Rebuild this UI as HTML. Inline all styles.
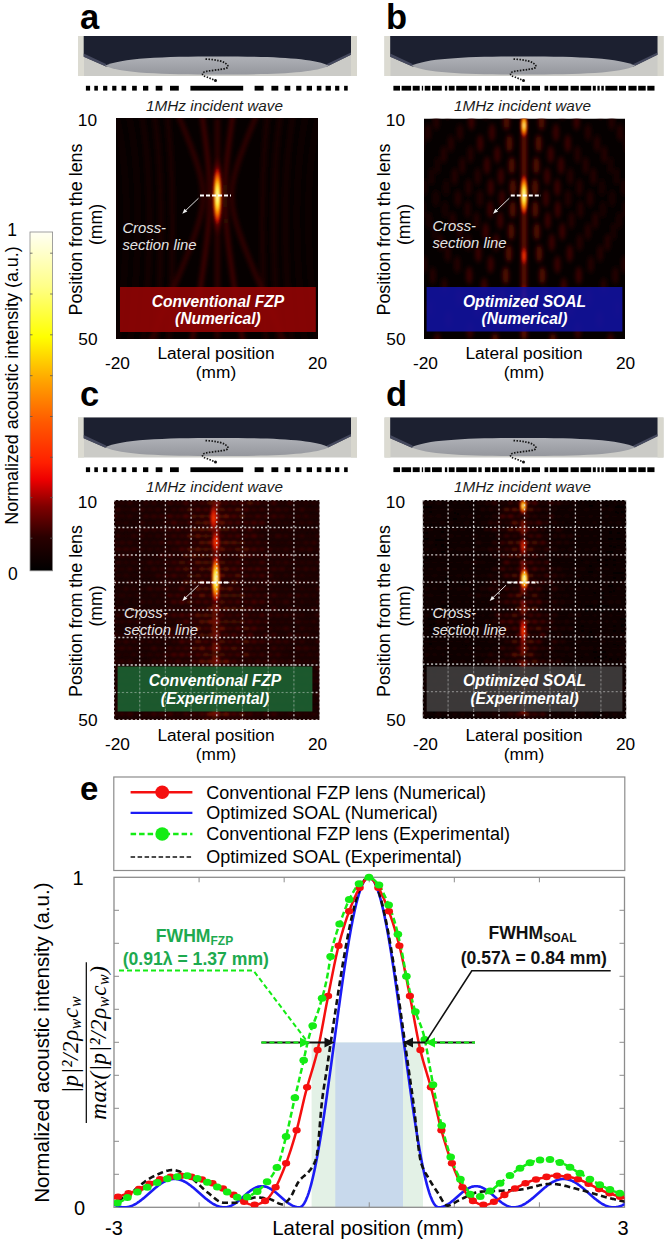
<!DOCTYPE html><html><head><meta charset="utf-8"><style>html,body{margin:0;padding:0;background:#fff;width:666px;height:1243px;overflow:hidden}svg{display:block}</style></head><body><svg width="666" height="1243" viewBox="0 0 666 1243">
<defs>
<filter id="blur1" x="-50%" y="-50%" width="200%" height="200%"><feGaussianBlur stdDeviation="1.2"/></filter>
<filter id="blur2" x="-10%" y="-10%" width="120%" height="120%"><feGaussianBlur stdDeviation="1.5"/></filter><filter id="blur3" x="-10%" y="-10%" width="120%" height="120%"><feGaussianBlur stdDeviation="2.3"/></filter>
<radialGradient id="hot"><stop offset="0" stop-color="#ffffe8"/><stop offset="0.3" stop-color="#ffff40"/><stop offset="0.55" stop-color="#ff9000"/><stop offset="0.8" stop-color="#d01000"/><stop offset="1" stop-color="#500000" stop-opacity="0"/></radialGradient>
<radialGradient id="hot2"><stop offset="0" stop-color="#ffffa0"/><stop offset="0.35" stop-color="#ffb000"/><stop offset="0.7" stop-color="#d02000"/><stop offset="1" stop-color="#500000" stop-opacity="0"/></radialGradient>
<radialGradient id="hot3"><stop offset="0" stop-color="#ff4000"/><stop offset="0.5" stop-color="#c01000"/><stop offset="1" stop-color="#400000" stop-opacity="0"/></radialGradient>
<linearGradient id="cbar" x1="0" y1="1" x2="0" y2="0"><stop offset="0" stop-color="#000"/><stop offset="0.1" stop-color="#2a0000"/><stop offset="0.19" stop-color="#800000"/><stop offset="0.27" stop-color="#ee0000"/><stop offset="0.32" stop-color="#ff2000"/><stop offset="0.44" stop-color="#ff5a00"/><stop offset="0.555" stop-color="#ffa000"/><stop offset="0.69" stop-color="#ffff00"/><stop offset="0.84" stop-color="#ffff88"/><stop offset="1" stop-color="#fffff4"/></linearGradient>
<linearGradient id="disc" x1="0" y1="0" x2="0" y2="1"><stop offset="0" stop-color="#afb1b7"/><stop offset="1" stop-color="#95979d"/></linearGradient>
</defs>
<rect width="666" height="1243" fill="#fff"/>
<text x="80" y="28.5" font-family="Liberation Sans, sans-serif" font-size="34.5" font-weight="bold" font-style="normal" text-anchor="start" fill="#000" >a</text>
<g transform="translate(78,36)">
<rect x="0" y="0" width="279" height="40" fill="#cbcbc7"/>
<rect x="0" y="0" width="6" height="40" fill="#dcdbd2"/>
<rect x="273" y="0" width="6" height="40" fill="#d8d7ce"/>
<path d="M5.7,0 H273 V18.8 L249,30.5 H28 L5.7,20.8 Z" fill="#1c2030"/>
<path d="M5.7,17.5 L28,28 L28,30.5 L5.7,20.8 Z" fill="#50546a" opacity="0.8"/>
<path d="M273,16.5 L249,28 L249,30.5 L273,18.8 Z" fill="#50546a" opacity="0.8"/>
<path d="M27,29.8 C42,22 85,20.4 140,20.4 C195,20.4 236,22 251,29.8 C236,37.2 195,38.6 140,38.6 C85,38.6 42,37.2 27,29.8 Z" fill="url(#disc)"/>
</g>
<path d="M205.5,59.1 C215,59.5 226,61 228.1,66.2 C229,69.5 215,69.6 205.1,71.6 C201,73 202,76 206.5,76.9 L215.3,80.4" fill="none" stroke="#151515" stroke-width="1.7" stroke-dasharray="1.5 1.4"/>
<circle cx="215.5" cy="80.6" r="1.5" fill="#111"/>
<rect x="190.4" y="85.8" width="52.8" height="4.8" fill="#000"/>
<rect x="170.0" y="85.8" width="8.8" height="4.8" fill="#000"/>
<rect x="155.7" y="85.8" width="6.7" height="4.8" fill="#000"/>
<rect x="143.0" y="85.8" width="5.3" height="4.8" fill="#000"/>
<rect x="132.1" y="85.8" width="4.7" height="4.8" fill="#000"/>
<rect x="121.6" y="85.8" width="4.6" height="4.8" fill="#000"/>
<rect x="112.2" y="85.8" width="4.2" height="4.8" fill="#000"/>
<rect x="103.1" y="85.8" width="4.2" height="4.8" fill="#000"/>
<rect x="94.3" y="85.8" width="3.6" height="4.8" fill="#000"/>
<rect x="85.9" y="85.8" width="4.2" height="4.8" fill="#000"/>
<rect x="254.6" y="85.8" width="9.0" height="4.8" fill="#000"/>
<rect x="271.4" y="85.8" width="6.9" height="4.8" fill="#000"/>
<rect x="284.6" y="85.8" width="5.7" height="4.8" fill="#000"/>
<rect x="296.2" y="85.8" width="5.2" height="4.8" fill="#000"/>
<rect x="306.7" y="85.8" width="5.3" height="4.8" fill="#000"/>
<rect x="316.8" y="85.8" width="4.6" height="4.8" fill="#000"/>
<rect x="325.6" y="85.8" width="5.3" height="4.8" fill="#000"/>
<rect x="335.1" y="85.8" width="4.2" height="4.8" fill="#000"/>
<rect x="344.1" y="85.8" width="3.6" height="4.8" fill="#000"/>
<text x="214.5" y="110.5" font-family="Liberation Sans, sans-serif" font-size="15.3" font-weight="normal" font-style="italic" text-anchor="middle" fill="#1a1a1a" >1MHz incident  wave</text>
<text x="97" y="126" font-family="Liberation Sans, sans-serif" font-size="17.3" font-weight="normal" font-style="normal" text-anchor="end" fill="#000" >10</text>
<text x="97.5" y="344.5" font-family="Liberation Sans, sans-serif" font-size="17.3" font-weight="normal" font-style="normal" text-anchor="end" fill="#000" >50</text>
<text transform="translate(82,229.5) rotate(-90)" x="0" y="0" font-family="Liberation Sans, sans-serif" font-size="17.9" font-weight="normal" text-anchor="middle" fill="#000">Position from the lens</text>
<text transform="translate(101.5,224.5) rotate(-90)" x="0" y="0" font-family="Liberation Sans, sans-serif" font-size="17.6" font-weight="normal" text-anchor="middle" fill="#000">(mm)</text>
<text x="117.5" y="368.7" font-family="Liberation Sans, sans-serif" font-size="17.3" font-weight="normal" font-style="normal" text-anchor="middle" fill="#000" >-20</text>
<text x="317.5" y="368.7" font-family="Liberation Sans, sans-serif" font-size="17.3" font-weight="normal" font-style="normal" text-anchor="middle" fill="#000" >20</text>
<text x="216" y="359" font-family="Liberation Sans, sans-serif" font-size="17.3" font-weight="normal" font-style="normal" text-anchor="middle" fill="#000" >Lateral position</text>
<text x="216" y="378.3" font-family="Liberation Sans, sans-serif" font-size="17.3" font-weight="normal" font-style="normal" text-anchor="middle" fill="#000" >(mm)</text>
<clipPath id="clipa"><rect x="116" y="118" width="202" height="221"/></clipPath>
<g clip-path="url(#clipa)">
<rect x="116" y="118" width="202" height="221" fill="#060000"/>
<g filter="url(#blur3)">
<path d="M175.26,108.00 C175.97,109.67 178.09,114.69 179.48,118.04 C180.87,121.39 182.25,124.74 183.61,128.08 C184.98,131.43 186.33,134.78 187.64,138.12 C188.95,141.47 190.26,144.82 191.50,148.17 C192.75,151.51 193.98,154.86 195.12,158.21 C196.26,161.56 197.37,164.90 198.34,168.25 C199.31,171.60 200.23,174.94 200.94,178.29 C201.65,181.64 202.26,184.99 202.59,188.33 C202.93,191.68 203.07,195.03 202.96,198.38 C202.85,201.72 202.48,205.07 201.95,208.42 C201.43,211.76 200.65,215.11 199.81,218.46 C198.96,221.81 197.94,225.15 196.88,228.50 C195.82,231.85 194.64,235.19 193.44,238.54 C192.25,241.89 190.98,245.24 189.70,248.58 C188.42,251.93 187.09,255.28 185.75,258.62 C184.41,261.97 183.05,265.32 181.67,268.67 C180.29,272.01 178.90,275.36 177.49,278.71 C176.09,282.06 174.67,285.40 173.25,288.75 C171.83,292.10 170.39,295.44 168.95,298.79 C167.52,302.14 166.07,305.49 164.62,308.83 C163.17,312.18 161.72,315.53 160.26,318.88 C158.80,322.22 157.34,325.57 155.88,328.92 C154.41,332.26 152.95,335.61 151.48,338.96 C150.01,342.31 147.80,347.33 147.06,349.00" fill="none" stroke="#3a0605" stroke-width="4"/>
<path d="M200.93,108.00 C201.17,109.67 201.92,114.69 202.40,118.04 C202.88,121.39 203.36,124.74 203.82,128.08 C204.29,131.43 204.74,134.78 205.18,138.12 C205.62,141.47 206.05,144.82 206.45,148.17 C206.86,151.51 207.25,154.86 207.61,158.21 C207.96,161.56 208.30,164.90 208.59,168.25 C208.88,171.60 209.14,174.94 209.34,178.29 C209.54,181.64 209.70,184.99 209.79,188.33 C209.88,191.68 209.92,195.03 209.89,198.38 C209.86,201.72 209.77,205.07 209.62,208.42 C209.47,211.76 209.26,215.11 209.02,218.46 C208.77,221.81 208.47,225.15 208.15,228.50 C207.83,231.85 207.46,235.19 207.08,238.54 C206.70,241.89 206.29,245.24 205.87,248.58 C205.44,251.93 205.00,255.28 204.55,258.62 C204.10,261.97 203.63,265.32 203.15,268.67 C202.68,272.01 202.20,275.36 201.71,278.71 C201.22,282.06 200.72,285.40 200.22,288.75 C199.72,292.10 199.21,295.44 198.70,298.79 C198.19,302.14 197.67,305.49 197.15,308.83 C196.64,312.18 196.11,315.53 195.59,318.88 C195.07,322.22 194.54,325.57 194.01,328.92 C193.48,332.26 192.95,335.61 192.42,338.96 C191.89,342.31 191.09,347.33 190.82,349.00" fill="none" stroke="#4a0806" stroke-width="4"/>
<path d="M233.87,108.00 C233.63,109.67 232.88,114.69 232.40,118.04 C231.92,121.39 231.44,124.74 230.98,128.08 C230.51,131.43 230.06,134.78 229.62,138.12 C229.18,141.47 228.75,144.82 228.35,148.17 C227.94,151.51 227.55,154.86 227.19,158.21 C226.84,161.56 226.50,164.90 226.21,168.25 C225.92,171.60 225.66,174.94 225.46,178.29 C225.26,181.64 225.10,184.99 225.01,188.33 C224.92,191.68 224.88,195.03 224.91,198.38 C224.94,201.72 225.03,205.07 225.18,208.42 C225.33,211.76 225.54,215.11 225.78,218.46 C226.03,221.81 226.33,225.15 226.65,228.50 C226.97,231.85 227.34,235.19 227.72,238.54 C228.10,241.89 228.51,245.24 228.93,248.58 C229.36,251.93 229.80,255.28 230.25,258.62 C230.70,261.97 231.17,265.32 231.65,268.67 C232.12,272.01 232.60,275.36 233.09,278.71 C233.58,282.06 234.08,285.40 234.58,288.75 C235.08,292.10 235.59,295.44 236.10,298.79 C236.61,302.14 237.13,305.49 237.65,308.83 C238.16,312.18 238.69,315.53 239.21,318.88 C239.73,322.22 240.26,325.57 240.79,328.92 C241.32,332.26 241.85,335.61 242.38,338.96 C242.91,342.31 243.71,347.33 243.98,349.00" fill="none" stroke="#4a0806" stroke-width="4"/>
<path d="M259.54,108.00 C258.83,109.67 256.71,114.69 255.32,118.04 C253.93,121.39 252.55,124.74 251.19,128.08 C249.82,131.43 248.47,134.78 247.16,138.12 C245.85,141.47 244.54,144.82 243.30,148.17 C242.05,151.51 240.82,154.86 239.68,158.21 C238.54,161.56 237.43,164.90 236.46,168.25 C235.49,171.60 234.57,174.94 233.86,178.29 C233.15,181.64 232.54,184.99 232.21,188.33 C231.87,191.68 231.73,195.03 231.84,198.38 C231.95,201.72 232.32,205.07 232.85,208.42 C233.37,211.76 234.15,215.11 234.99,218.46 C235.84,221.81 236.86,225.15 237.92,228.50 C238.98,231.85 240.16,235.19 241.36,238.54 C242.55,241.89 243.82,245.24 245.10,248.58 C246.38,251.93 247.71,255.28 249.05,258.62 C250.39,261.97 251.75,265.32 253.13,268.67 C254.51,272.01 255.90,275.36 257.31,278.71 C258.71,282.06 260.13,285.40 261.55,288.75 C262.97,292.10 264.41,295.44 265.85,298.79 C267.28,302.14 268.73,305.49 270.18,308.83 C271.63,312.18 273.08,315.53 274.54,318.88 C276.00,322.22 277.46,325.57 278.92,328.92 C280.39,332.26 281.85,335.61 283.32,338.96 C284.79,342.31 287.00,347.33 287.74,349.00" fill="none" stroke="#3a0605" stroke-width="4"/>
<path d="M166.4,108 Q177.4,196 168.4,349" fill="none" stroke="#2a0504" stroke-width="4.5" opacity="0.72"/>
<path d="M268.4,108 Q257.4,196 266.4,349" fill="none" stroke="#2a0504" stroke-width="4.5" opacity="0.72"/>
<path d="M153.4,108 Q167.4,196 155.4,349" fill="none" stroke="#2a0504" stroke-width="4.5" opacity="0.61"/>
<path d="M281.4,108 Q267.4,196 279.4,349" fill="none" stroke="#2a0504" stroke-width="4.5" opacity="0.61"/>
<path d="M140.4,108 Q157.4,196 142.4,349" fill="none" stroke="#2a0504" stroke-width="4.5" opacity="0.50"/>
<path d="M294.4,108 Q277.4,196 292.4,349" fill="none" stroke="#2a0504" stroke-width="4.5" opacity="0.50"/>
<path d="M127.4,108 Q147.4,196 129.4,349" fill="none" stroke="#2a0504" stroke-width="4.5" opacity="0.39"/>
<path d="M307.4,108 Q287.4,196 305.4,349" fill="none" stroke="#2a0504" stroke-width="4.5" opacity="0.39"/>
<path d="M114.4,108 Q137.4,196 116.4,349" fill="none" stroke="#2a0504" stroke-width="4.5" opacity="0.28"/>
<path d="M320.4,108 Q297.4,196 318.4,349" fill="none" stroke="#2a0504" stroke-width="4.5" opacity="0.28"/>
<path d="M101.4,108 Q127.4,196 103.4,349" fill="none" stroke="#2a0504" stroke-width="4.5" opacity="0.25"/>
<path d="M333.4,108 Q307.4,196 331.4,349" fill="none" stroke="#2a0504" stroke-width="4.5" opacity="0.25"/>
<line x1="217.4" y1="118" x2="217.4" y2="339" stroke="#3a0604" stroke-width="4"/>
</g>
<g filter="url(#blur1)">
<ellipse cx="217.4" cy="196" rx="7" ry="42" fill="url(#hot3)" opacity="0.8"/>
<ellipse cx="217.4" cy="196" rx="4.3" ry="31" fill="url(#hot)"/>
</g>
<rect x="120" y="287" width="195.8" height="45" fill="#920404" opacity="0.9"/>
</g>
<text x="217.9" y="306.5" font-family="Liberation Sans, sans-serif" font-size="15.6" font-weight="bold" font-style="italic" text-anchor="middle" fill="#fff" >Conventional FZP</text>
<text x="217.9" y="324" font-family="Liberation Sans, sans-serif" font-size="15.6" font-weight="bold" font-style="italic" text-anchor="middle" fill="#fff" >(Numerical)</text>
<line x1="200" y1="195.5" x2="231" y2="195.5" stroke="#fff" stroke-width="2" stroke-dasharray="4 2"/>
<line x1="198.5" y1="198.2" x2="184.3" y2="211.79999999999998" stroke="#ddd" stroke-width="1"/>
<path d="M182.3,213.79999999999998 l2.2,-5 l2.8,2.8 z" fill="#eee"/>
<text x="122.4" y="232.8" font-family="Liberation Sans, sans-serif" font-size="14.8" font-weight="normal" font-style="italic" text-anchor="start" fill="#e4e4e4" >Cross-</text>
<text x="122.4" y="250.10000000000002" font-family="Liberation Sans, sans-serif" font-size="14.8" font-weight="normal" font-style="italic" text-anchor="start" fill="#e4e4e4" >section line</text>
<text x="386" y="28.5" font-family="Liberation Sans, sans-serif" font-size="34.5" font-weight="bold" font-style="normal" text-anchor="start" fill="#000" >b</text>
<g transform="translate(384.5,36)">
<rect x="0" y="0" width="279" height="40" fill="#cbcbc7"/>
<rect x="0" y="0" width="6" height="40" fill="#dcdbd2"/>
<rect x="273" y="0" width="6" height="40" fill="#d8d7ce"/>
<path d="M5.7,0 H273 V18.8 L249,30.5 H28 L5.7,20.8 Z" fill="#1c2030"/>
<path d="M5.7,17.5 L28,28 L28,30.5 L5.7,20.8 Z" fill="#50546a" opacity="0.8"/>
<path d="M273,16.5 L249,28 L249,30.5 L273,18.8 Z" fill="#50546a" opacity="0.8"/>
<path d="M27,29.8 C42,22 85,20.4 140,20.4 C195,20.4 236,22 251,29.8 C236,37.2 195,38.6 140,38.6 C85,38.6 42,37.2 27,29.8 Z" fill="url(#disc)"/>
</g>
<path d="M513.5,59.1 C523,59.5 534,61 536.1,66.2 C537,69.5 523,69.6 513.1,71.6 C509,73 510,76 514.5,76.9 L523.3,80.4" fill="none" stroke="#151515" stroke-width="1.7" stroke-dasharray="1.5 1.4"/>
<circle cx="523.5" cy="80.6" r="1.5" fill="#111"/>
<rect x="393.4" y="85.8" width="6.6" height="4.8" fill="#000"/>
<rect x="401.6" y="85.8" width="9.5" height="4.8" fill="#000"/>
<rect x="412.7" y="85.8" width="7.0" height="4.8" fill="#000"/>
<rect x="421.8" y="85.8" width="1.3" height="4.8" fill="#000"/>
<rect x="424.7" y="85.8" width="5.7" height="4.8" fill="#000"/>
<rect x="432.0" y="85.8" width="9.8" height="4.8" fill="#000"/>
<rect x="444.9" y="85.8" width="2.3" height="4.8" fill="#000"/>
<rect x="448.8" y="85.8" width="5.8" height="4.8" fill="#000"/>
<rect x="456.2" y="85.8" width="11.0" height="4.8" fill="#000"/>
<rect x="468.8" y="85.8" width="7.9" height="4.8" fill="#000"/>
<rect x="478.3" y="85.8" width="3.4" height="4.8" fill="#000"/>
<rect x="484.9" y="85.8" width="5.5" height="4.8" fill="#000"/>
<rect x="492.0" y="85.8" width="6.8" height="4.8" fill="#000"/>
<rect x="500.4" y="85.8" width="6.8" height="4.8" fill="#000"/>
<rect x="508.8" y="85.8" width="4.7" height="4.8" fill="#000"/>
<rect x="515.1" y="85.8" width="4.8" height="4.8" fill="#000"/>
<rect x="521.5" y="85.8" width="8.6" height="4.8" fill="#000"/>
<rect x="531.7" y="85.8" width="8.3" height="4.8" fill="#000"/>
<rect x="544.5" y="85.8" width="3.7" height="4.8" fill="#000"/>
<rect x="549.8" y="85.8" width="7.4" height="4.8" fill="#000"/>
<rect x="558.8" y="85.8" width="9.5" height="4.8" fill="#000"/>
<rect x="570.6" y="85.8" width="8.2" height="4.8" fill="#000"/>
<rect x="580.4" y="85.8" width="10.8" height="4.8" fill="#000"/>
<rect x="592.8" y="85.8" width="3.0" height="4.8" fill="#000"/>
<rect x="597.4" y="85.8" width="2.3" height="4.8" fill="#000"/>
<rect x="601.3" y="85.8" width="2.5" height="4.8" fill="#000"/>
<rect x="605.4" y="85.8" width="12.0" height="4.8" fill="#000"/>
<rect x="619.0" y="85.8" width="7.0" height="4.8" fill="#000"/>
<rect x="628.4" y="85.8" width="8.2" height="4.8" fill="#000"/>
<rect x="638.2" y="85.8" width="7.5" height="4.8" fill="#000"/>
<rect x="647.3" y="85.8" width="7.2" height="4.8" fill="#000"/>
<text x="522.5" y="110.5" font-family="Liberation Sans, sans-serif" font-size="15.3" font-weight="normal" font-style="italic" text-anchor="middle" fill="#1a1a1a" >1MHz incident  wave</text>
<text x="405" y="126" font-family="Liberation Sans, sans-serif" font-size="17.3" font-weight="normal" font-style="normal" text-anchor="end" fill="#000" >10</text>
<text x="405.5" y="344.5" font-family="Liberation Sans, sans-serif" font-size="17.3" font-weight="normal" font-style="normal" text-anchor="end" fill="#000" >50</text>
<text transform="translate(390,229.5) rotate(-90)" x="0" y="0" font-family="Liberation Sans, sans-serif" font-size="17.9" font-weight="normal" text-anchor="middle" fill="#000">Position from the lens</text>
<text transform="translate(409.5,224.5) rotate(-90)" x="0" y="0" font-family="Liberation Sans, sans-serif" font-size="17.6" font-weight="normal" text-anchor="middle" fill="#000">(mm)</text>
<text x="425.5" y="368.7" font-family="Liberation Sans, sans-serif" font-size="17.3" font-weight="normal" font-style="normal" text-anchor="middle" fill="#000" >-20</text>
<text x="625.5" y="368.7" font-family="Liberation Sans, sans-serif" font-size="17.3" font-weight="normal" font-style="normal" text-anchor="middle" fill="#000" >20</text>
<text x="524" y="359" font-family="Liberation Sans, sans-serif" font-size="17.3" font-weight="normal" font-style="normal" text-anchor="middle" fill="#000" >Lateral position</text>
<text x="524" y="378.3" font-family="Liberation Sans, sans-serif" font-size="17.3" font-weight="normal" font-style="normal" text-anchor="middle" fill="#000" >(mm)</text>
<clipPath id="clipb"><rect x="424" y="118.5" width="201" height="220.5"/></clipPath>
<g clip-path="url(#clipb)">
<rect x="424" y="118.5" width="201" height="220.5" fill="#050000"/>
<g filter="url(#blur3)">
<ellipse cx="366.2" cy="121.5" rx="3" ry="9" fill="#1a0202"/>
<ellipse cx="392.5" cy="143.5" rx="3" ry="9" fill="#1a0202"/>
<ellipse cx="412.9" cy="165.5" rx="3" ry="9" fill="#1a0202"/>
<ellipse cx="424.0" cy="187.5" rx="3" ry="9" fill="#1a0202"/>
<ellipse cx="422.5" cy="209.5" rx="3" ry="9" fill="#1a0202"/>
<ellipse cx="409.0" cy="231.5" rx="3" ry="9" fill="#1a0202"/>
<ellipse cx="386.9" cy="253.5" rx="3" ry="9" fill="#1a0202"/>
<ellipse cx="359.7" cy="275.5" rx="3" ry="9" fill="#1a0202"/>
<ellipse cx="329.5" cy="297.5" rx="3" ry="9" fill="#1a0202"/>
<ellipse cx="297.4" cy="319.5" rx="3" ry="9" fill="#1a0202"/>
<ellipse cx="264.3" cy="341.5" rx="3" ry="9" fill="#1a0202"/>
<ellipse cx="370.8" cy="110.5" rx="3" ry="9" fill="#1a0202"/>
<ellipse cx="395.9" cy="132.5" rx="3" ry="9" fill="#1a0202"/>
<ellipse cx="417.0" cy="154.5" rx="3" ry="9" fill="#1a0202"/>
<ellipse cx="431.5" cy="176.5" rx="3" ry="9" fill="#1a0202"/>
<ellipse cx="435.9" cy="198.5" rx="3" ry="9" fill="#1a0202"/>
<ellipse cx="428.9" cy="220.5" rx="3" ry="9" fill="#1a0202"/>
<ellipse cx="412.7" cy="242.5" rx="3" ry="9" fill="#1a0202"/>
<ellipse cx="390.4" cy="264.5" rx="3" ry="9" fill="#1a0202"/>
<ellipse cx="364.7" cy="286.5" rx="3" ry="9" fill="#1a0202"/>
<ellipse cx="337.0" cy="308.5" rx="3" ry="9" fill="#1a0202"/>
<ellipse cx="308.0" cy="330.5" rx="3" ry="9" fill="#1a0202"/>
<ellipse cx="401.2" cy="121.5" rx="3" ry="9" fill="#1a0202"/>
<ellipse cx="421.7" cy="143.5" rx="3" ry="9" fill="#1a0202"/>
<ellipse cx="437.6" cy="165.5" rx="3" ry="9" fill="#1a0202"/>
<ellipse cx="446.2" cy="187.5" rx="3" ry="9" fill="#1a0202"/>
<ellipse cx="445.1" cy="209.5" rx="3" ry="9" fill="#1a0202"/>
<ellipse cx="434.5" cy="231.5" rx="3" ry="9" fill="#1a0202"/>
<ellipse cx="417.4" cy="253.5" rx="3" ry="9" fill="#1a0202"/>
<ellipse cx="396.2" cy="275.5" rx="3" ry="9" fill="#1a0202"/>
<ellipse cx="372.7" cy="297.5" rx="3" ry="9" fill="#1a0202"/>
<ellipse cx="347.8" cy="319.5" rx="3" ry="9" fill="#1a0202"/>
<ellipse cx="322.0" cy="341.5" rx="3" ry="9" fill="#1a0202"/>
<ellipse cx="409.1" cy="110.5" rx="3" ry="9" fill="#260404"/>
<ellipse cx="427.9" cy="132.5" rx="3" ry="9" fill="#260404"/>
<ellipse cx="443.8" cy="154.5" rx="3" ry="9" fill="#260404"/>
<ellipse cx="454.6" cy="176.5" rx="3" ry="9" fill="#260404"/>
<ellipse cx="457.9" cy="198.5" rx="3" ry="9" fill="#260404"/>
<ellipse cx="452.7" cy="220.5" rx="3" ry="9" fill="#260404"/>
<ellipse cx="440.5" cy="242.5" rx="3" ry="9" fill="#260404"/>
<ellipse cx="423.8" cy="264.5" rx="3" ry="9" fill="#260404"/>
<ellipse cx="404.6" cy="286.5" rx="3" ry="9" fill="#260404"/>
<ellipse cx="383.8" cy="308.5" rx="3" ry="9" fill="#260404"/>
<ellipse cx="362.0" cy="330.5" rx="3" ry="9" fill="#260404"/>
<ellipse cx="436.3" cy="121.5" rx="3" ry="9" fill="#260404"/>
<ellipse cx="450.9" cy="143.5" rx="3" ry="9" fill="#260404"/>
<ellipse cx="462.3" cy="165.5" rx="3" ry="9" fill="#260404"/>
<ellipse cx="468.5" cy="187.5" rx="3" ry="9" fill="#260404"/>
<ellipse cx="467.6" cy="209.5" rx="3" ry="9" fill="#260404"/>
<ellipse cx="460.1" cy="231.5" rx="3" ry="9" fill="#260404"/>
<ellipse cx="447.8" cy="253.5" rx="3" ry="9" fill="#260404"/>
<ellipse cx="432.7" cy="275.5" rx="3" ry="9" fill="#260404"/>
<ellipse cx="415.9" cy="297.5" rx="3" ry="9" fill="#260404"/>
<ellipse cx="398.1" cy="319.5" rx="3" ry="9" fill="#260404"/>
<ellipse cx="379.7" cy="341.5" rx="3" ry="9" fill="#260404"/>
<ellipse cx="447.4" cy="110.5" rx="3" ry="9" fill="#260404"/>
<ellipse cx="459.9" cy="132.5" rx="3" ry="9" fill="#260404"/>
<ellipse cx="470.5" cy="154.5" rx="3" ry="9" fill="#260404"/>
<ellipse cx="477.7" cy="176.5" rx="3" ry="9" fill="#260404"/>
<ellipse cx="480.0" cy="198.5" rx="3" ry="9" fill="#260404"/>
<ellipse cx="476.5" cy="220.5" rx="3" ry="9" fill="#260404"/>
<ellipse cx="468.3" cy="242.5" rx="3" ry="9" fill="#260404"/>
<ellipse cx="457.2" cy="264.5" rx="3" ry="9" fill="#260404"/>
<ellipse cx="444.4" cy="286.5" rx="3" ry="9" fill="#260404"/>
<ellipse cx="430.5" cy="308.5" rx="3" ry="9" fill="#260404"/>
<ellipse cx="416.0" cy="330.5" rx="3" ry="9" fill="#260404"/>
<ellipse cx="471.4" cy="121.5" rx="3" ry="9" fill="#3c0605"/>
<ellipse cx="480.2" cy="143.5" rx="3" ry="9" fill="#3c0605"/>
<ellipse cx="487.0" cy="165.5" rx="3" ry="9" fill="#3c0605"/>
<ellipse cx="490.7" cy="187.5" rx="3" ry="9" fill="#3c0605"/>
<ellipse cx="490.2" cy="209.5" rx="3" ry="9" fill="#3c0605"/>
<ellipse cx="485.7" cy="231.5" rx="3" ry="9" fill="#3c0605"/>
<ellipse cx="478.3" cy="253.5" rx="3" ry="9" fill="#3c0605"/>
<ellipse cx="469.2" cy="275.5" rx="3" ry="9" fill="#3c0605"/>
<ellipse cx="459.2" cy="297.5" rx="3" ry="9" fill="#3c0605"/>
<ellipse cx="448.5" cy="319.5" rx="3" ry="9" fill="#3c0605"/>
<ellipse cx="437.4" cy="341.5" rx="3" ry="9" fill="#3c0605"/>
<ellipse cx="485.7" cy="110.5" rx="3" ry="9" fill="#3c0605"/>
<ellipse cx="492.0" cy="132.5" rx="3" ry="9" fill="#3c0605"/>
<ellipse cx="497.3" cy="154.5" rx="3" ry="9" fill="#3c0605"/>
<ellipse cx="500.9" cy="176.5" rx="3" ry="9" fill="#3c0605"/>
<ellipse cx="502.0" cy="198.5" rx="3" ry="9" fill="#3c0605"/>
<ellipse cx="500.2" cy="220.5" rx="3" ry="9" fill="#3c0605"/>
<ellipse cx="496.2" cy="242.5" rx="3" ry="9" fill="#3c0605"/>
<ellipse cx="490.6" cy="264.5" rx="3" ry="9" fill="#3c0605"/>
<ellipse cx="484.2" cy="286.5" rx="3" ry="9" fill="#3c0605"/>
<ellipse cx="477.2" cy="308.5" rx="3" ry="9" fill="#3c0605"/>
<ellipse cx="470.0" cy="330.5" rx="3" ry="9" fill="#3c0605"/>
<ellipse cx="506.5" cy="121.5" rx="3" ry="9" fill="#5a0906"/>
<ellipse cx="509.4" cy="143.5" rx="3" ry="9" fill="#5a0906"/>
<ellipse cx="511.7" cy="165.5" rx="3" ry="9" fill="#5a0906"/>
<ellipse cx="512.9" cy="187.5" rx="3" ry="9" fill="#5a0906"/>
<ellipse cx="512.7" cy="209.5" rx="3" ry="9" fill="#5a0906"/>
<ellipse cx="511.2" cy="231.5" rx="3" ry="9" fill="#5a0906"/>
<ellipse cx="508.8" cy="253.5" rx="3" ry="9" fill="#5a0906"/>
<ellipse cx="505.7" cy="275.5" rx="3" ry="9" fill="#5a0906"/>
<ellipse cx="502.4" cy="297.5" rx="3" ry="9" fill="#5a0906"/>
<ellipse cx="498.8" cy="319.5" rx="3" ry="9" fill="#5a0906"/>
<ellipse cx="495.1" cy="341.5" rx="3" ry="9" fill="#5a0906"/>
<ellipse cx="541.5" cy="121.5" rx="3" ry="9" fill="#5a0906"/>
<ellipse cx="538.6" cy="143.5" rx="3" ry="9" fill="#5a0906"/>
<ellipse cx="536.3" cy="165.5" rx="3" ry="9" fill="#5a0906"/>
<ellipse cx="535.1" cy="187.5" rx="3" ry="9" fill="#5a0906"/>
<ellipse cx="535.3" cy="209.5" rx="3" ry="9" fill="#5a0906"/>
<ellipse cx="536.8" cy="231.5" rx="3" ry="9" fill="#5a0906"/>
<ellipse cx="539.2" cy="253.5" rx="3" ry="9" fill="#5a0906"/>
<ellipse cx="542.3" cy="275.5" rx="3" ry="9" fill="#5a0906"/>
<ellipse cx="545.6" cy="297.5" rx="3" ry="9" fill="#5a0906"/>
<ellipse cx="549.2" cy="319.5" rx="3" ry="9" fill="#5a0906"/>
<ellipse cx="552.9" cy="341.5" rx="3" ry="9" fill="#5a0906"/>
<ellipse cx="562.3" cy="110.5" rx="3" ry="9" fill="#3c0605"/>
<ellipse cx="556.0" cy="132.5" rx="3" ry="9" fill="#3c0605"/>
<ellipse cx="550.7" cy="154.5" rx="3" ry="9" fill="#3c0605"/>
<ellipse cx="547.1" cy="176.5" rx="3" ry="9" fill="#3c0605"/>
<ellipse cx="546.0" cy="198.5" rx="3" ry="9" fill="#3c0605"/>
<ellipse cx="547.8" cy="220.5" rx="3" ry="9" fill="#3c0605"/>
<ellipse cx="551.8" cy="242.5" rx="3" ry="9" fill="#3c0605"/>
<ellipse cx="557.4" cy="264.5" rx="3" ry="9" fill="#3c0605"/>
<ellipse cx="563.8" cy="286.5" rx="3" ry="9" fill="#3c0605"/>
<ellipse cx="570.8" cy="308.5" rx="3" ry="9" fill="#3c0605"/>
<ellipse cx="578.0" cy="330.5" rx="3" ry="9" fill="#3c0605"/>
<ellipse cx="576.6" cy="121.5" rx="3" ry="9" fill="#3c0605"/>
<ellipse cx="567.8" cy="143.5" rx="3" ry="9" fill="#3c0605"/>
<ellipse cx="561.0" cy="165.5" rx="3" ry="9" fill="#3c0605"/>
<ellipse cx="557.3" cy="187.5" rx="3" ry="9" fill="#3c0605"/>
<ellipse cx="557.8" cy="209.5" rx="3" ry="9" fill="#3c0605"/>
<ellipse cx="562.3" cy="231.5" rx="3" ry="9" fill="#3c0605"/>
<ellipse cx="569.7" cy="253.5" rx="3" ry="9" fill="#3c0605"/>
<ellipse cx="578.8" cy="275.5" rx="3" ry="9" fill="#3c0605"/>
<ellipse cx="588.8" cy="297.5" rx="3" ry="9" fill="#3c0605"/>
<ellipse cx="599.5" cy="319.5" rx="3" ry="9" fill="#3c0605"/>
<ellipse cx="610.6" cy="341.5" rx="3" ry="9" fill="#3c0605"/>
<ellipse cx="600.6" cy="110.5" rx="3" ry="9" fill="#260404"/>
<ellipse cx="588.1" cy="132.5" rx="3" ry="9" fill="#260404"/>
<ellipse cx="577.5" cy="154.5" rx="3" ry="9" fill="#260404"/>
<ellipse cx="570.3" cy="176.5" rx="3" ry="9" fill="#260404"/>
<ellipse cx="568.0" cy="198.5" rx="3" ry="9" fill="#260404"/>
<ellipse cx="571.5" cy="220.5" rx="3" ry="9" fill="#260404"/>
<ellipse cx="579.7" cy="242.5" rx="3" ry="9" fill="#260404"/>
<ellipse cx="590.8" cy="264.5" rx="3" ry="9" fill="#260404"/>
<ellipse cx="603.6" cy="286.5" rx="3" ry="9" fill="#260404"/>
<ellipse cx="617.5" cy="308.5" rx="3" ry="9" fill="#260404"/>
<ellipse cx="632.0" cy="330.5" rx="3" ry="9" fill="#260404"/>
<ellipse cx="611.7" cy="121.5" rx="3" ry="9" fill="#260404"/>
<ellipse cx="597.1" cy="143.5" rx="3" ry="9" fill="#260404"/>
<ellipse cx="585.7" cy="165.5" rx="3" ry="9" fill="#260404"/>
<ellipse cx="579.5" cy="187.5" rx="3" ry="9" fill="#260404"/>
<ellipse cx="580.4" cy="209.5" rx="3" ry="9" fill="#260404"/>
<ellipse cx="587.9" cy="231.5" rx="3" ry="9" fill="#260404"/>
<ellipse cx="600.2" cy="253.5" rx="3" ry="9" fill="#260404"/>
<ellipse cx="615.3" cy="275.5" rx="3" ry="9" fill="#260404"/>
<ellipse cx="632.1" cy="297.5" rx="3" ry="9" fill="#260404"/>
<ellipse cx="649.9" cy="319.5" rx="3" ry="9" fill="#260404"/>
<ellipse cx="668.3" cy="341.5" rx="3" ry="9" fill="#260404"/>
<ellipse cx="638.9" cy="110.5" rx="3" ry="9" fill="#260404"/>
<ellipse cx="620.1" cy="132.5" rx="3" ry="9" fill="#260404"/>
<ellipse cx="604.2" cy="154.5" rx="3" ry="9" fill="#260404"/>
<ellipse cx="593.4" cy="176.5" rx="3" ry="9" fill="#260404"/>
<ellipse cx="590.1" cy="198.5" rx="3" ry="9" fill="#260404"/>
<ellipse cx="595.3" cy="220.5" rx="3" ry="9" fill="#260404"/>
<ellipse cx="607.5" cy="242.5" rx="3" ry="9" fill="#260404"/>
<ellipse cx="624.2" cy="264.5" rx="3" ry="9" fill="#260404"/>
<ellipse cx="643.4" cy="286.5" rx="3" ry="9" fill="#260404"/>
<ellipse cx="664.2" cy="308.5" rx="3" ry="9" fill="#260404"/>
<ellipse cx="686.0" cy="330.5" rx="3" ry="9" fill="#260404"/>
<ellipse cx="646.8" cy="121.5" rx="3" ry="9" fill="#1a0202"/>
<ellipse cx="626.3" cy="143.5" rx="3" ry="9" fill="#1a0202"/>
<ellipse cx="610.4" cy="165.5" rx="3" ry="9" fill="#1a0202"/>
<ellipse cx="601.8" cy="187.5" rx="3" ry="9" fill="#1a0202"/>
<ellipse cx="602.9" cy="209.5" rx="3" ry="9" fill="#1a0202"/>
<ellipse cx="613.5" cy="231.5" rx="3" ry="9" fill="#1a0202"/>
<ellipse cx="630.6" cy="253.5" rx="3" ry="9" fill="#1a0202"/>
<ellipse cx="651.8" cy="275.5" rx="3" ry="9" fill="#1a0202"/>
<ellipse cx="675.3" cy="297.5" rx="3" ry="9" fill="#1a0202"/>
<ellipse cx="700.2" cy="319.5" rx="3" ry="9" fill="#1a0202"/>
<ellipse cx="726.0" cy="341.5" rx="3" ry="9" fill="#1a0202"/>
<ellipse cx="677.2" cy="110.5" rx="3" ry="9" fill="#1a0202"/>
<ellipse cx="652.1" cy="132.5" rx="3" ry="9" fill="#1a0202"/>
<ellipse cx="631.0" cy="154.5" rx="3" ry="9" fill="#1a0202"/>
<ellipse cx="616.5" cy="176.5" rx="3" ry="9" fill="#1a0202"/>
<ellipse cx="612.1" cy="198.5" rx="3" ry="9" fill="#1a0202"/>
<ellipse cx="619.1" cy="220.5" rx="3" ry="9" fill="#1a0202"/>
<ellipse cx="635.3" cy="242.5" rx="3" ry="9" fill="#1a0202"/>
<ellipse cx="657.6" cy="264.5" rx="3" ry="9" fill="#1a0202"/>
<ellipse cx="683.3" cy="286.5" rx="3" ry="9" fill="#1a0202"/>
<ellipse cx="711.0" cy="308.5" rx="3" ry="9" fill="#1a0202"/>
<ellipse cx="740.0" cy="330.5" rx="3" ry="9" fill="#1a0202"/>
<ellipse cx="681.8" cy="121.5" rx="3" ry="9" fill="#1a0202"/>
<ellipse cx="655.5" cy="143.5" rx="3" ry="9" fill="#1a0202"/>
<ellipse cx="635.1" cy="165.5" rx="3" ry="9" fill="#1a0202"/>
<ellipse cx="624.0" cy="187.5" rx="3" ry="9" fill="#1a0202"/>
<ellipse cx="625.5" cy="209.5" rx="3" ry="9" fill="#1a0202"/>
<ellipse cx="639.0" cy="231.5" rx="3" ry="9" fill="#1a0202"/>
<ellipse cx="661.1" cy="253.5" rx="3" ry="9" fill="#1a0202"/>
<ellipse cx="688.3" cy="275.5" rx="3" ry="9" fill="#1a0202"/>
<ellipse cx="718.5" cy="297.5" rx="3" ry="9" fill="#1a0202"/>
<ellipse cx="750.6" cy="319.5" rx="3" ry="9" fill="#1a0202"/>
<ellipse cx="783.7" cy="341.5" rx="3" ry="9" fill="#1a0202"/>
<line x1="524" y1="118.5" x2="524" y2="339.0" stroke="#6a0a05" stroke-width="5"/>
</g>
<g filter="url(#blur1)">
<ellipse cx="524" cy="195" rx="4.2" ry="22" fill="url(#hot)"/>
<ellipse cx="524" cy="125.5" rx="4" ry="14" fill="url(#hot2)"/>
<ellipse cx="524" cy="256" rx="3.5" ry="12" fill="url(#hot3)"/>
<ellipse cx="524" cy="296" rx="3.5" ry="14" fill="url(#hot3)"/>
</g>
<rect x="426.6" y="287" width="195.79999999999995" height="44.5" fill="#12129e" opacity="0.9"/>
</g>
<text x="524.5" y="306.5" font-family="Liberation Sans, sans-serif" font-size="15.6" font-weight="bold" font-style="italic" text-anchor="middle" fill="#fff" >Optimized SOAL</text>
<text x="524.5" y="324" font-family="Liberation Sans, sans-serif" font-size="15.6" font-weight="bold" font-style="italic" text-anchor="middle" fill="#fff" >(Numerical)</text>
<line x1="510.8" y1="195.5" x2="541" y2="195.5" stroke="#fff" stroke-width="2" stroke-dasharray="4 2"/>
<line x1="509.3" y1="198.2" x2="495.1" y2="211.79999999999998" stroke="#ddd" stroke-width="1"/>
<path d="M493.1,213.79999999999998 l2.2,-5 l2.8,2.8 z" fill="#eee"/>
<text x="432.4" y="231" font-family="Liberation Sans, sans-serif" font-size="14.8" font-weight="normal" font-style="italic" text-anchor="start" fill="#e4e4e4" >Cross-</text>
<text x="432.4" y="248.3" font-family="Liberation Sans, sans-serif" font-size="14.8" font-weight="normal" font-style="italic" text-anchor="start" fill="#e4e4e4" >section line</text>
<text x="80" y="405.5" font-family="Liberation Sans, sans-serif" font-size="34.5" font-weight="bold" font-style="normal" text-anchor="start" fill="#000" >c</text>
<g transform="translate(78,417.5)">
<rect x="0" y="0" width="279" height="40" fill="#cbcbc7"/>
<rect x="0" y="0" width="6" height="40" fill="#dcdbd2"/>
<rect x="273" y="0" width="6" height="40" fill="#d8d7ce"/>
<path d="M5.7,0 H273 V18.8 L249,30.5 H28 L5.7,20.8 Z" fill="#1c2030"/>
<path d="M5.7,17.5 L28,28 L28,30.5 L5.7,20.8 Z" fill="#50546a" opacity="0.8"/>
<path d="M273,16.5 L249,28 L249,30.5 L273,18.8 Z" fill="#50546a" opacity="0.8"/>
<path d="M27,29.8 C42,22 85,20.4 140,20.4 C195,20.4 236,22 251,29.8 C236,37.2 195,38.6 140,38.6 C85,38.6 42,37.2 27,29.8 Z" fill="url(#disc)"/>
</g>
<path d="M205.5,440.6 C215,441.0 226,442.5 228.1,447.7 C229,451.0 215,451.1 205.1,453.1 C201,454.5 202,457.5 206.5,458.4 L215.3,461.9" fill="none" stroke="#151515" stroke-width="1.7" stroke-dasharray="1.5 1.4"/>
<circle cx="215.5" cy="462.1" r="1.5" fill="#111"/>
<rect x="190.4" y="467.3" width="52.8" height="4.8" fill="#000"/>
<rect x="170.0" y="467.3" width="8.8" height="4.8" fill="#000"/>
<rect x="155.7" y="467.3" width="6.7" height="4.8" fill="#000"/>
<rect x="143.0" y="467.3" width="5.3" height="4.8" fill="#000"/>
<rect x="132.1" y="467.3" width="4.7" height="4.8" fill="#000"/>
<rect x="121.6" y="467.3" width="4.6" height="4.8" fill="#000"/>
<rect x="112.2" y="467.3" width="4.2" height="4.8" fill="#000"/>
<rect x="103.1" y="467.3" width="4.2" height="4.8" fill="#000"/>
<rect x="94.3" y="467.3" width="3.6" height="4.8" fill="#000"/>
<rect x="85.9" y="467.3" width="4.2" height="4.8" fill="#000"/>
<rect x="254.6" y="467.3" width="9.0" height="4.8" fill="#000"/>
<rect x="271.4" y="467.3" width="6.9" height="4.8" fill="#000"/>
<rect x="284.6" y="467.3" width="5.7" height="4.8" fill="#000"/>
<rect x="296.2" y="467.3" width="5.2" height="4.8" fill="#000"/>
<rect x="306.7" y="467.3" width="5.3" height="4.8" fill="#000"/>
<rect x="316.8" y="467.3" width="4.6" height="4.8" fill="#000"/>
<rect x="325.6" y="467.3" width="5.3" height="4.8" fill="#000"/>
<rect x="335.1" y="467.3" width="4.2" height="4.8" fill="#000"/>
<rect x="344.1" y="467.3" width="3.6" height="4.8" fill="#000"/>
<text x="214.5" y="492.0" font-family="Liberation Sans, sans-serif" font-size="15.3" font-weight="normal" font-style="italic" text-anchor="middle" fill="#1a1a1a" >1MHz incident  wave</text>
<text x="97" y="507.5" font-family="Liberation Sans, sans-serif" font-size="17.3" font-weight="normal" font-style="normal" text-anchor="end" fill="#000" >10</text>
<text x="97.5" y="726.0" font-family="Liberation Sans, sans-serif" font-size="17.3" font-weight="normal" font-style="normal" text-anchor="end" fill="#000" >50</text>
<text transform="translate(82,611.0) rotate(-90)" x="0" y="0" font-family="Liberation Sans, sans-serif" font-size="17.9" font-weight="normal" text-anchor="middle" fill="#000">Position from the lens</text>
<text transform="translate(101.5,606.0) rotate(-90)" x="0" y="0" font-family="Liberation Sans, sans-serif" font-size="17.6" font-weight="normal" text-anchor="middle" fill="#000">(mm)</text>
<text x="117.5" y="750.2" font-family="Liberation Sans, sans-serif" font-size="17.3" font-weight="normal" font-style="normal" text-anchor="middle" fill="#000" >-20</text>
<text x="317.5" y="750.2" font-family="Liberation Sans, sans-serif" font-size="17.3" font-weight="normal" font-style="normal" text-anchor="middle" fill="#000" >20</text>
<text x="216" y="740.5" font-family="Liberation Sans, sans-serif" font-size="17.3" font-weight="normal" font-style="normal" text-anchor="middle" fill="#000" >Lateral position</text>
<text x="216" y="759.8" font-family="Liberation Sans, sans-serif" font-size="17.3" font-weight="normal" font-style="normal" text-anchor="middle" fill="#000" >(mm)</text>
<clipPath id="clipc"><rect x="114" y="500" width="205.6" height="220"/></clipPath>
<g clip-path="url(#clipc)">
<rect x="114" y="500" width="205.6" height="220" fill="#120101"/>
<g filter="url(#blur2)">
<ellipse cx="114.0" cy="503.0" rx="3.6" ry="2.2" fill="rgb(40,3,1)"/>
<ellipse cx="122.0" cy="503.0" rx="3.6" ry="2.2" fill="rgb(37,3,1)"/>
<ellipse cx="130.0" cy="503.0" rx="3.6" ry="2.2" fill="rgb(47,4,2)"/>
<ellipse cx="138.0" cy="503.0" rx="3.6" ry="2.2" fill="rgb(36,3,1)"/>
<ellipse cx="146.0" cy="503.0" rx="3.6" ry="2.2" fill="rgb(46,4,2)"/>
<ellipse cx="154.0" cy="503.0" rx="3.6" ry="2.2" fill="rgb(45,4,2)"/>
<ellipse cx="162.0" cy="503.0" rx="3.6" ry="2.2" fill="rgb(40,3,1)"/>
<ellipse cx="170.0" cy="503.0" rx="3.6" ry="2.2" fill="rgb(56,5,2)"/>
<ellipse cx="178.0" cy="503.0" rx="3.6" ry="2.2" fill="rgb(47,4,2)"/>
<ellipse cx="186.0" cy="503.0" rx="3.6" ry="2.2" fill="rgb(67,5,2)"/>
<ellipse cx="194.0" cy="503.0" rx="3.6" ry="2.2" fill="rgb(58,5,2)"/>
<ellipse cx="202.0" cy="503.0" rx="3.6" ry="2.2" fill="rgb(64,5,2)"/>
<ellipse cx="210.0" cy="503.0" rx="3.6" ry="2.2" fill="rgb(84,7,3)"/>
<ellipse cx="218.0" cy="503.0" rx="3.6" ry="2.2" fill="rgb(105,9,4)"/>
<ellipse cx="226.0" cy="503.0" rx="3.6" ry="2.2" fill="rgb(67,5,2)"/>
<ellipse cx="234.0" cy="503.0" rx="3.6" ry="2.2" fill="rgb(67,6,3)"/>
<ellipse cx="242.0" cy="503.0" rx="3.6" ry="2.2" fill="rgb(78,6,3)"/>
<ellipse cx="250.0" cy="503.0" rx="3.6" ry="2.2" fill="rgb(81,7,3)"/>
<ellipse cx="258.0" cy="503.0" rx="3.6" ry="2.2" fill="rgb(61,5,2)"/>
<ellipse cx="266.0" cy="503.0" rx="3.6" ry="2.2" fill="rgb(50,4,2)"/>
<ellipse cx="274.0" cy="503.0" rx="3.6" ry="2.2" fill="rgb(60,5,2)"/>
<ellipse cx="282.0" cy="503.0" rx="3.6" ry="2.2" fill="rgb(37,3,1)"/>
<ellipse cx="290.0" cy="503.0" rx="3.6" ry="2.2" fill="rgb(52,4,2)"/>
<ellipse cx="298.0" cy="503.0" rx="3.6" ry="2.2" fill="rgb(40,3,1)"/>
<ellipse cx="306.0" cy="503.0" rx="3.6" ry="2.2" fill="rgb(37,3,1)"/>
<ellipse cx="314.0" cy="503.0" rx="3.6" ry="2.2" fill="rgb(37,3,1)"/>
<ellipse cx="322.0" cy="503.0" rx="3.6" ry="2.2" fill="rgb(40,3,1)"/>
<ellipse cx="118.0" cy="509.6" rx="3.6" ry="2.2" fill="rgb(50,4,2)"/>
<ellipse cx="126.0" cy="509.6" rx="3.6" ry="2.2" fill="rgb(38,3,1)"/>
<ellipse cx="134.0" cy="509.6" rx="3.6" ry="2.2" fill="rgb(46,4,2)"/>
<ellipse cx="142.0" cy="509.6" rx="3.6" ry="2.2" fill="rgb(48,4,2)"/>
<ellipse cx="150.0" cy="509.6" rx="3.6" ry="2.2" fill="rgb(44,4,2)"/>
<ellipse cx="158.0" cy="509.6" rx="3.6" ry="2.2" fill="rgb(50,4,2)"/>
<ellipse cx="166.0" cy="509.6" rx="3.6" ry="2.2" fill="rgb(42,3,1)"/>
<ellipse cx="174.0" cy="509.6" rx="3.6" ry="2.2" fill="rgb(46,4,2)"/>
<ellipse cx="182.0" cy="509.6" rx="3.6" ry="2.2" fill="rgb(55,5,2)"/>
<ellipse cx="190.0" cy="509.6" rx="3.6" ry="2.2" fill="rgb(80,7,3)"/>
<ellipse cx="198.0" cy="509.6" rx="3.6" ry="2.2" fill="rgb(77,6,3)"/>
<ellipse cx="206.0" cy="509.6" rx="3.6" ry="2.2" fill="rgb(76,6,3)"/>
<ellipse cx="214.0" cy="509.6" rx="3.6" ry="2.2" fill="rgb(93,8,4)"/>
<ellipse cx="222.0" cy="509.6" rx="3.6" ry="2.2" fill="rgb(85,7,3)"/>
<ellipse cx="230.0" cy="509.6" rx="3.6" ry="2.2" fill="rgb(73,6,3)"/>
<ellipse cx="238.0" cy="509.6" rx="3.6" ry="2.2" fill="rgb(89,7,3)"/>
<ellipse cx="246.0" cy="509.6" rx="3.6" ry="2.2" fill="rgb(76,6,3)"/>
<ellipse cx="254.0" cy="509.6" rx="3.6" ry="2.2" fill="rgb(53,4,2)"/>
<ellipse cx="262.0" cy="509.6" rx="3.6" ry="2.2" fill="rgb(57,5,2)"/>
<ellipse cx="270.0" cy="509.6" rx="3.6" ry="2.2" fill="rgb(51,4,2)"/>
<ellipse cx="278.0" cy="509.6" rx="3.6" ry="2.2" fill="rgb(56,5,2)"/>
<ellipse cx="286.0" cy="509.6" rx="3.6" ry="2.2" fill="rgb(50,4,2)"/>
<ellipse cx="294.0" cy="509.6" rx="3.6" ry="2.2" fill="rgb(41,3,1)"/>
<ellipse cx="302.0" cy="509.6" rx="3.6" ry="2.2" fill="rgb(53,4,2)"/>
<ellipse cx="310.0" cy="509.6" rx="3.6" ry="2.2" fill="rgb(37,3,1)"/>
<ellipse cx="318.0" cy="509.6" rx="3.6" ry="2.2" fill="rgb(42,3,1)"/>
<ellipse cx="114.0" cy="516.2" rx="3.6" ry="2.2" fill="rgb(48,4,2)"/>
<ellipse cx="122.0" cy="516.2" rx="3.6" ry="2.2" fill="rgb(37,3,1)"/>
<ellipse cx="130.0" cy="516.2" rx="3.6" ry="2.2" fill="rgb(44,4,2)"/>
<ellipse cx="138.0" cy="516.2" rx="3.6" ry="2.2" fill="rgb(36,3,1)"/>
<ellipse cx="146.0" cy="516.2" rx="3.6" ry="2.2" fill="rgb(49,4,2)"/>
<ellipse cx="154.0" cy="516.2" rx="3.6" ry="2.2" fill="rgb(53,4,2)"/>
<ellipse cx="162.0" cy="516.2" rx="3.6" ry="2.2" fill="rgb(53,4,2)"/>
<ellipse cx="170.0" cy="516.2" rx="3.6" ry="2.2" fill="rgb(66,5,2)"/>
<ellipse cx="178.0" cy="516.2" rx="3.6" ry="2.2" fill="rgb(56,5,2)"/>
<ellipse cx="186.0" cy="516.2" rx="3.6" ry="2.2" fill="rgb(77,6,3)"/>
<ellipse cx="194.0" cy="516.2" rx="3.6" ry="2.2" fill="rgb(81,7,3)"/>
<ellipse cx="202.0" cy="516.2" rx="3.6" ry="2.2" fill="rgb(87,7,3)"/>
<ellipse cx="210.0" cy="516.2" rx="3.6" ry="2.2" fill="rgb(85,7,3)"/>
<ellipse cx="218.0" cy="516.2" rx="3.6" ry="2.2" fill="rgb(106,9,4)"/>
<ellipse cx="226.0" cy="516.2" rx="3.6" ry="2.2" fill="rgb(108,9,4)"/>
<ellipse cx="234.0" cy="516.2" rx="3.6" ry="2.2" fill="rgb(79,6,3)"/>
<ellipse cx="242.0" cy="516.2" rx="3.6" ry="2.2" fill="rgb(79,7,3)"/>
<ellipse cx="250.0" cy="516.2" rx="3.6" ry="2.2" fill="rgb(50,4,2)"/>
<ellipse cx="258.0" cy="516.2" rx="3.6" ry="2.2" fill="rgb(64,5,2)"/>
<ellipse cx="266.0" cy="516.2" rx="3.6" ry="2.2" fill="rgb(57,5,2)"/>
<ellipse cx="274.0" cy="516.2" rx="3.6" ry="2.2" fill="rgb(60,5,2)"/>
<ellipse cx="282.0" cy="516.2" rx="3.6" ry="2.2" fill="rgb(53,4,2)"/>
<ellipse cx="290.0" cy="516.2" rx="3.6" ry="2.2" fill="rgb(41,3,1)"/>
<ellipse cx="298.0" cy="516.2" rx="3.6" ry="2.2" fill="rgb(42,3,1)"/>
<ellipse cx="306.0" cy="516.2" rx="3.6" ry="2.2" fill="rgb(47,4,2)"/>
<ellipse cx="314.0" cy="516.2" rx="3.6" ry="2.2" fill="rgb(35,3,1)"/>
<ellipse cx="322.0" cy="516.2" rx="3.6" ry="2.2" fill="rgb(43,3,1)"/>
<ellipse cx="118.0" cy="522.8" rx="3.6" ry="2.2" fill="rgb(38,3,1)"/>
<ellipse cx="126.0" cy="522.8" rx="3.6" ry="2.2" fill="rgb(37,3,1)"/>
<ellipse cx="134.0" cy="522.8" rx="3.6" ry="2.2" fill="rgb(36,3,1)"/>
<ellipse cx="142.0" cy="522.8" rx="3.6" ry="2.2" fill="rgb(50,4,2)"/>
<ellipse cx="150.0" cy="522.8" rx="3.6" ry="2.2" fill="rgb(39,3,1)"/>
<ellipse cx="158.0" cy="522.8" rx="3.6" ry="2.2" fill="rgb(43,4,2)"/>
<ellipse cx="166.0" cy="522.8" rx="3.6" ry="2.2" fill="rgb(50,4,2)"/>
<ellipse cx="174.0" cy="522.8" rx="3.6" ry="2.2" fill="rgb(70,6,3)"/>
<ellipse cx="182.0" cy="522.8" rx="3.6" ry="2.2" fill="rgb(51,4,2)"/>
<ellipse cx="190.0" cy="522.8" rx="3.6" ry="2.2" fill="rgb(71,6,3)"/>
<ellipse cx="198.0" cy="522.8" rx="3.6" ry="2.2" fill="rgb(83,7,3)"/>
<ellipse cx="206.0" cy="522.8" rx="3.6" ry="2.2" fill="rgb(105,9,4)"/>
<ellipse cx="214.0" cy="522.8" rx="3.6" ry="2.2" fill="rgb(105,9,4)"/>
<ellipse cx="222.0" cy="522.8" rx="3.6" ry="2.2" fill="rgb(106,9,4)"/>
<ellipse cx="230.0" cy="522.8" rx="3.6" ry="2.2" fill="rgb(72,6,3)"/>
<ellipse cx="238.0" cy="522.8" rx="3.6" ry="2.2" fill="rgb(73,6,3)"/>
<ellipse cx="246.0" cy="522.8" rx="3.6" ry="2.2" fill="rgb(64,5,2)"/>
<ellipse cx="254.0" cy="522.8" rx="3.6" ry="2.2" fill="rgb(74,6,3)"/>
<ellipse cx="262.0" cy="522.8" rx="3.6" ry="2.2" fill="rgb(68,6,3)"/>
<ellipse cx="270.0" cy="522.8" rx="3.6" ry="2.2" fill="rgb(42,3,1)"/>
<ellipse cx="278.0" cy="522.8" rx="3.6" ry="2.2" fill="rgb(41,3,1)"/>
<ellipse cx="286.0" cy="522.8" rx="3.6" ry="2.2" fill="rgb(40,3,1)"/>
<ellipse cx="294.0" cy="522.8" rx="3.6" ry="2.2" fill="rgb(40,3,1)"/>
<ellipse cx="302.0" cy="522.8" rx="3.6" ry="2.2" fill="rgb(44,4,2)"/>
<ellipse cx="310.0" cy="522.8" rx="3.6" ry="2.2" fill="rgb(45,4,2)"/>
<ellipse cx="318.0" cy="522.8" rx="3.6" ry="2.2" fill="rgb(39,3,1)"/>
<ellipse cx="114.0" cy="529.4" rx="3.6" ry="2.2" fill="rgb(35,3,1)"/>
<ellipse cx="122.0" cy="529.4" rx="3.6" ry="2.2" fill="rgb(42,3,1)"/>
<ellipse cx="130.0" cy="529.4" rx="3.6" ry="2.2" fill="rgb(42,3,1)"/>
<ellipse cx="138.0" cy="529.4" rx="3.6" ry="2.2" fill="rgb(46,4,2)"/>
<ellipse cx="146.0" cy="529.4" rx="3.6" ry="2.2" fill="rgb(55,4,2)"/>
<ellipse cx="154.0" cy="529.4" rx="3.6" ry="2.2" fill="rgb(52,4,2)"/>
<ellipse cx="162.0" cy="529.4" rx="3.6" ry="2.2" fill="rgb(51,4,2)"/>
<ellipse cx="170.0" cy="529.4" rx="3.6" ry="2.2" fill="rgb(59,5,2)"/>
<ellipse cx="178.0" cy="529.4" rx="3.6" ry="2.2" fill="rgb(68,6,3)"/>
<ellipse cx="186.0" cy="529.4" rx="3.6" ry="2.2" fill="rgb(52,4,2)"/>
<ellipse cx="194.0" cy="529.4" rx="3.6" ry="2.2" fill="rgb(94,8,4)"/>
<ellipse cx="202.0" cy="529.4" rx="3.6" ry="2.2" fill="rgb(97,8,4)"/>
<ellipse cx="210.0" cy="529.4" rx="3.6" ry="2.2" fill="rgb(107,9,4)"/>
<ellipse cx="218.0" cy="529.4" rx="3.6" ry="2.2" fill="rgb(104,9,4)"/>
<ellipse cx="226.0" cy="529.4" rx="3.6" ry="2.2" fill="rgb(80,7,3)"/>
<ellipse cx="234.0" cy="529.4" rx="3.6" ry="2.2" fill="rgb(75,6,3)"/>
<ellipse cx="242.0" cy="529.4" rx="3.6" ry="2.2" fill="rgb(57,5,2)"/>
<ellipse cx="250.0" cy="529.4" rx="3.6" ry="2.2" fill="rgb(70,6,3)"/>
<ellipse cx="258.0" cy="529.4" rx="3.6" ry="2.2" fill="rgb(45,4,2)"/>
<ellipse cx="266.0" cy="529.4" rx="3.6" ry="2.2" fill="rgb(42,3,1)"/>
<ellipse cx="274.0" cy="529.4" rx="3.6" ry="2.2" fill="rgb(42,3,1)"/>
<ellipse cx="282.0" cy="529.4" rx="3.6" ry="2.2" fill="rgb(40,3,1)"/>
<ellipse cx="290.0" cy="529.4" rx="3.6" ry="2.2" fill="rgb(42,3,1)"/>
<ellipse cx="298.0" cy="529.4" rx="3.6" ry="2.2" fill="rgb(36,3,1)"/>
<ellipse cx="306.0" cy="529.4" rx="3.6" ry="2.2" fill="rgb(35,3,1)"/>
<ellipse cx="314.0" cy="529.4" rx="3.6" ry="2.2" fill="rgb(37,3,1)"/>
<ellipse cx="322.0" cy="529.4" rx="3.6" ry="2.2" fill="rgb(36,3,1)"/>
<ellipse cx="118.0" cy="536.0" rx="3.6" ry="2.2" fill="rgb(41,3,1)"/>
<ellipse cx="126.0" cy="536.0" rx="3.6" ry="2.2" fill="rgb(35,3,1)"/>
<ellipse cx="134.0" cy="536.0" rx="3.6" ry="2.2" fill="rgb(51,4,2)"/>
<ellipse cx="142.0" cy="536.0" rx="3.6" ry="2.2" fill="rgb(47,4,2)"/>
<ellipse cx="150.0" cy="536.0" rx="3.6" ry="2.2" fill="rgb(39,3,1)"/>
<ellipse cx="158.0" cy="536.0" rx="3.6" ry="2.2" fill="rgb(44,4,2)"/>
<ellipse cx="166.0" cy="536.0" rx="3.6" ry="2.2" fill="rgb(49,4,2)"/>
<ellipse cx="174.0" cy="536.0" rx="3.6" ry="2.2" fill="rgb(55,4,2)"/>
<ellipse cx="182.0" cy="536.0" rx="3.6" ry="2.2" fill="rgb(52,4,2)"/>
<ellipse cx="190.0" cy="536.0" rx="3.6" ry="2.2" fill="rgb(87,7,3)"/>
<ellipse cx="198.0" cy="536.0" rx="3.6" ry="2.2" fill="rgb(103,9,4)"/>
<ellipse cx="206.0" cy="536.0" rx="3.6" ry="2.2" fill="rgb(84,7,3)"/>
<ellipse cx="214.0" cy="536.0" rx="3.6" ry="2.2" fill="rgb(87,7,3)"/>
<ellipse cx="222.0" cy="536.0" rx="3.6" ry="2.2" fill="rgb(66,5,2)"/>
<ellipse cx="230.0" cy="536.0" rx="3.6" ry="2.2" fill="rgb(64,5,2)"/>
<ellipse cx="238.0" cy="536.0" rx="3.6" ry="2.2" fill="rgb(70,6,3)"/>
<ellipse cx="246.0" cy="536.0" rx="3.6" ry="2.2" fill="rgb(60,5,2)"/>
<ellipse cx="254.0" cy="536.0" rx="3.6" ry="2.2" fill="rgb(72,6,3)"/>
<ellipse cx="262.0" cy="536.0" rx="3.6" ry="2.2" fill="rgb(46,4,2)"/>
<ellipse cx="270.0" cy="536.0" rx="3.6" ry="2.2" fill="rgb(39,3,1)"/>
<ellipse cx="278.0" cy="536.0" rx="3.6" ry="2.2" fill="rgb(57,5,2)"/>
<ellipse cx="286.0" cy="536.0" rx="3.6" ry="2.2" fill="rgb(46,4,2)"/>
<ellipse cx="294.0" cy="536.0" rx="3.6" ry="2.2" fill="rgb(38,3,1)"/>
<ellipse cx="302.0" cy="536.0" rx="3.6" ry="2.2" fill="rgb(45,4,2)"/>
<ellipse cx="310.0" cy="536.0" rx="3.6" ry="2.2" fill="rgb(35,3,1)"/>
<ellipse cx="318.0" cy="536.0" rx="3.6" ry="2.2" fill="rgb(44,4,2)"/>
<ellipse cx="114.0" cy="542.6" rx="3.6" ry="2.2" fill="rgb(52,4,2)"/>
<ellipse cx="122.0" cy="542.6" rx="3.6" ry="2.2" fill="rgb(50,4,2)"/>
<ellipse cx="130.0" cy="542.6" rx="3.6" ry="2.2" fill="rgb(48,4,2)"/>
<ellipse cx="138.0" cy="542.6" rx="3.6" ry="2.2" fill="rgb(40,3,1)"/>
<ellipse cx="146.0" cy="542.6" rx="3.6" ry="2.2" fill="rgb(43,3,1)"/>
<ellipse cx="154.0" cy="542.6" rx="3.6" ry="2.2" fill="rgb(41,3,1)"/>
<ellipse cx="162.0" cy="542.6" rx="3.6" ry="2.2" fill="rgb(57,5,2)"/>
<ellipse cx="170.0" cy="542.6" rx="3.6" ry="2.2" fill="rgb(57,5,2)"/>
<ellipse cx="178.0" cy="542.6" rx="3.6" ry="2.2" fill="rgb(71,6,3)"/>
<ellipse cx="186.0" cy="542.6" rx="3.6" ry="2.2" fill="rgb(63,5,2)"/>
<ellipse cx="194.0" cy="542.6" rx="3.6" ry="2.2" fill="rgb(65,5,2)"/>
<ellipse cx="202.0" cy="542.6" rx="3.6" ry="2.2" fill="rgb(98,8,4)"/>
<ellipse cx="210.0" cy="542.6" rx="3.6" ry="2.2" fill="rgb(112,9,4)"/>
<ellipse cx="218.0" cy="542.6" rx="3.6" ry="2.2" fill="rgb(107,9,4)"/>
<ellipse cx="226.0" cy="542.6" rx="3.6" ry="2.2" fill="rgb(101,8,4)"/>
<ellipse cx="234.0" cy="542.6" rx="3.6" ry="2.2" fill="rgb(95,8,4)"/>
<ellipse cx="242.0" cy="542.6" rx="3.6" ry="2.2" fill="rgb(82,7,3)"/>
<ellipse cx="250.0" cy="542.6" rx="3.6" ry="2.2" fill="rgb(56,5,2)"/>
<ellipse cx="258.0" cy="542.6" rx="3.6" ry="2.2" fill="rgb(59,5,2)"/>
<ellipse cx="266.0" cy="542.6" rx="3.6" ry="2.2" fill="rgb(49,4,2)"/>
<ellipse cx="274.0" cy="542.6" rx="3.6" ry="2.2" fill="rgb(38,3,1)"/>
<ellipse cx="282.0" cy="542.6" rx="3.6" ry="2.2" fill="rgb(37,3,1)"/>
<ellipse cx="290.0" cy="542.6" rx="3.6" ry="2.2" fill="rgb(41,3,1)"/>
<ellipse cx="298.0" cy="542.6" rx="3.6" ry="2.2" fill="rgb(40,3,1)"/>
<ellipse cx="306.0" cy="542.6" rx="3.6" ry="2.2" fill="rgb(47,4,2)"/>
<ellipse cx="314.0" cy="542.6" rx="3.6" ry="2.2" fill="rgb(52,4,2)"/>
<ellipse cx="322.0" cy="542.6" rx="3.6" ry="2.2" fill="rgb(43,3,1)"/>
<ellipse cx="118.0" cy="549.2" rx="3.6" ry="2.2" fill="rgb(52,4,2)"/>
<ellipse cx="126.0" cy="549.2" rx="3.6" ry="2.2" fill="rgb(53,4,2)"/>
<ellipse cx="134.0" cy="549.2" rx="3.6" ry="2.2" fill="rgb(53,4,2)"/>
<ellipse cx="142.0" cy="549.2" rx="3.6" ry="2.2" fill="rgb(42,3,1)"/>
<ellipse cx="150.0" cy="549.2" rx="3.6" ry="2.2" fill="rgb(41,3,1)"/>
<ellipse cx="158.0" cy="549.2" rx="3.6" ry="2.2" fill="rgb(43,3,1)"/>
<ellipse cx="166.0" cy="549.2" rx="3.6" ry="2.2" fill="rgb(45,4,2)"/>
<ellipse cx="174.0" cy="549.2" rx="3.6" ry="2.2" fill="rgb(50,4,2)"/>
<ellipse cx="182.0" cy="549.2" rx="3.6" ry="2.2" fill="rgb(70,6,3)"/>
<ellipse cx="190.0" cy="549.2" rx="3.6" ry="2.2" fill="rgb(89,7,3)"/>
<ellipse cx="198.0" cy="549.2" rx="3.6" ry="2.2" fill="rgb(96,8,4)"/>
<ellipse cx="206.0" cy="549.2" rx="3.6" ry="2.2" fill="rgb(85,7,3)"/>
<ellipse cx="214.0" cy="549.2" rx="3.6" ry="2.2" fill="rgb(96,8,4)"/>
<ellipse cx="222.0" cy="549.2" rx="3.6" ry="2.2" fill="rgb(103,9,4)"/>
<ellipse cx="230.0" cy="549.2" rx="3.6" ry="2.2" fill="rgb(63,5,2)"/>
<ellipse cx="238.0" cy="549.2" rx="3.6" ry="2.2" fill="rgb(83,7,3)"/>
<ellipse cx="246.0" cy="549.2" rx="3.6" ry="2.2" fill="rgb(84,7,3)"/>
<ellipse cx="254.0" cy="549.2" rx="3.6" ry="2.2" fill="rgb(71,6,3)"/>
<ellipse cx="262.0" cy="549.2" rx="3.6" ry="2.2" fill="rgb(62,5,2)"/>
<ellipse cx="270.0" cy="549.2" rx="3.6" ry="2.2" fill="rgb(50,4,2)"/>
<ellipse cx="278.0" cy="549.2" rx="3.6" ry="2.2" fill="rgb(41,3,1)"/>
<ellipse cx="286.0" cy="549.2" rx="3.6" ry="2.2" fill="rgb(51,4,2)"/>
<ellipse cx="294.0" cy="549.2" rx="3.6" ry="2.2" fill="rgb(41,3,1)"/>
<ellipse cx="302.0" cy="549.2" rx="3.6" ry="2.2" fill="rgb(50,4,2)"/>
<ellipse cx="310.0" cy="549.2" rx="3.6" ry="2.2" fill="rgb(52,4,2)"/>
<ellipse cx="318.0" cy="549.2" rx="3.6" ry="2.2" fill="rgb(42,3,1)"/>
<ellipse cx="114.0" cy="555.8" rx="3.6" ry="2.2" fill="rgb(42,3,1)"/>
<ellipse cx="122.0" cy="555.8" rx="3.6" ry="2.2" fill="rgb(52,4,2)"/>
<ellipse cx="130.0" cy="555.8" rx="3.6" ry="2.2" fill="rgb(48,4,2)"/>
<ellipse cx="138.0" cy="555.8" rx="3.6" ry="2.2" fill="rgb(38,3,1)"/>
<ellipse cx="146.0" cy="555.8" rx="3.6" ry="2.2" fill="rgb(38,3,1)"/>
<ellipse cx="154.0" cy="555.8" rx="3.6" ry="2.2" fill="rgb(40,3,1)"/>
<ellipse cx="162.0" cy="555.8" rx="3.6" ry="2.2" fill="rgb(61,5,2)"/>
<ellipse cx="170.0" cy="555.8" rx="3.6" ry="2.2" fill="rgb(64,5,2)"/>
<ellipse cx="178.0" cy="555.8" rx="3.6" ry="2.2" fill="rgb(51,4,2)"/>
<ellipse cx="186.0" cy="555.8" rx="3.6" ry="2.2" fill="rgb(82,7,3)"/>
<ellipse cx="194.0" cy="555.8" rx="3.6" ry="2.2" fill="rgb(98,8,4)"/>
<ellipse cx="202.0" cy="555.8" rx="3.6" ry="2.2" fill="rgb(91,8,4)"/>
<ellipse cx="210.0" cy="555.8" rx="3.6" ry="2.2" fill="rgb(80,7,3)"/>
<ellipse cx="218.0" cy="555.8" rx="3.6" ry="2.2" fill="rgb(91,8,4)"/>
<ellipse cx="226.0" cy="555.8" rx="3.6" ry="2.2" fill="rgb(67,6,3)"/>
<ellipse cx="234.0" cy="555.8" rx="3.6" ry="2.2" fill="rgb(58,5,2)"/>
<ellipse cx="242.0" cy="555.8" rx="3.6" ry="2.2" fill="rgb(92,8,4)"/>
<ellipse cx="250.0" cy="555.8" rx="3.6" ry="2.2" fill="rgb(70,6,3)"/>
<ellipse cx="258.0" cy="555.8" rx="3.6" ry="2.2" fill="rgb(59,5,2)"/>
<ellipse cx="266.0" cy="555.8" rx="3.6" ry="2.2" fill="rgb(64,5,2)"/>
<ellipse cx="274.0" cy="555.8" rx="3.6" ry="2.2" fill="rgb(48,4,2)"/>
<ellipse cx="282.0" cy="555.8" rx="3.6" ry="2.2" fill="rgb(54,4,2)"/>
<ellipse cx="290.0" cy="555.8" rx="3.6" ry="2.2" fill="rgb(51,4,2)"/>
<ellipse cx="298.0" cy="555.8" rx="3.6" ry="2.2" fill="rgb(39,3,1)"/>
<ellipse cx="306.0" cy="555.8" rx="3.6" ry="2.2" fill="rgb(39,3,1)"/>
<ellipse cx="314.0" cy="555.8" rx="3.6" ry="2.2" fill="rgb(40,3,1)"/>
<ellipse cx="322.0" cy="555.8" rx="3.6" ry="2.2" fill="rgb(39,3,1)"/>
<ellipse cx="118.0" cy="562.4" rx="3.6" ry="2.2" fill="rgb(45,4,2)"/>
<ellipse cx="126.0" cy="562.4" rx="3.6" ry="2.2" fill="rgb(39,3,1)"/>
<ellipse cx="134.0" cy="562.4" rx="3.6" ry="2.2" fill="rgb(43,3,1)"/>
<ellipse cx="142.0" cy="562.4" rx="3.6" ry="2.2" fill="rgb(38,3,1)"/>
<ellipse cx="150.0" cy="562.4" rx="3.6" ry="2.2" fill="rgb(55,4,2)"/>
<ellipse cx="158.0" cy="562.4" rx="3.6" ry="2.2" fill="rgb(46,4,2)"/>
<ellipse cx="166.0" cy="562.4" rx="3.6" ry="2.2" fill="rgb(52,4,2)"/>
<ellipse cx="174.0" cy="562.4" rx="3.6" ry="2.2" fill="rgb(61,5,2)"/>
<ellipse cx="182.0" cy="562.4" rx="3.6" ry="2.2" fill="rgb(80,7,3)"/>
<ellipse cx="190.0" cy="562.4" rx="3.6" ry="2.2" fill="rgb(70,6,3)"/>
<ellipse cx="198.0" cy="562.4" rx="3.6" ry="2.2" fill="rgb(100,8,4)"/>
<ellipse cx="206.0" cy="562.4" rx="3.6" ry="2.2" fill="rgb(86,7,3)"/>
<ellipse cx="214.0" cy="562.4" rx="3.6" ry="2.2" fill="rgb(90,7,3)"/>
<ellipse cx="222.0" cy="562.4" rx="3.6" ry="2.2" fill="rgb(89,7,3)"/>
<ellipse cx="230.0" cy="562.4" rx="3.6" ry="2.2" fill="rgb(60,5,2)"/>
<ellipse cx="238.0" cy="562.4" rx="3.6" ry="2.2" fill="rgb(74,6,3)"/>
<ellipse cx="246.0" cy="562.4" rx="3.6" ry="2.2" fill="rgb(57,5,2)"/>
<ellipse cx="254.0" cy="562.4" rx="3.6" ry="2.2" fill="rgb(46,4,2)"/>
<ellipse cx="262.0" cy="562.4" rx="3.6" ry="2.2" fill="rgb(64,5,2)"/>
<ellipse cx="270.0" cy="562.4" rx="3.6" ry="2.2" fill="rgb(43,3,1)"/>
<ellipse cx="278.0" cy="562.4" rx="3.6" ry="2.2" fill="rgb(47,4,2)"/>
<ellipse cx="286.0" cy="562.4" rx="3.6" ry="2.2" fill="rgb(50,4,2)"/>
<ellipse cx="294.0" cy="562.4" rx="3.6" ry="2.2" fill="rgb(46,4,2)"/>
<ellipse cx="302.0" cy="562.4" rx="3.6" ry="2.2" fill="rgb(41,3,1)"/>
<ellipse cx="310.0" cy="562.4" rx="3.6" ry="2.2" fill="rgb(44,4,2)"/>
<ellipse cx="318.0" cy="562.4" rx="3.6" ry="2.2" fill="rgb(45,4,2)"/>
<ellipse cx="114.0" cy="569.0" rx="3.6" ry="2.2" fill="rgb(49,4,2)"/>
<ellipse cx="122.0" cy="569.0" rx="3.6" ry="2.2" fill="rgb(37,3,1)"/>
<ellipse cx="130.0" cy="569.0" rx="3.6" ry="2.2" fill="rgb(45,4,2)"/>
<ellipse cx="138.0" cy="569.0" rx="3.6" ry="2.2" fill="rgb(40,3,1)"/>
<ellipse cx="146.0" cy="569.0" rx="3.6" ry="2.2" fill="rgb(41,3,1)"/>
<ellipse cx="154.0" cy="569.0" rx="3.6" ry="2.2" fill="rgb(54,4,2)"/>
<ellipse cx="162.0" cy="569.0" rx="3.6" ry="2.2" fill="rgb(51,4,2)"/>
<ellipse cx="170.0" cy="569.0" rx="3.6" ry="2.2" fill="rgb(57,5,2)"/>
<ellipse cx="178.0" cy="569.0" rx="3.6" ry="2.2" fill="rgb(70,6,3)"/>
<ellipse cx="186.0" cy="569.0" rx="3.6" ry="2.2" fill="rgb(85,7,3)"/>
<ellipse cx="194.0" cy="569.0" rx="3.6" ry="2.2" fill="rgb(74,6,3)"/>
<ellipse cx="202.0" cy="569.0" rx="3.6" ry="2.2" fill="rgb(89,7,3)"/>
<ellipse cx="210.0" cy="569.0" rx="3.6" ry="2.2" fill="rgb(88,7,3)"/>
<ellipse cx="218.0" cy="569.0" rx="3.6" ry="2.2" fill="rgb(89,7,3)"/>
<ellipse cx="226.0" cy="569.0" rx="3.6" ry="2.2" fill="rgb(95,8,4)"/>
<ellipse cx="234.0" cy="569.0" rx="3.6" ry="2.2" fill="rgb(78,6,3)"/>
<ellipse cx="242.0" cy="569.0" rx="3.6" ry="2.2" fill="rgb(74,6,3)"/>
<ellipse cx="250.0" cy="569.0" rx="3.6" ry="2.2" fill="rgb(64,5,2)"/>
<ellipse cx="258.0" cy="569.0" rx="3.6" ry="2.2" fill="rgb(71,6,3)"/>
<ellipse cx="266.0" cy="569.0" rx="3.6" ry="2.2" fill="rgb(58,5,2)"/>
<ellipse cx="274.0" cy="569.0" rx="3.6" ry="2.2" fill="rgb(57,5,2)"/>
<ellipse cx="282.0" cy="569.0" rx="3.6" ry="2.2" fill="rgb(56,5,2)"/>
<ellipse cx="290.0" cy="569.0" rx="3.6" ry="2.2" fill="rgb(40,3,1)"/>
<ellipse cx="298.0" cy="569.0" rx="3.6" ry="2.2" fill="rgb(45,4,2)"/>
<ellipse cx="306.0" cy="569.0" rx="3.6" ry="2.2" fill="rgb(52,4,2)"/>
<ellipse cx="314.0" cy="569.0" rx="3.6" ry="2.2" fill="rgb(50,4,2)"/>
<ellipse cx="322.0" cy="569.0" rx="3.6" ry="2.2" fill="rgb(37,3,1)"/>
<ellipse cx="118.0" cy="575.6" rx="3.6" ry="2.2" fill="rgb(37,3,1)"/>
<ellipse cx="126.0" cy="575.6" rx="3.6" ry="2.2" fill="rgb(43,3,1)"/>
<ellipse cx="134.0" cy="575.6" rx="3.6" ry="2.2" fill="rgb(36,3,1)"/>
<ellipse cx="142.0" cy="575.6" rx="3.6" ry="2.2" fill="rgb(40,3,1)"/>
<ellipse cx="150.0" cy="575.6" rx="3.6" ry="2.2" fill="rgb(38,3,1)"/>
<ellipse cx="158.0" cy="575.6" rx="3.6" ry="2.2" fill="rgb(53,4,2)"/>
<ellipse cx="166.0" cy="575.6" rx="3.6" ry="2.2" fill="rgb(60,5,2)"/>
<ellipse cx="174.0" cy="575.6" rx="3.6" ry="2.2" fill="rgb(70,6,3)"/>
<ellipse cx="182.0" cy="575.6" rx="3.6" ry="2.2" fill="rgb(53,4,2)"/>
<ellipse cx="190.0" cy="575.6" rx="3.6" ry="2.2" fill="rgb(82,7,3)"/>
<ellipse cx="198.0" cy="575.6" rx="3.6" ry="2.2" fill="rgb(88,7,3)"/>
<ellipse cx="206.0" cy="575.6" rx="3.6" ry="2.2" fill="rgb(68,6,3)"/>
<ellipse cx="214.0" cy="575.6" rx="3.6" ry="2.2" fill="rgb(108,9,4)"/>
<ellipse cx="222.0" cy="575.6" rx="3.6" ry="2.2" fill="rgb(111,9,4)"/>
<ellipse cx="230.0" cy="575.6" rx="3.6" ry="2.2" fill="rgb(70,6,3)"/>
<ellipse cx="238.0" cy="575.6" rx="3.6" ry="2.2" fill="rgb(96,8,4)"/>
<ellipse cx="246.0" cy="575.6" rx="3.6" ry="2.2" fill="rgb(65,5,2)"/>
<ellipse cx="254.0" cy="575.6" rx="3.6" ry="2.2" fill="rgb(61,5,2)"/>
<ellipse cx="262.0" cy="575.6" rx="3.6" ry="2.2" fill="rgb(69,6,3)"/>
<ellipse cx="270.0" cy="575.6" rx="3.6" ry="2.2" fill="rgb(59,5,2)"/>
<ellipse cx="278.0" cy="575.6" rx="3.6" ry="2.2" fill="rgb(40,3,1)"/>
<ellipse cx="286.0" cy="575.6" rx="3.6" ry="2.2" fill="rgb(44,4,2)"/>
<ellipse cx="294.0" cy="575.6" rx="3.6" ry="2.2" fill="rgb(45,4,2)"/>
<ellipse cx="302.0" cy="575.6" rx="3.6" ry="2.2" fill="rgb(41,3,1)"/>
<ellipse cx="310.0" cy="575.6" rx="3.6" ry="2.2" fill="rgb(38,3,1)"/>
<ellipse cx="318.0" cy="575.6" rx="3.6" ry="2.2" fill="rgb(40,3,1)"/>
<ellipse cx="114.0" cy="582.2" rx="3.6" ry="2.2" fill="rgb(48,4,2)"/>
<ellipse cx="122.0" cy="582.2" rx="3.6" ry="2.2" fill="rgb(35,3,1)"/>
<ellipse cx="130.0" cy="582.2" rx="3.6" ry="2.2" fill="rgb(45,4,2)"/>
<ellipse cx="138.0" cy="582.2" rx="3.6" ry="2.2" fill="rgb(43,4,2)"/>
<ellipse cx="146.0" cy="582.2" rx="3.6" ry="2.2" fill="rgb(36,3,1)"/>
<ellipse cx="154.0" cy="582.2" rx="3.6" ry="2.2" fill="rgb(44,4,2)"/>
<ellipse cx="162.0" cy="582.2" rx="3.6" ry="2.2" fill="rgb(54,4,2)"/>
<ellipse cx="170.0" cy="582.2" rx="3.6" ry="2.2" fill="rgb(56,5,2)"/>
<ellipse cx="178.0" cy="582.2" rx="3.6" ry="2.2" fill="rgb(48,4,2)"/>
<ellipse cx="186.0" cy="582.2" rx="3.6" ry="2.2" fill="rgb(88,7,3)"/>
<ellipse cx="194.0" cy="582.2" rx="3.6" ry="2.2" fill="rgb(89,7,3)"/>
<ellipse cx="202.0" cy="582.2" rx="3.6" ry="2.2" fill="rgb(106,9,4)"/>
<ellipse cx="210.0" cy="582.2" rx="3.6" ry="2.2" fill="rgb(67,6,3)"/>
<ellipse cx="218.0" cy="582.2" rx="3.6" ry="2.2" fill="rgb(76,6,3)"/>
<ellipse cx="226.0" cy="582.2" rx="3.6" ry="2.2" fill="rgb(62,5,2)"/>
<ellipse cx="234.0" cy="582.2" rx="3.6" ry="2.2" fill="rgb(93,8,4)"/>
<ellipse cx="242.0" cy="582.2" rx="3.6" ry="2.2" fill="rgb(63,5,2)"/>
<ellipse cx="250.0" cy="582.2" rx="3.6" ry="2.2" fill="rgb(52,4,2)"/>
<ellipse cx="258.0" cy="582.2" rx="3.6" ry="2.2" fill="rgb(56,5,2)"/>
<ellipse cx="266.0" cy="582.2" rx="3.6" ry="2.2" fill="rgb(63,5,2)"/>
<ellipse cx="274.0" cy="582.2" rx="3.6" ry="2.2" fill="rgb(56,5,2)"/>
<ellipse cx="282.0" cy="582.2" rx="3.6" ry="2.2" fill="rgb(42,3,1)"/>
<ellipse cx="290.0" cy="582.2" rx="3.6" ry="2.2" fill="rgb(38,3,1)"/>
<ellipse cx="298.0" cy="582.2" rx="3.6" ry="2.2" fill="rgb(52,4,2)"/>
<ellipse cx="306.0" cy="582.2" rx="3.6" ry="2.2" fill="rgb(45,4,2)"/>
<ellipse cx="314.0" cy="582.2" rx="3.6" ry="2.2" fill="rgb(47,4,2)"/>
<ellipse cx="322.0" cy="582.2" rx="3.6" ry="2.2" fill="rgb(36,3,1)"/>
<ellipse cx="118.0" cy="588.8" rx="3.6" ry="2.2" fill="rgb(36,3,1)"/>
<ellipse cx="126.0" cy="588.8" rx="3.6" ry="2.2" fill="rgb(47,4,2)"/>
<ellipse cx="134.0" cy="588.8" rx="3.6" ry="2.2" fill="rgb(43,3,1)"/>
<ellipse cx="142.0" cy="588.8" rx="3.6" ry="2.2" fill="rgb(37,3,1)"/>
<ellipse cx="150.0" cy="588.8" rx="3.6" ry="2.2" fill="rgb(56,5,2)"/>
<ellipse cx="158.0" cy="588.8" rx="3.6" ry="2.2" fill="rgb(52,4,2)"/>
<ellipse cx="166.0" cy="588.8" rx="3.6" ry="2.2" fill="rgb(61,5,2)"/>
<ellipse cx="174.0" cy="588.8" rx="3.6" ry="2.2" fill="rgb(46,4,2)"/>
<ellipse cx="182.0" cy="588.8" rx="3.6" ry="2.2" fill="rgb(78,6,3)"/>
<ellipse cx="190.0" cy="588.8" rx="3.6" ry="2.2" fill="rgb(56,5,2)"/>
<ellipse cx="198.0" cy="588.8" rx="3.6" ry="2.2" fill="rgb(97,8,4)"/>
<ellipse cx="206.0" cy="588.8" rx="3.6" ry="2.2" fill="rgb(83,7,3)"/>
<ellipse cx="214.0" cy="588.8" rx="3.6" ry="2.2" fill="rgb(80,7,3)"/>
<ellipse cx="222.0" cy="588.8" rx="3.6" ry="2.2" fill="rgb(90,7,3)"/>
<ellipse cx="230.0" cy="588.8" rx="3.6" ry="2.2" fill="rgb(104,9,4)"/>
<ellipse cx="238.0" cy="588.8" rx="3.6" ry="2.2" fill="rgb(66,5,2)"/>
<ellipse cx="246.0" cy="588.8" rx="3.6" ry="2.2" fill="rgb(55,4,2)"/>
<ellipse cx="254.0" cy="588.8" rx="3.6" ry="2.2" fill="rgb(62,5,2)"/>
<ellipse cx="262.0" cy="588.8" rx="3.6" ry="2.2" fill="rgb(48,4,2)"/>
<ellipse cx="270.0" cy="588.8" rx="3.6" ry="2.2" fill="rgb(41,3,1)"/>
<ellipse cx="278.0" cy="588.8" rx="3.6" ry="2.2" fill="rgb(40,3,1)"/>
<ellipse cx="286.0" cy="588.8" rx="3.6" ry="2.2" fill="rgb(37,3,1)"/>
<ellipse cx="294.0" cy="588.8" rx="3.6" ry="2.2" fill="rgb(39,3,1)"/>
<ellipse cx="302.0" cy="588.8" rx="3.6" ry="2.2" fill="rgb(41,3,1)"/>
<ellipse cx="310.0" cy="588.8" rx="3.6" ry="2.2" fill="rgb(40,3,1)"/>
<ellipse cx="318.0" cy="588.8" rx="3.6" ry="2.2" fill="rgb(48,4,2)"/>
<ellipse cx="114.0" cy="595.4" rx="3.6" ry="2.2" fill="rgb(40,3,1)"/>
<ellipse cx="122.0" cy="595.4" rx="3.6" ry="2.2" fill="rgb(44,4,2)"/>
<ellipse cx="130.0" cy="595.4" rx="3.6" ry="2.2" fill="rgb(38,3,1)"/>
<ellipse cx="138.0" cy="595.4" rx="3.6" ry="2.2" fill="rgb(42,3,1)"/>
<ellipse cx="146.0" cy="595.4" rx="3.6" ry="2.2" fill="rgb(36,3,1)"/>
<ellipse cx="154.0" cy="595.4" rx="3.6" ry="2.2" fill="rgb(42,3,1)"/>
<ellipse cx="162.0" cy="595.4" rx="3.6" ry="2.2" fill="rgb(39,3,1)"/>
<ellipse cx="170.0" cy="595.4" rx="3.6" ry="2.2" fill="rgb(62,5,2)"/>
<ellipse cx="178.0" cy="595.4" rx="3.6" ry="2.2" fill="rgb(64,5,2)"/>
<ellipse cx="186.0" cy="595.4" rx="3.6" ry="2.2" fill="rgb(58,5,2)"/>
<ellipse cx="194.0" cy="595.4" rx="3.6" ry="2.2" fill="rgb(76,6,3)"/>
<ellipse cx="202.0" cy="595.4" rx="3.6" ry="2.2" fill="rgb(104,9,4)"/>
<ellipse cx="210.0" cy="595.4" rx="3.6" ry="2.2" fill="rgb(67,6,3)"/>
<ellipse cx="218.0" cy="595.4" rx="3.6" ry="2.2" fill="rgb(105,9,4)"/>
<ellipse cx="226.0" cy="595.4" rx="3.6" ry="2.2" fill="rgb(82,7,3)"/>
<ellipse cx="234.0" cy="595.4" rx="3.6" ry="2.2" fill="rgb(80,7,3)"/>
<ellipse cx="242.0" cy="595.4" rx="3.6" ry="2.2" fill="rgb(86,7,3)"/>
<ellipse cx="250.0" cy="595.4" rx="3.6" ry="2.2" fill="rgb(61,5,2)"/>
<ellipse cx="258.0" cy="595.4" rx="3.6" ry="2.2" fill="rgb(59,5,2)"/>
<ellipse cx="266.0" cy="595.4" rx="3.6" ry="2.2" fill="rgb(58,5,2)"/>
<ellipse cx="274.0" cy="595.4" rx="3.6" ry="2.2" fill="rgb(60,5,2)"/>
<ellipse cx="282.0" cy="595.4" rx="3.6" ry="2.2" fill="rgb(43,4,2)"/>
<ellipse cx="290.0" cy="595.4" rx="3.6" ry="2.2" fill="rgb(51,4,2)"/>
<ellipse cx="298.0" cy="595.4" rx="3.6" ry="2.2" fill="rgb(48,4,2)"/>
<ellipse cx="306.0" cy="595.4" rx="3.6" ry="2.2" fill="rgb(46,4,2)"/>
<ellipse cx="314.0" cy="595.4" rx="3.6" ry="2.2" fill="rgb(42,3,1)"/>
<ellipse cx="322.0" cy="595.4" rx="3.6" ry="2.2" fill="rgb(41,3,1)"/>
<ellipse cx="118.0" cy="602.0" rx="3.6" ry="2.2" fill="rgb(36,3,1)"/>
<ellipse cx="126.0" cy="602.0" rx="3.6" ry="2.2" fill="rgb(37,3,1)"/>
<ellipse cx="134.0" cy="602.0" rx="3.6" ry="2.2" fill="rgb(36,3,1)"/>
<ellipse cx="142.0" cy="602.0" rx="3.6" ry="2.2" fill="rgb(50,4,2)"/>
<ellipse cx="150.0" cy="602.0" rx="3.6" ry="2.2" fill="rgb(42,3,1)"/>
<ellipse cx="158.0" cy="602.0" rx="3.6" ry="2.2" fill="rgb(42,3,1)"/>
<ellipse cx="166.0" cy="602.0" rx="3.6" ry="2.2" fill="rgb(43,3,1)"/>
<ellipse cx="174.0" cy="602.0" rx="3.6" ry="2.2" fill="rgb(69,6,3)"/>
<ellipse cx="182.0" cy="602.0" rx="3.6" ry="2.2" fill="rgb(78,6,3)"/>
<ellipse cx="190.0" cy="602.0" rx="3.6" ry="2.2" fill="rgb(80,7,3)"/>
<ellipse cx="198.0" cy="602.0" rx="3.6" ry="2.2" fill="rgb(70,6,3)"/>
<ellipse cx="206.0" cy="602.0" rx="3.6" ry="2.2" fill="rgb(73,6,3)"/>
<ellipse cx="214.0" cy="602.0" rx="3.6" ry="2.2" fill="rgb(77,6,3)"/>
<ellipse cx="222.0" cy="602.0" rx="3.6" ry="2.2" fill="rgb(85,7,3)"/>
<ellipse cx="230.0" cy="602.0" rx="3.6" ry="2.2" fill="rgb(67,5,2)"/>
<ellipse cx="238.0" cy="602.0" rx="3.6" ry="2.2" fill="rgb(74,6,3)"/>
<ellipse cx="246.0" cy="602.0" rx="3.6" ry="2.2" fill="rgb(60,5,2)"/>
<ellipse cx="254.0" cy="602.0" rx="3.6" ry="2.2" fill="rgb(76,6,3)"/>
<ellipse cx="262.0" cy="602.0" rx="3.6" ry="2.2" fill="rgb(68,6,3)"/>
<ellipse cx="270.0" cy="602.0" rx="3.6" ry="2.2" fill="rgb(52,4,2)"/>
<ellipse cx="278.0" cy="602.0" rx="3.6" ry="2.2" fill="rgb(42,3,1)"/>
<ellipse cx="286.0" cy="602.0" rx="3.6" ry="2.2" fill="rgb(55,4,2)"/>
<ellipse cx="294.0" cy="602.0" rx="3.6" ry="2.2" fill="rgb(41,3,1)"/>
<ellipse cx="302.0" cy="602.0" rx="3.6" ry="2.2" fill="rgb(41,3,1)"/>
<ellipse cx="310.0" cy="602.0" rx="3.6" ry="2.2" fill="rgb(35,3,1)"/>
<ellipse cx="318.0" cy="602.0" rx="3.6" ry="2.2" fill="rgb(42,3,1)"/>
<ellipse cx="114.0" cy="608.6" rx="3.6" ry="2.2" fill="rgb(43,3,1)"/>
<ellipse cx="122.0" cy="608.6" rx="3.6" ry="2.2" fill="rgb(44,4,2)"/>
<ellipse cx="130.0" cy="608.6" rx="3.6" ry="2.2" fill="rgb(38,3,1)"/>
<ellipse cx="138.0" cy="608.6" rx="3.6" ry="2.2" fill="rgb(45,4,2)"/>
<ellipse cx="146.0" cy="608.6" rx="3.6" ry="2.2" fill="rgb(36,3,1)"/>
<ellipse cx="154.0" cy="608.6" rx="3.6" ry="2.2" fill="rgb(43,3,1)"/>
<ellipse cx="162.0" cy="608.6" rx="3.6" ry="2.2" fill="rgb(41,3,1)"/>
<ellipse cx="170.0" cy="608.6" rx="3.6" ry="2.2" fill="rgb(53,4,2)"/>
<ellipse cx="178.0" cy="608.6" rx="3.6" ry="2.2" fill="rgb(47,4,2)"/>
<ellipse cx="186.0" cy="608.6" rx="3.6" ry="2.2" fill="rgb(51,4,2)"/>
<ellipse cx="194.0" cy="608.6" rx="3.6" ry="2.2" fill="rgb(68,6,3)"/>
<ellipse cx="202.0" cy="608.6" rx="3.6" ry="2.2" fill="rgb(70,6,3)"/>
<ellipse cx="210.0" cy="608.6" rx="3.6" ry="2.2" fill="rgb(92,8,4)"/>
<ellipse cx="218.0" cy="608.6" rx="3.6" ry="2.2" fill="rgb(90,7,3)"/>
<ellipse cx="226.0" cy="608.6" rx="3.6" ry="2.2" fill="rgb(98,8,4)"/>
<ellipse cx="234.0" cy="608.6" rx="3.6" ry="2.2" fill="rgb(87,7,3)"/>
<ellipse cx="242.0" cy="608.6" rx="3.6" ry="2.2" fill="rgb(81,7,3)"/>
<ellipse cx="250.0" cy="608.6" rx="3.6" ry="2.2" fill="rgb(78,6,3)"/>
<ellipse cx="258.0" cy="608.6" rx="3.6" ry="2.2" fill="rgb(55,4,2)"/>
<ellipse cx="266.0" cy="608.6" rx="3.6" ry="2.2" fill="rgb(48,4,2)"/>
<ellipse cx="274.0" cy="608.6" rx="3.6" ry="2.2" fill="rgb(60,5,2)"/>
<ellipse cx="282.0" cy="608.6" rx="3.6" ry="2.2" fill="rgb(39,3,1)"/>
<ellipse cx="290.0" cy="608.6" rx="3.6" ry="2.2" fill="rgb(49,4,2)"/>
<ellipse cx="298.0" cy="608.6" rx="3.6" ry="2.2" fill="rgb(47,4,2)"/>
<ellipse cx="306.0" cy="608.6" rx="3.6" ry="2.2" fill="rgb(35,3,1)"/>
<ellipse cx="314.0" cy="608.6" rx="3.6" ry="2.2" fill="rgb(50,4,2)"/>
<ellipse cx="322.0" cy="608.6" rx="3.6" ry="2.2" fill="rgb(51,4,2)"/>
<ellipse cx="118.0" cy="615.2" rx="3.6" ry="2.2" fill="rgb(46,4,2)"/>
<ellipse cx="126.0" cy="615.2" rx="3.6" ry="2.2" fill="rgb(48,4,2)"/>
<ellipse cx="134.0" cy="615.2" rx="3.6" ry="2.2" fill="rgb(50,4,2)"/>
<ellipse cx="142.0" cy="615.2" rx="3.6" ry="2.2" fill="rgb(38,3,1)"/>
<ellipse cx="150.0" cy="615.2" rx="3.6" ry="2.2" fill="rgb(47,4,2)"/>
<ellipse cx="158.0" cy="615.2" rx="3.6" ry="2.2" fill="rgb(49,4,2)"/>
<ellipse cx="166.0" cy="615.2" rx="3.6" ry="2.2" fill="rgb(62,5,2)"/>
<ellipse cx="174.0" cy="615.2" rx="3.6" ry="2.2" fill="rgb(68,6,3)"/>
<ellipse cx="182.0" cy="615.2" rx="3.6" ry="2.2" fill="rgb(77,6,3)"/>
<ellipse cx="190.0" cy="615.2" rx="3.6" ry="2.2" fill="rgb(77,6,3)"/>
<ellipse cx="198.0" cy="615.2" rx="3.6" ry="2.2" fill="rgb(98,8,4)"/>
<ellipse cx="206.0" cy="615.2" rx="3.6" ry="2.2" fill="rgb(95,8,4)"/>
<ellipse cx="214.0" cy="615.2" rx="3.6" ry="2.2" fill="rgb(98,8,4)"/>
<ellipse cx="222.0" cy="615.2" rx="3.6" ry="2.2" fill="rgb(73,6,3)"/>
<ellipse cx="230.0" cy="615.2" rx="3.6" ry="2.2" fill="rgb(60,5,2)"/>
<ellipse cx="238.0" cy="615.2" rx="3.6" ry="2.2" fill="rgb(61,5,2)"/>
<ellipse cx="246.0" cy="615.2" rx="3.6" ry="2.2" fill="rgb(64,5,2)"/>
<ellipse cx="254.0" cy="615.2" rx="3.6" ry="2.2" fill="rgb(49,4,2)"/>
<ellipse cx="262.0" cy="615.2" rx="3.6" ry="2.2" fill="rgb(65,5,2)"/>
<ellipse cx="270.0" cy="615.2" rx="3.6" ry="2.2" fill="rgb(52,4,2)"/>
<ellipse cx="278.0" cy="615.2" rx="3.6" ry="2.2" fill="rgb(50,4,2)"/>
<ellipse cx="286.0" cy="615.2" rx="3.6" ry="2.2" fill="rgb(48,4,2)"/>
<ellipse cx="294.0" cy="615.2" rx="3.6" ry="2.2" fill="rgb(48,4,2)"/>
<ellipse cx="302.0" cy="615.2" rx="3.6" ry="2.2" fill="rgb(44,4,2)"/>
<ellipse cx="310.0" cy="615.2" rx="3.6" ry="2.2" fill="rgb(35,3,1)"/>
<ellipse cx="318.0" cy="615.2" rx="3.6" ry="2.2" fill="rgb(49,4,2)"/>
<ellipse cx="114.0" cy="621.8" rx="3.6" ry="2.2" fill="rgb(48,4,2)"/>
<ellipse cx="122.0" cy="621.8" rx="3.6" ry="2.2" fill="rgb(44,4,2)"/>
<ellipse cx="130.0" cy="621.8" rx="3.6" ry="2.2" fill="rgb(45,4,2)"/>
<ellipse cx="138.0" cy="621.8" rx="3.6" ry="2.2" fill="rgb(48,4,2)"/>
<ellipse cx="146.0" cy="621.8" rx="3.6" ry="2.2" fill="rgb(37,3,1)"/>
<ellipse cx="154.0" cy="621.8" rx="3.6" ry="2.2" fill="rgb(53,4,2)"/>
<ellipse cx="162.0" cy="621.8" rx="3.6" ry="2.2" fill="rgb(45,4,2)"/>
<ellipse cx="170.0" cy="621.8" rx="3.6" ry="2.2" fill="rgb(44,4,2)"/>
<ellipse cx="178.0" cy="621.8" rx="3.6" ry="2.2" fill="rgb(54,4,2)"/>
<ellipse cx="186.0" cy="621.8" rx="3.6" ry="2.2" fill="rgb(78,6,3)"/>
<ellipse cx="194.0" cy="621.8" rx="3.6" ry="2.2" fill="rgb(64,5,2)"/>
<ellipse cx="202.0" cy="621.8" rx="3.6" ry="2.2" fill="rgb(95,8,4)"/>
<ellipse cx="210.0" cy="621.8" rx="3.6" ry="2.2" fill="rgb(112,9,4)"/>
<ellipse cx="218.0" cy="621.8" rx="3.6" ry="2.2" fill="rgb(88,7,3)"/>
<ellipse cx="226.0" cy="621.8" rx="3.6" ry="2.2" fill="rgb(80,7,3)"/>
<ellipse cx="234.0" cy="621.8" rx="3.6" ry="2.2" fill="rgb(79,7,3)"/>
<ellipse cx="242.0" cy="621.8" rx="3.6" ry="2.2" fill="rgb(80,7,3)"/>
<ellipse cx="250.0" cy="621.8" rx="3.6" ry="2.2" fill="rgb(74,6,3)"/>
<ellipse cx="258.0" cy="621.8" rx="3.6" ry="2.2" fill="rgb(62,5,2)"/>
<ellipse cx="266.0" cy="621.8" rx="3.6" ry="2.2" fill="rgb(56,5,2)"/>
<ellipse cx="274.0" cy="621.8" rx="3.6" ry="2.2" fill="rgb(40,3,1)"/>
<ellipse cx="282.0" cy="621.8" rx="3.6" ry="2.2" fill="rgb(39,3,1)"/>
<ellipse cx="290.0" cy="621.8" rx="3.6" ry="2.2" fill="rgb(40,3,1)"/>
<ellipse cx="298.0" cy="621.8" rx="3.6" ry="2.2" fill="rgb(49,4,2)"/>
<ellipse cx="306.0" cy="621.8" rx="3.6" ry="2.2" fill="rgb(40,3,1)"/>
<ellipse cx="314.0" cy="621.8" rx="3.6" ry="2.2" fill="rgb(45,4,2)"/>
<ellipse cx="322.0" cy="621.8" rx="3.6" ry="2.2" fill="rgb(35,3,1)"/>
<ellipse cx="118.0" cy="628.4" rx="3.6" ry="2.2" fill="rgb(36,3,1)"/>
<ellipse cx="126.0" cy="628.4" rx="3.6" ry="2.2" fill="rgb(40,3,1)"/>
<ellipse cx="134.0" cy="628.4" rx="3.6" ry="2.2" fill="rgb(48,4,2)"/>
<ellipse cx="142.0" cy="628.4" rx="3.6" ry="2.2" fill="rgb(49,4,2)"/>
<ellipse cx="150.0" cy="628.4" rx="3.6" ry="2.2" fill="rgb(50,4,2)"/>
<ellipse cx="158.0" cy="628.4" rx="3.6" ry="2.2" fill="rgb(44,4,2)"/>
<ellipse cx="166.0" cy="628.4" rx="3.6" ry="2.2" fill="rgb(54,4,2)"/>
<ellipse cx="174.0" cy="628.4" rx="3.6" ry="2.2" fill="rgb(58,5,2)"/>
<ellipse cx="182.0" cy="628.4" rx="3.6" ry="2.2" fill="rgb(64,5,2)"/>
<ellipse cx="190.0" cy="628.4" rx="3.6" ry="2.2" fill="rgb(58,5,2)"/>
<ellipse cx="198.0" cy="628.4" rx="3.6" ry="2.2" fill="rgb(98,8,4)"/>
<ellipse cx="206.0" cy="628.4" rx="3.6" ry="2.2" fill="rgb(71,6,3)"/>
<ellipse cx="214.0" cy="628.4" rx="3.6" ry="2.2" fill="rgb(113,9,4)"/>
<ellipse cx="222.0" cy="628.4" rx="3.6" ry="2.2" fill="rgb(110,9,4)"/>
<ellipse cx="230.0" cy="628.4" rx="3.6" ry="2.2" fill="rgb(60,5,2)"/>
<ellipse cx="238.0" cy="628.4" rx="3.6" ry="2.2" fill="rgb(75,6,3)"/>
<ellipse cx="246.0" cy="628.4" rx="3.6" ry="2.2" fill="rgb(81,7,3)"/>
<ellipse cx="254.0" cy="628.4" rx="3.6" ry="2.2" fill="rgb(77,6,3)"/>
<ellipse cx="262.0" cy="628.4" rx="3.6" ry="2.2" fill="rgb(54,4,2)"/>
<ellipse cx="270.0" cy="628.4" rx="3.6" ry="2.2" fill="rgb(45,4,2)"/>
<ellipse cx="278.0" cy="628.4" rx="3.6" ry="2.2" fill="rgb(41,3,1)"/>
<ellipse cx="286.0" cy="628.4" rx="3.6" ry="2.2" fill="rgb(55,4,2)"/>
<ellipse cx="294.0" cy="628.4" rx="3.6" ry="2.2" fill="rgb(39,3,1)"/>
<ellipse cx="302.0" cy="628.4" rx="3.6" ry="2.2" fill="rgb(46,4,2)"/>
<ellipse cx="310.0" cy="628.4" rx="3.6" ry="2.2" fill="rgb(37,3,1)"/>
<ellipse cx="318.0" cy="628.4" rx="3.6" ry="2.2" fill="rgb(44,4,2)"/>
<ellipse cx="114.0" cy="635.0" rx="3.6" ry="2.2" fill="rgb(52,4,2)"/>
<ellipse cx="122.0" cy="635.0" rx="3.6" ry="2.2" fill="rgb(37,3,1)"/>
<ellipse cx="130.0" cy="635.0" rx="3.6" ry="2.2" fill="rgb(50,4,2)"/>
<ellipse cx="138.0" cy="635.0" rx="3.6" ry="2.2" fill="rgb(45,4,2)"/>
<ellipse cx="146.0" cy="635.0" rx="3.6" ry="2.2" fill="rgb(53,4,2)"/>
<ellipse cx="154.0" cy="635.0" rx="3.6" ry="2.2" fill="rgb(52,4,2)"/>
<ellipse cx="162.0" cy="635.0" rx="3.6" ry="2.2" fill="rgb(45,4,2)"/>
<ellipse cx="170.0" cy="635.0" rx="3.6" ry="2.2" fill="rgb(67,5,2)"/>
<ellipse cx="178.0" cy="635.0" rx="3.6" ry="2.2" fill="rgb(61,5,2)"/>
<ellipse cx="186.0" cy="635.0" rx="3.6" ry="2.2" fill="rgb(51,4,2)"/>
<ellipse cx="194.0" cy="635.0" rx="3.6" ry="2.2" fill="rgb(55,5,2)"/>
<ellipse cx="202.0" cy="635.0" rx="3.6" ry="2.2" fill="rgb(83,7,3)"/>
<ellipse cx="210.0" cy="635.0" rx="3.6" ry="2.2" fill="rgb(85,7,3)"/>
<ellipse cx="218.0" cy="635.0" rx="3.6" ry="2.2" fill="rgb(78,6,3)"/>
<ellipse cx="226.0" cy="635.0" rx="3.6" ry="2.2" fill="rgb(68,6,3)"/>
<ellipse cx="234.0" cy="635.0" rx="3.6" ry="2.2" fill="rgb(73,6,3)"/>
<ellipse cx="242.0" cy="635.0" rx="3.6" ry="2.2" fill="rgb(65,5,2)"/>
<ellipse cx="250.0" cy="635.0" rx="3.6" ry="2.2" fill="rgb(77,6,3)"/>
<ellipse cx="258.0" cy="635.0" rx="3.6" ry="2.2" fill="rgb(44,4,2)"/>
<ellipse cx="266.0" cy="635.0" rx="3.6" ry="2.2" fill="rgb(59,5,2)"/>
<ellipse cx="274.0" cy="635.0" rx="3.6" ry="2.2" fill="rgb(57,5,2)"/>
<ellipse cx="282.0" cy="635.0" rx="3.6" ry="2.2" fill="rgb(39,3,1)"/>
<ellipse cx="290.0" cy="635.0" rx="3.6" ry="2.2" fill="rgb(53,4,2)"/>
<ellipse cx="298.0" cy="635.0" rx="3.6" ry="2.2" fill="rgb(48,4,2)"/>
<ellipse cx="306.0" cy="635.0" rx="3.6" ry="2.2" fill="rgb(51,4,2)"/>
<ellipse cx="314.0" cy="635.0" rx="3.6" ry="2.2" fill="rgb(40,3,1)"/>
<ellipse cx="322.0" cy="635.0" rx="3.6" ry="2.2" fill="rgb(41,3,1)"/>
<ellipse cx="118.0" cy="641.6" rx="3.6" ry="2.2" fill="rgb(42,3,1)"/>
<ellipse cx="126.0" cy="641.6" rx="3.6" ry="2.2" fill="rgb(53,4,2)"/>
<ellipse cx="134.0" cy="641.6" rx="3.6" ry="2.2" fill="rgb(46,4,2)"/>
<ellipse cx="142.0" cy="641.6" rx="3.6" ry="2.2" fill="rgb(42,3,1)"/>
<ellipse cx="150.0" cy="641.6" rx="3.6" ry="2.2" fill="rgb(45,4,2)"/>
<ellipse cx="158.0" cy="641.6" rx="3.6" ry="2.2" fill="rgb(44,4,2)"/>
<ellipse cx="166.0" cy="641.6" rx="3.6" ry="2.2" fill="rgb(42,3,1)"/>
<ellipse cx="174.0" cy="641.6" rx="3.6" ry="2.2" fill="rgb(47,4,2)"/>
<ellipse cx="182.0" cy="641.6" rx="3.6" ry="2.2" fill="rgb(77,6,3)"/>
<ellipse cx="190.0" cy="641.6" rx="3.6" ry="2.2" fill="rgb(64,5,2)"/>
<ellipse cx="198.0" cy="641.6" rx="3.6" ry="2.2" fill="rgb(100,8,4)"/>
<ellipse cx="206.0" cy="641.6" rx="3.6" ry="2.2" fill="rgb(73,6,3)"/>
<ellipse cx="214.0" cy="641.6" rx="3.6" ry="2.2" fill="rgb(76,6,3)"/>
<ellipse cx="222.0" cy="641.6" rx="3.6" ry="2.2" fill="rgb(88,7,3)"/>
<ellipse cx="230.0" cy="641.6" rx="3.6" ry="2.2" fill="rgb(68,6,3)"/>
<ellipse cx="238.0" cy="641.6" rx="3.6" ry="2.2" fill="rgb(71,6,3)"/>
<ellipse cx="246.0" cy="641.6" rx="3.6" ry="2.2" fill="rgb(86,7,3)"/>
<ellipse cx="254.0" cy="641.6" rx="3.6" ry="2.2" fill="rgb(74,6,3)"/>
<ellipse cx="262.0" cy="641.6" rx="3.6" ry="2.2" fill="rgb(64,5,2)"/>
<ellipse cx="270.0" cy="641.6" rx="3.6" ry="2.2" fill="rgb(54,4,2)"/>
<ellipse cx="278.0" cy="641.6" rx="3.6" ry="2.2" fill="rgb(56,5,2)"/>
<ellipse cx="286.0" cy="641.6" rx="3.6" ry="2.2" fill="rgb(54,4,2)"/>
<ellipse cx="294.0" cy="641.6" rx="3.6" ry="2.2" fill="rgb(46,4,2)"/>
<ellipse cx="302.0" cy="641.6" rx="3.6" ry="2.2" fill="rgb(48,4,2)"/>
<ellipse cx="310.0" cy="641.6" rx="3.6" ry="2.2" fill="rgb(35,3,1)"/>
<ellipse cx="318.0" cy="641.6" rx="3.6" ry="2.2" fill="rgb(48,4,2)"/>
<ellipse cx="114.0" cy="648.2" rx="3.6" ry="2.2" fill="rgb(43,3,1)"/>
<ellipse cx="122.0" cy="648.2" rx="3.6" ry="2.2" fill="rgb(48,4,2)"/>
<ellipse cx="130.0" cy="648.2" rx="3.6" ry="2.2" fill="rgb(47,4,2)"/>
<ellipse cx="138.0" cy="648.2" rx="3.6" ry="2.2" fill="rgb(41,3,1)"/>
<ellipse cx="146.0" cy="648.2" rx="3.6" ry="2.2" fill="rgb(37,3,1)"/>
<ellipse cx="154.0" cy="648.2" rx="3.6" ry="2.2" fill="rgb(57,5,2)"/>
<ellipse cx="162.0" cy="648.2" rx="3.6" ry="2.2" fill="rgb(42,3,1)"/>
<ellipse cx="170.0" cy="648.2" rx="3.6" ry="2.2" fill="rgb(55,4,2)"/>
<ellipse cx="178.0" cy="648.2" rx="3.6" ry="2.2" fill="rgb(57,5,2)"/>
<ellipse cx="186.0" cy="648.2" rx="3.6" ry="2.2" fill="rgb(62,5,2)"/>
<ellipse cx="194.0" cy="648.2" rx="3.6" ry="2.2" fill="rgb(87,7,3)"/>
<ellipse cx="202.0" cy="648.2" rx="3.6" ry="2.2" fill="rgb(106,9,4)"/>
<ellipse cx="210.0" cy="648.2" rx="3.6" ry="2.2" fill="rgb(75,6,3)"/>
<ellipse cx="218.0" cy="648.2" rx="3.6" ry="2.2" fill="rgb(96,8,4)"/>
<ellipse cx="226.0" cy="648.2" rx="3.6" ry="2.2" fill="rgb(76,6,3)"/>
<ellipse cx="234.0" cy="648.2" rx="3.6" ry="2.2" fill="rgb(83,7,3)"/>
<ellipse cx="242.0" cy="648.2" rx="3.6" ry="2.2" fill="rgb(68,6,3)"/>
<ellipse cx="250.0" cy="648.2" rx="3.6" ry="2.2" fill="rgb(54,4,2)"/>
<ellipse cx="258.0" cy="648.2" rx="3.6" ry="2.2" fill="rgb(48,4,2)"/>
<ellipse cx="266.0" cy="648.2" rx="3.6" ry="2.2" fill="rgb(45,4,2)"/>
<ellipse cx="274.0" cy="648.2" rx="3.6" ry="2.2" fill="rgb(58,5,2)"/>
<ellipse cx="282.0" cy="648.2" rx="3.6" ry="2.2" fill="rgb(46,4,2)"/>
<ellipse cx="290.0" cy="648.2" rx="3.6" ry="2.2" fill="rgb(40,3,1)"/>
<ellipse cx="298.0" cy="648.2" rx="3.6" ry="2.2" fill="rgb(52,4,2)"/>
<ellipse cx="306.0" cy="648.2" rx="3.6" ry="2.2" fill="rgb(53,4,2)"/>
<ellipse cx="314.0" cy="648.2" rx="3.6" ry="2.2" fill="rgb(43,3,1)"/>
<ellipse cx="322.0" cy="648.2" rx="3.6" ry="2.2" fill="rgb(37,3,1)"/>
<ellipse cx="118.0" cy="654.8" rx="3.6" ry="2.2" fill="rgb(38,3,1)"/>
<ellipse cx="126.0" cy="654.8" rx="3.6" ry="2.2" fill="rgb(36,3,1)"/>
<ellipse cx="134.0" cy="654.8" rx="3.6" ry="2.2" fill="rgb(41,3,1)"/>
<ellipse cx="142.0" cy="654.8" rx="3.6" ry="2.2" fill="rgb(37,3,1)"/>
<ellipse cx="150.0" cy="654.8" rx="3.6" ry="2.2" fill="rgb(41,3,1)"/>
<ellipse cx="158.0" cy="654.8" rx="3.6" ry="2.2" fill="rgb(44,4,2)"/>
<ellipse cx="166.0" cy="654.8" rx="3.6" ry="2.2" fill="rgb(55,4,2)"/>
<ellipse cx="174.0" cy="654.8" rx="3.6" ry="2.2" fill="rgb(70,6,3)"/>
<ellipse cx="182.0" cy="654.8" rx="3.6" ry="2.2" fill="rgb(74,6,3)"/>
<ellipse cx="190.0" cy="654.8" rx="3.6" ry="2.2" fill="rgb(70,6,3)"/>
<ellipse cx="198.0" cy="654.8" rx="3.6" ry="2.2" fill="rgb(76,6,3)"/>
<ellipse cx="206.0" cy="654.8" rx="3.6" ry="2.2" fill="rgb(87,7,3)"/>
<ellipse cx="214.0" cy="654.8" rx="3.6" ry="2.2" fill="rgb(82,7,3)"/>
<ellipse cx="222.0" cy="654.8" rx="3.6" ry="2.2" fill="rgb(79,7,3)"/>
<ellipse cx="230.0" cy="654.8" rx="3.6" ry="2.2" fill="rgb(62,5,2)"/>
<ellipse cx="238.0" cy="654.8" rx="3.6" ry="2.2" fill="rgb(67,5,2)"/>
<ellipse cx="246.0" cy="654.8" rx="3.6" ry="2.2" fill="rgb(86,7,3)"/>
<ellipse cx="254.0" cy="654.8" rx="3.6" ry="2.2" fill="rgb(50,4,2)"/>
<ellipse cx="262.0" cy="654.8" rx="3.6" ry="2.2" fill="rgb(55,5,2)"/>
<ellipse cx="270.0" cy="654.8" rx="3.6" ry="2.2" fill="rgb(54,4,2)"/>
<ellipse cx="278.0" cy="654.8" rx="3.6" ry="2.2" fill="rgb(55,5,2)"/>
<ellipse cx="286.0" cy="654.8" rx="3.6" ry="2.2" fill="rgb(40,3,1)"/>
<ellipse cx="294.0" cy="654.8" rx="3.6" ry="2.2" fill="rgb(40,3,1)"/>
<ellipse cx="302.0" cy="654.8" rx="3.6" ry="2.2" fill="rgb(39,3,1)"/>
<ellipse cx="310.0" cy="654.8" rx="3.6" ry="2.2" fill="rgb(42,3,1)"/>
<ellipse cx="318.0" cy="654.8" rx="3.6" ry="2.2" fill="rgb(43,3,1)"/>
<ellipse cx="114.0" cy="661.4" rx="3.6" ry="2.2" fill="rgb(52,4,2)"/>
<ellipse cx="122.0" cy="661.4" rx="3.6" ry="2.2" fill="rgb(50,4,2)"/>
<ellipse cx="130.0" cy="661.4" rx="3.6" ry="2.2" fill="rgb(51,4,2)"/>
<ellipse cx="138.0" cy="661.4" rx="3.6" ry="2.2" fill="rgb(36,3,1)"/>
<ellipse cx="146.0" cy="661.4" rx="3.6" ry="2.2" fill="rgb(36,3,1)"/>
<ellipse cx="154.0" cy="661.4" rx="3.6" ry="2.2" fill="rgb(52,4,2)"/>
<ellipse cx="162.0" cy="661.4" rx="3.6" ry="2.2" fill="rgb(60,5,2)"/>
<ellipse cx="170.0" cy="661.4" rx="3.6" ry="2.2" fill="rgb(55,4,2)"/>
<ellipse cx="178.0" cy="661.4" rx="3.6" ry="2.2" fill="rgb(65,5,2)"/>
<ellipse cx="186.0" cy="661.4" rx="3.6" ry="2.2" fill="rgb(50,4,2)"/>
<ellipse cx="194.0" cy="661.4" rx="3.6" ry="2.2" fill="rgb(72,6,3)"/>
<ellipse cx="202.0" cy="661.4" rx="3.6" ry="2.2" fill="rgb(104,9,4)"/>
<ellipse cx="210.0" cy="661.4" rx="3.6" ry="2.2" fill="rgb(104,9,4)"/>
<ellipse cx="218.0" cy="661.4" rx="3.6" ry="2.2" fill="rgb(107,9,4)"/>
<ellipse cx="226.0" cy="661.4" rx="3.6" ry="2.2" fill="rgb(109,9,4)"/>
<ellipse cx="234.0" cy="661.4" rx="3.6" ry="2.2" fill="rgb(68,6,3)"/>
<ellipse cx="242.0" cy="661.4" rx="3.6" ry="2.2" fill="rgb(57,5,2)"/>
<ellipse cx="250.0" cy="661.4" rx="3.6" ry="2.2" fill="rgb(53,4,2)"/>
<ellipse cx="258.0" cy="661.4" rx="3.6" ry="2.2" fill="rgb(59,5,2)"/>
<ellipse cx="266.0" cy="661.4" rx="3.6" ry="2.2" fill="rgb(57,5,2)"/>
<ellipse cx="274.0" cy="661.4" rx="3.6" ry="2.2" fill="rgb(59,5,2)"/>
<ellipse cx="282.0" cy="661.4" rx="3.6" ry="2.2" fill="rgb(51,4,2)"/>
<ellipse cx="290.0" cy="661.4" rx="3.6" ry="2.2" fill="rgb(48,4,2)"/>
<ellipse cx="298.0" cy="661.4" rx="3.6" ry="2.2" fill="rgb(49,4,2)"/>
<ellipse cx="306.0" cy="661.4" rx="3.6" ry="2.2" fill="rgb(43,3,1)"/>
<ellipse cx="314.0" cy="661.4" rx="3.6" ry="2.2" fill="rgb(45,4,2)"/>
<ellipse cx="322.0" cy="661.4" rx="3.6" ry="2.2" fill="rgb(35,3,1)"/>
<ellipse cx="118.0" cy="668.0" rx="3.6" ry="2.2" fill="rgb(49,4,2)"/>
<ellipse cx="126.0" cy="668.0" rx="3.6" ry="2.2" fill="rgb(39,3,1)"/>
<ellipse cx="134.0" cy="668.0" rx="3.6" ry="2.2" fill="rgb(52,4,2)"/>
<ellipse cx="142.0" cy="668.0" rx="3.6" ry="2.2" fill="rgb(48,4,2)"/>
<ellipse cx="150.0" cy="668.0" rx="3.6" ry="2.2" fill="rgb(43,3,1)"/>
<ellipse cx="158.0" cy="668.0" rx="3.6" ry="2.2" fill="rgb(41,3,1)"/>
<ellipse cx="166.0" cy="668.0" rx="3.6" ry="2.2" fill="rgb(47,4,2)"/>
<ellipse cx="174.0" cy="668.0" rx="3.6" ry="2.2" fill="rgb(63,5,2)"/>
<ellipse cx="182.0" cy="668.0" rx="3.6" ry="2.2" fill="rgb(72,6,3)"/>
<ellipse cx="190.0" cy="668.0" rx="3.6" ry="2.2" fill="rgb(57,5,2)"/>
<ellipse cx="198.0" cy="668.0" rx="3.6" ry="2.2" fill="rgb(61,5,2)"/>
<ellipse cx="206.0" cy="668.0" rx="3.6" ry="2.2" fill="rgb(87,7,3)"/>
<ellipse cx="214.0" cy="668.0" rx="3.6" ry="2.2" fill="rgb(93,8,4)"/>
<ellipse cx="222.0" cy="668.0" rx="3.6" ry="2.2" fill="rgb(82,7,3)"/>
<ellipse cx="230.0" cy="668.0" rx="3.6" ry="2.2" fill="rgb(70,6,3)"/>
<ellipse cx="238.0" cy="668.0" rx="3.6" ry="2.2" fill="rgb(81,7,3)"/>
<ellipse cx="246.0" cy="668.0" rx="3.6" ry="2.2" fill="rgb(51,4,2)"/>
<ellipse cx="254.0" cy="668.0" rx="3.6" ry="2.2" fill="rgb(55,5,2)"/>
<ellipse cx="262.0" cy="668.0" rx="3.6" ry="2.2" fill="rgb(54,4,2)"/>
<ellipse cx="270.0" cy="668.0" rx="3.6" ry="2.2" fill="rgb(62,5,2)"/>
<ellipse cx="278.0" cy="668.0" rx="3.6" ry="2.2" fill="rgb(51,4,2)"/>
<ellipse cx="286.0" cy="668.0" rx="3.6" ry="2.2" fill="rgb(53,4,2)"/>
<ellipse cx="294.0" cy="668.0" rx="3.6" ry="2.2" fill="rgb(44,4,2)"/>
<ellipse cx="302.0" cy="668.0" rx="3.6" ry="2.2" fill="rgb(39,3,1)"/>
<ellipse cx="310.0" cy="668.0" rx="3.6" ry="2.2" fill="rgb(39,3,1)"/>
<ellipse cx="318.0" cy="668.0" rx="3.6" ry="2.2" fill="rgb(52,4,2)"/>
<ellipse cx="114.0" cy="674.6" rx="3.6" ry="2.2" fill="rgb(47,4,2)"/>
<ellipse cx="122.0" cy="674.6" rx="3.6" ry="2.2" fill="rgb(40,3,1)"/>
<ellipse cx="130.0" cy="674.6" rx="3.6" ry="2.2" fill="rgb(35,3,1)"/>
<ellipse cx="138.0" cy="674.6" rx="3.6" ry="2.2" fill="rgb(45,4,2)"/>
<ellipse cx="146.0" cy="674.6" rx="3.6" ry="2.2" fill="rgb(49,4,2)"/>
<ellipse cx="154.0" cy="674.6" rx="3.6" ry="2.2" fill="rgb(46,4,2)"/>
<ellipse cx="162.0" cy="674.6" rx="3.6" ry="2.2" fill="rgb(45,4,2)"/>
<ellipse cx="170.0" cy="674.6" rx="3.6" ry="2.2" fill="rgb(60,5,2)"/>
<ellipse cx="178.0" cy="674.6" rx="3.6" ry="2.2" fill="rgb(76,6,3)"/>
<ellipse cx="186.0" cy="674.6" rx="3.6" ry="2.2" fill="rgb(59,5,2)"/>
<ellipse cx="194.0" cy="674.6" rx="3.6" ry="2.2" fill="rgb(57,5,2)"/>
<ellipse cx="202.0" cy="674.6" rx="3.6" ry="2.2" fill="rgb(76,6,3)"/>
<ellipse cx="210.0" cy="674.6" rx="3.6" ry="2.2" fill="rgb(83,7,3)"/>
<ellipse cx="218.0" cy="674.6" rx="3.6" ry="2.2" fill="rgb(98,8,4)"/>
<ellipse cx="226.0" cy="674.6" rx="3.6" ry="2.2" fill="rgb(70,6,3)"/>
<ellipse cx="234.0" cy="674.6" rx="3.6" ry="2.2" fill="rgb(94,8,4)"/>
<ellipse cx="242.0" cy="674.6" rx="3.6" ry="2.2" fill="rgb(82,7,3)"/>
<ellipse cx="250.0" cy="674.6" rx="3.6" ry="2.2" fill="rgb(65,5,2)"/>
<ellipse cx="258.0" cy="674.6" rx="3.6" ry="2.2" fill="rgb(50,4,2)"/>
<ellipse cx="266.0" cy="674.6" rx="3.6" ry="2.2" fill="rgb(65,5,2)"/>
<ellipse cx="274.0" cy="674.6" rx="3.6" ry="2.2" fill="rgb(45,4,2)"/>
<ellipse cx="282.0" cy="674.6" rx="3.6" ry="2.2" fill="rgb(53,4,2)"/>
<ellipse cx="290.0" cy="674.6" rx="3.6" ry="2.2" fill="rgb(40,3,1)"/>
<ellipse cx="298.0" cy="674.6" rx="3.6" ry="2.2" fill="rgb(39,3,1)"/>
<ellipse cx="306.0" cy="674.6" rx="3.6" ry="2.2" fill="rgb(49,4,2)"/>
<ellipse cx="314.0" cy="674.6" rx="3.6" ry="2.2" fill="rgb(40,3,1)"/>
<ellipse cx="322.0" cy="674.6" rx="3.6" ry="2.2" fill="rgb(52,4,2)"/>
<ellipse cx="118.0" cy="681.2" rx="3.6" ry="2.2" fill="rgb(44,4,2)"/>
<ellipse cx="126.0" cy="681.2" rx="3.6" ry="2.2" fill="rgb(38,3,1)"/>
<ellipse cx="134.0" cy="681.2" rx="3.6" ry="2.2" fill="rgb(39,3,1)"/>
<ellipse cx="142.0" cy="681.2" rx="3.6" ry="2.2" fill="rgb(43,4,2)"/>
<ellipse cx="150.0" cy="681.2" rx="3.6" ry="2.2" fill="rgb(50,4,2)"/>
<ellipse cx="158.0" cy="681.2" rx="3.6" ry="2.2" fill="rgb(59,5,2)"/>
<ellipse cx="166.0" cy="681.2" rx="3.6" ry="2.2" fill="rgb(44,4,2)"/>
<ellipse cx="174.0" cy="681.2" rx="3.6" ry="2.2" fill="rgb(55,5,2)"/>
<ellipse cx="182.0" cy="681.2" rx="3.6" ry="2.2" fill="rgb(56,5,2)"/>
<ellipse cx="190.0" cy="681.2" rx="3.6" ry="2.2" fill="rgb(92,8,4)"/>
<ellipse cx="198.0" cy="681.2" rx="3.6" ry="2.2" fill="rgb(64,5,2)"/>
<ellipse cx="206.0" cy="681.2" rx="3.6" ry="2.2" fill="rgb(63,5,2)"/>
<ellipse cx="214.0" cy="681.2" rx="3.6" ry="2.2" fill="rgb(65,5,2)"/>
<ellipse cx="222.0" cy="681.2" rx="3.6" ry="2.2" fill="rgb(82,7,3)"/>
<ellipse cx="230.0" cy="681.2" rx="3.6" ry="2.2" fill="rgb(102,8,4)"/>
<ellipse cx="238.0" cy="681.2" rx="3.6" ry="2.2" fill="rgb(93,8,4)"/>
<ellipse cx="246.0" cy="681.2" rx="3.6" ry="2.2" fill="rgb(78,6,3)"/>
<ellipse cx="254.0" cy="681.2" rx="3.6" ry="2.2" fill="rgb(77,6,3)"/>
<ellipse cx="262.0" cy="681.2" rx="3.6" ry="2.2" fill="rgb(67,6,3)"/>
<ellipse cx="270.0" cy="681.2" rx="3.6" ry="2.2" fill="rgb(47,4,2)"/>
<ellipse cx="278.0" cy="681.2" rx="3.6" ry="2.2" fill="rgb(41,3,1)"/>
<ellipse cx="286.0" cy="681.2" rx="3.6" ry="2.2" fill="rgb(54,4,2)"/>
<ellipse cx="294.0" cy="681.2" rx="3.6" ry="2.2" fill="rgb(49,4,2)"/>
<ellipse cx="302.0" cy="681.2" rx="3.6" ry="2.2" fill="rgb(35,3,1)"/>
<ellipse cx="310.0" cy="681.2" rx="3.6" ry="2.2" fill="rgb(47,4,2)"/>
<ellipse cx="318.0" cy="681.2" rx="3.6" ry="2.2" fill="rgb(41,3,1)"/>
<ellipse cx="114.0" cy="687.8" rx="3.6" ry="2.2" fill="rgb(41,3,1)"/>
<ellipse cx="122.0" cy="687.8" rx="3.6" ry="2.2" fill="rgb(41,3,1)"/>
<ellipse cx="130.0" cy="687.8" rx="3.6" ry="2.2" fill="rgb(38,3,1)"/>
<ellipse cx="138.0" cy="687.8" rx="3.6" ry="2.2" fill="rgb(35,3,1)"/>
<ellipse cx="146.0" cy="687.8" rx="3.6" ry="2.2" fill="rgb(41,3,1)"/>
<ellipse cx="154.0" cy="687.8" rx="3.6" ry="2.2" fill="rgb(45,4,2)"/>
<ellipse cx="162.0" cy="687.8" rx="3.6" ry="2.2" fill="rgb(62,5,2)"/>
<ellipse cx="170.0" cy="687.8" rx="3.6" ry="2.2" fill="rgb(45,4,2)"/>
<ellipse cx="178.0" cy="687.8" rx="3.6" ry="2.2" fill="rgb(77,6,3)"/>
<ellipse cx="186.0" cy="687.8" rx="3.6" ry="2.2" fill="rgb(58,5,2)"/>
<ellipse cx="194.0" cy="687.8" rx="3.6" ry="2.2" fill="rgb(71,6,3)"/>
<ellipse cx="202.0" cy="687.8" rx="3.6" ry="2.2" fill="rgb(99,8,4)"/>
<ellipse cx="210.0" cy="687.8" rx="3.6" ry="2.2" fill="rgb(104,9,4)"/>
<ellipse cx="218.0" cy="687.8" rx="3.6" ry="2.2" fill="rgb(85,7,3)"/>
<ellipse cx="226.0" cy="687.8" rx="3.6" ry="2.2" fill="rgb(63,5,2)"/>
<ellipse cx="234.0" cy="687.8" rx="3.6" ry="2.2" fill="rgb(79,6,3)"/>
<ellipse cx="242.0" cy="687.8" rx="3.6" ry="2.2" fill="rgb(68,6,3)"/>
<ellipse cx="250.0" cy="687.8" rx="3.6" ry="2.2" fill="rgb(80,7,3)"/>
<ellipse cx="258.0" cy="687.8" rx="3.6" ry="2.2" fill="rgb(49,4,2)"/>
<ellipse cx="266.0" cy="687.8" rx="3.6" ry="2.2" fill="rgb(49,4,2)"/>
<ellipse cx="274.0" cy="687.8" rx="3.6" ry="2.2" fill="rgb(58,5,2)"/>
<ellipse cx="282.0" cy="687.8" rx="3.6" ry="2.2" fill="rgb(37,3,1)"/>
<ellipse cx="290.0" cy="687.8" rx="3.6" ry="2.2" fill="rgb(43,4,2)"/>
<ellipse cx="298.0" cy="687.8" rx="3.6" ry="2.2" fill="rgb(50,4,2)"/>
<ellipse cx="306.0" cy="687.8" rx="3.6" ry="2.2" fill="rgb(49,4,2)"/>
<ellipse cx="314.0" cy="687.8" rx="3.6" ry="2.2" fill="rgb(35,3,1)"/>
<ellipse cx="322.0" cy="687.8" rx="3.6" ry="2.2" fill="rgb(35,3,1)"/>
<ellipse cx="118.0" cy="694.4" rx="3.6" ry="2.2" fill="rgb(36,3,1)"/>
<ellipse cx="126.0" cy="694.4" rx="3.6" ry="2.2" fill="rgb(52,4,2)"/>
<ellipse cx="134.0" cy="694.4" rx="3.6" ry="2.2" fill="rgb(40,3,1)"/>
<ellipse cx="142.0" cy="694.4" rx="3.6" ry="2.2" fill="rgb(50,4,2)"/>
<ellipse cx="150.0" cy="694.4" rx="3.6" ry="2.2" fill="rgb(55,4,2)"/>
<ellipse cx="158.0" cy="694.4" rx="3.6" ry="2.2" fill="rgb(46,4,2)"/>
<ellipse cx="166.0" cy="694.4" rx="3.6" ry="2.2" fill="rgb(47,4,2)"/>
<ellipse cx="174.0" cy="694.4" rx="3.6" ry="2.2" fill="rgb(72,6,3)"/>
<ellipse cx="182.0" cy="694.4" rx="3.6" ry="2.2" fill="rgb(70,6,3)"/>
<ellipse cx="190.0" cy="694.4" rx="3.6" ry="2.2" fill="rgb(63,5,2)"/>
<ellipse cx="198.0" cy="694.4" rx="3.6" ry="2.2" fill="rgb(90,7,3)"/>
<ellipse cx="206.0" cy="694.4" rx="3.6" ry="2.2" fill="rgb(77,6,3)"/>
<ellipse cx="214.0" cy="694.4" rx="3.6" ry="2.2" fill="rgb(77,6,3)"/>
<ellipse cx="222.0" cy="694.4" rx="3.6" ry="2.2" fill="rgb(62,5,2)"/>
<ellipse cx="230.0" cy="694.4" rx="3.6" ry="2.2" fill="rgb(95,8,4)"/>
<ellipse cx="238.0" cy="694.4" rx="3.6" ry="2.2" fill="rgb(95,8,4)"/>
<ellipse cx="246.0" cy="694.4" rx="3.6" ry="2.2" fill="rgb(74,6,3)"/>
<ellipse cx="254.0" cy="694.4" rx="3.6" ry="2.2" fill="rgb(76,6,3)"/>
<ellipse cx="262.0" cy="694.4" rx="3.6" ry="2.2" fill="rgb(42,3,1)"/>
<ellipse cx="270.0" cy="694.4" rx="3.6" ry="2.2" fill="rgb(44,4,2)"/>
<ellipse cx="278.0" cy="694.4" rx="3.6" ry="2.2" fill="rgb(47,4,2)"/>
<ellipse cx="286.0" cy="694.4" rx="3.6" ry="2.2" fill="rgb(55,4,2)"/>
<ellipse cx="294.0" cy="694.4" rx="3.6" ry="2.2" fill="rgb(53,4,2)"/>
<ellipse cx="302.0" cy="694.4" rx="3.6" ry="2.2" fill="rgb(42,3,1)"/>
<ellipse cx="310.0" cy="694.4" rx="3.6" ry="2.2" fill="rgb(39,3,1)"/>
<ellipse cx="318.0" cy="694.4" rx="3.6" ry="2.2" fill="rgb(42,3,1)"/>
<ellipse cx="114.0" cy="701.0" rx="3.6" ry="2.2" fill="rgb(44,4,2)"/>
<ellipse cx="122.0" cy="701.0" rx="3.6" ry="2.2" fill="rgb(52,4,2)"/>
<ellipse cx="130.0" cy="701.0" rx="3.6" ry="2.2" fill="rgb(38,3,1)"/>
<ellipse cx="138.0" cy="701.0" rx="3.6" ry="2.2" fill="rgb(50,4,2)"/>
<ellipse cx="146.0" cy="701.0" rx="3.6" ry="2.2" fill="rgb(50,4,2)"/>
<ellipse cx="154.0" cy="701.0" rx="3.6" ry="2.2" fill="rgb(55,4,2)"/>
<ellipse cx="162.0" cy="701.0" rx="3.6" ry="2.2" fill="rgb(57,5,2)"/>
<ellipse cx="170.0" cy="701.0" rx="3.6" ry="2.2" fill="rgb(59,5,2)"/>
<ellipse cx="178.0" cy="701.0" rx="3.6" ry="2.2" fill="rgb(56,5,2)"/>
<ellipse cx="186.0" cy="701.0" rx="3.6" ry="2.2" fill="rgb(62,5,2)"/>
<ellipse cx="194.0" cy="701.0" rx="3.6" ry="2.2" fill="rgb(71,6,3)"/>
<ellipse cx="202.0" cy="701.0" rx="3.6" ry="2.2" fill="rgb(97,8,4)"/>
<ellipse cx="210.0" cy="701.0" rx="3.6" ry="2.2" fill="rgb(66,5,2)"/>
<ellipse cx="218.0" cy="701.0" rx="3.6" ry="2.2" fill="rgb(72,6,3)"/>
<ellipse cx="226.0" cy="701.0" rx="3.6" ry="2.2" fill="rgb(98,8,4)"/>
<ellipse cx="234.0" cy="701.0" rx="3.6" ry="2.2" fill="rgb(68,6,3)"/>
<ellipse cx="242.0" cy="701.0" rx="3.6" ry="2.2" fill="rgb(55,5,2)"/>
<ellipse cx="250.0" cy="701.0" rx="3.6" ry="2.2" fill="rgb(49,4,2)"/>
<ellipse cx="258.0" cy="701.0" rx="3.6" ry="2.2" fill="rgb(60,5,2)"/>
<ellipse cx="266.0" cy="701.0" rx="3.6" ry="2.2" fill="rgb(48,4,2)"/>
<ellipse cx="274.0" cy="701.0" rx="3.6" ry="2.2" fill="rgb(60,5,2)"/>
<ellipse cx="282.0" cy="701.0" rx="3.6" ry="2.2" fill="rgb(54,4,2)"/>
<ellipse cx="290.0" cy="701.0" rx="3.6" ry="2.2" fill="rgb(54,4,2)"/>
<ellipse cx="298.0" cy="701.0" rx="3.6" ry="2.2" fill="rgb(40,3,1)"/>
<ellipse cx="306.0" cy="701.0" rx="3.6" ry="2.2" fill="rgb(36,3,1)"/>
<ellipse cx="314.0" cy="701.0" rx="3.6" ry="2.2" fill="rgb(36,3,1)"/>
<ellipse cx="322.0" cy="701.0" rx="3.6" ry="2.2" fill="rgb(44,4,2)"/>
<ellipse cx="118.0" cy="707.6" rx="3.6" ry="2.2" fill="rgb(48,4,2)"/>
<ellipse cx="126.0" cy="707.6" rx="3.6" ry="2.2" fill="rgb(43,3,1)"/>
<ellipse cx="134.0" cy="707.6" rx="3.6" ry="2.2" fill="rgb(39,3,1)"/>
<ellipse cx="142.0" cy="707.6" rx="3.6" ry="2.2" fill="rgb(43,4,2)"/>
<ellipse cx="150.0" cy="707.6" rx="3.6" ry="2.2" fill="rgb(49,4,2)"/>
<ellipse cx="158.0" cy="707.6" rx="3.6" ry="2.2" fill="rgb(53,4,2)"/>
<ellipse cx="166.0" cy="707.6" rx="3.6" ry="2.2" fill="rgb(59,5,2)"/>
<ellipse cx="174.0" cy="707.6" rx="3.6" ry="2.2" fill="rgb(69,6,3)"/>
<ellipse cx="182.0" cy="707.6" rx="3.6" ry="2.2" fill="rgb(71,6,3)"/>
<ellipse cx="190.0" cy="707.6" rx="3.6" ry="2.2" fill="rgb(58,5,2)"/>
<ellipse cx="198.0" cy="707.6" rx="3.6" ry="2.2" fill="rgb(96,8,4)"/>
<ellipse cx="206.0" cy="707.6" rx="3.6" ry="2.2" fill="rgb(75,6,3)"/>
<ellipse cx="214.0" cy="707.6" rx="3.6" ry="2.2" fill="rgb(92,8,4)"/>
<ellipse cx="222.0" cy="707.6" rx="3.6" ry="2.2" fill="rgb(81,7,3)"/>
<ellipse cx="230.0" cy="707.6" rx="3.6" ry="2.2" fill="rgb(95,8,4)"/>
<ellipse cx="238.0" cy="707.6" rx="3.6" ry="2.2" fill="rgb(63,5,2)"/>
<ellipse cx="246.0" cy="707.6" rx="3.6" ry="2.2" fill="rgb(59,5,2)"/>
<ellipse cx="254.0" cy="707.6" rx="3.6" ry="2.2" fill="rgb(53,4,2)"/>
<ellipse cx="262.0" cy="707.6" rx="3.6" ry="2.2" fill="rgb(46,4,2)"/>
<ellipse cx="270.0" cy="707.6" rx="3.6" ry="2.2" fill="rgb(60,5,2)"/>
<ellipse cx="278.0" cy="707.6" rx="3.6" ry="2.2" fill="rgb(49,4,2)"/>
<ellipse cx="286.0" cy="707.6" rx="3.6" ry="2.2" fill="rgb(42,3,1)"/>
<ellipse cx="294.0" cy="707.6" rx="3.6" ry="2.2" fill="rgb(43,3,1)"/>
<ellipse cx="302.0" cy="707.6" rx="3.6" ry="2.2" fill="rgb(53,4,2)"/>
<ellipse cx="310.0" cy="707.6" rx="3.6" ry="2.2" fill="rgb(44,4,2)"/>
<ellipse cx="318.0" cy="707.6" rx="3.6" ry="2.2" fill="rgb(39,3,1)"/>
<ellipse cx="114.0" cy="714.2" rx="3.6" ry="2.2" fill="rgb(49,4,2)"/>
<ellipse cx="122.0" cy="714.2" rx="3.6" ry="2.2" fill="rgb(47,4,2)"/>
<ellipse cx="130.0" cy="714.2" rx="3.6" ry="2.2" fill="rgb(53,4,2)"/>
<ellipse cx="138.0" cy="714.2" rx="3.6" ry="2.2" fill="rgb(37,3,1)"/>
<ellipse cx="146.0" cy="714.2" rx="3.6" ry="2.2" fill="rgb(45,4,2)"/>
<ellipse cx="154.0" cy="714.2" rx="3.6" ry="2.2" fill="rgb(55,4,2)"/>
<ellipse cx="162.0" cy="714.2" rx="3.6" ry="2.2" fill="rgb(59,5,2)"/>
<ellipse cx="170.0" cy="714.2" rx="3.6" ry="2.2" fill="rgb(67,6,3)"/>
<ellipse cx="178.0" cy="714.2" rx="3.6" ry="2.2" fill="rgb(47,4,2)"/>
<ellipse cx="186.0" cy="714.2" rx="3.6" ry="2.2" fill="rgb(62,5,2)"/>
<ellipse cx="194.0" cy="714.2" rx="3.6" ry="2.2" fill="rgb(60,5,2)"/>
<ellipse cx="202.0" cy="714.2" rx="3.6" ry="2.2" fill="rgb(68,6,3)"/>
<ellipse cx="210.0" cy="714.2" rx="3.6" ry="2.2" fill="rgb(112,9,4)"/>
<ellipse cx="218.0" cy="714.2" rx="3.6" ry="2.2" fill="rgb(93,8,4)"/>
<ellipse cx="226.0" cy="714.2" rx="3.6" ry="2.2" fill="rgb(107,9,4)"/>
<ellipse cx="234.0" cy="714.2" rx="3.6" ry="2.2" fill="rgb(74,6,3)"/>
<ellipse cx="242.0" cy="714.2" rx="3.6" ry="2.2" fill="rgb(88,7,3)"/>
<ellipse cx="250.0" cy="714.2" rx="3.6" ry="2.2" fill="rgb(63,5,2)"/>
<ellipse cx="258.0" cy="714.2" rx="3.6" ry="2.2" fill="rgb(51,4,2)"/>
<ellipse cx="266.0" cy="714.2" rx="3.6" ry="2.2" fill="rgb(60,5,2)"/>
<ellipse cx="274.0" cy="714.2" rx="3.6" ry="2.2" fill="rgb(59,5,2)"/>
<ellipse cx="282.0" cy="714.2" rx="3.6" ry="2.2" fill="rgb(38,3,1)"/>
<ellipse cx="290.0" cy="714.2" rx="3.6" ry="2.2" fill="rgb(47,4,2)"/>
<ellipse cx="298.0" cy="714.2" rx="3.6" ry="2.2" fill="rgb(47,4,2)"/>
<ellipse cx="306.0" cy="714.2" rx="3.6" ry="2.2" fill="rgb(39,3,1)"/>
<ellipse cx="314.0" cy="714.2" rx="3.6" ry="2.2" fill="rgb(41,3,1)"/>
<ellipse cx="322.0" cy="714.2" rx="3.6" ry="2.2" fill="rgb(37,3,1)"/>
<ellipse cx="118.0" cy="720.8" rx="3.6" ry="2.2" fill="rgb(38,3,1)"/>
<ellipse cx="126.0" cy="720.8" rx="3.6" ry="2.2" fill="rgb(39,3,1)"/>
<ellipse cx="134.0" cy="720.8" rx="3.6" ry="2.2" fill="rgb(46,4,2)"/>
<ellipse cx="142.0" cy="720.8" rx="3.6" ry="2.2" fill="rgb(48,4,2)"/>
<ellipse cx="150.0" cy="720.8" rx="3.6" ry="2.2" fill="rgb(41,3,1)"/>
<ellipse cx="158.0" cy="720.8" rx="3.6" ry="2.2" fill="rgb(38,3,1)"/>
<ellipse cx="166.0" cy="720.8" rx="3.6" ry="2.2" fill="rgb(49,4,2)"/>
<ellipse cx="174.0" cy="720.8" rx="3.6" ry="2.2" fill="rgb(64,5,2)"/>
<ellipse cx="182.0" cy="720.8" rx="3.6" ry="2.2" fill="rgb(55,4,2)"/>
<ellipse cx="190.0" cy="720.8" rx="3.6" ry="2.2" fill="rgb(65,5,2)"/>
<ellipse cx="198.0" cy="720.8" rx="3.6" ry="2.2" fill="rgb(67,5,2)"/>
<ellipse cx="206.0" cy="720.8" rx="3.6" ry="2.2" fill="rgb(101,8,4)"/>
<ellipse cx="214.0" cy="720.8" rx="3.6" ry="2.2" fill="rgb(91,8,4)"/>
<ellipse cx="222.0" cy="720.8" rx="3.6" ry="2.2" fill="rgb(65,5,2)"/>
<ellipse cx="230.0" cy="720.8" rx="3.6" ry="2.2" fill="rgb(64,5,2)"/>
<ellipse cx="238.0" cy="720.8" rx="3.6" ry="2.2" fill="rgb(72,6,3)"/>
<ellipse cx="246.0" cy="720.8" rx="3.6" ry="2.2" fill="rgb(71,6,3)"/>
<ellipse cx="254.0" cy="720.8" rx="3.6" ry="2.2" fill="rgb(66,5,2)"/>
<ellipse cx="262.0" cy="720.8" rx="3.6" ry="2.2" fill="rgb(44,4,2)"/>
<ellipse cx="270.0" cy="720.8" rx="3.6" ry="2.2" fill="rgb(43,3,1)"/>
<ellipse cx="278.0" cy="720.8" rx="3.6" ry="2.2" fill="rgb(52,4,2)"/>
<ellipse cx="286.0" cy="720.8" rx="3.6" ry="2.2" fill="rgb(44,4,2)"/>
<ellipse cx="294.0" cy="720.8" rx="3.6" ry="2.2" fill="rgb(40,3,1)"/>
<ellipse cx="302.0" cy="720.8" rx="3.6" ry="2.2" fill="rgb(40,3,1)"/>
<ellipse cx="310.0" cy="720.8" rx="3.6" ry="2.2" fill="rgb(52,4,2)"/>
<ellipse cx="318.0" cy="720.8" rx="3.6" ry="2.2" fill="rgb(40,3,1)"/>
<line x1="215.8" y1="500" x2="215.8" y2="720" stroke="#7a0e08" stroke-width="7" stroke-dasharray="9 4" opacity="0.8"/>
</g>
<g filter="url(#blur1)">
<ellipse cx="215.8" cy="579" rx="4.5" ry="25" fill="url(#hot)"/>
<ellipse cx="213.8" cy="518" rx="5" ry="16" fill="url(#hot3)"/>
<ellipse cx="215.8" cy="542" rx="5" ry="14" fill="url(#hot3)"/>
</g>
<line x1="114.0" y1="500" x2="114.0" y2="720" stroke="#e8e8e8" stroke-width="1.3" stroke-dasharray="2 2.2" opacity="0.85"/>
<line x1="139.7" y1="500" x2="139.7" y2="720" stroke="#e8e8e8" stroke-width="1.3" stroke-dasharray="2 2.2" opacity="0.85"/>
<line x1="165.4" y1="500" x2="165.4" y2="720" stroke="#e8e8e8" stroke-width="1.3" stroke-dasharray="2 2.2" opacity="0.85"/>
<line x1="191.1" y1="500" x2="191.1" y2="720" stroke="#e8e8e8" stroke-width="1.3" stroke-dasharray="2 2.2" opacity="0.85"/>
<line x1="216.8" y1="500" x2="216.8" y2="720" stroke="#e8e8e8" stroke-width="1.3" stroke-dasharray="2 2.2" opacity="0.85"/>
<line x1="242.5" y1="500" x2="242.5" y2="720" stroke="#e8e8e8" stroke-width="1.3" stroke-dasharray="2 2.2" opacity="0.85"/>
<line x1="268.2" y1="500" x2="268.2" y2="720" stroke="#e8e8e8" stroke-width="1.3" stroke-dasharray="2 2.2" opacity="0.85"/>
<line x1="293.9" y1="500" x2="293.9" y2="720" stroke="#e8e8e8" stroke-width="1.3" stroke-dasharray="2 2.2" opacity="0.85"/>
<line x1="319.6" y1="500" x2="319.6" y2="720" stroke="#e8e8e8" stroke-width="1.3" stroke-dasharray="2 2.2" opacity="0.85"/>
<line x1="114" y1="500.0" x2="319.6" y2="500.0" stroke="#e8e8e8" stroke-width="1.3" stroke-dasharray="2 2.2" opacity="0.85"/>
<line x1="114" y1="527.5" x2="319.6" y2="527.5" stroke="#e8e8e8" stroke-width="1.3" stroke-dasharray="2 2.2" opacity="0.85"/>
<line x1="114" y1="555.0" x2="319.6" y2="555.0" stroke="#e8e8e8" stroke-width="1.3" stroke-dasharray="2 2.2" opacity="0.85"/>
<line x1="114" y1="582.5" x2="319.6" y2="582.5" stroke="#e8e8e8" stroke-width="1.3" stroke-dasharray="2 2.2" opacity="0.85"/>
<line x1="114" y1="610.0" x2="319.6" y2="610.0" stroke="#e8e8e8" stroke-width="1.3" stroke-dasharray="2 2.2" opacity="0.85"/>
<line x1="114" y1="637.5" x2="319.6" y2="637.5" stroke="#e8e8e8" stroke-width="1.3" stroke-dasharray="2 2.2" opacity="0.85"/>
<line x1="114" y1="665.0" x2="319.6" y2="665.0" stroke="#e8e8e8" stroke-width="1.3" stroke-dasharray="2 2.2" opacity="0.85"/>
<line x1="114" y1="692.5" x2="319.6" y2="692.5" stroke="#e8e8e8" stroke-width="1.3" stroke-dasharray="2 2.2" opacity="0.85"/>
<line x1="114" y1="720.0" x2="319.6" y2="720.0" stroke="#e8e8e8" stroke-width="1.3" stroke-dasharray="2 2.2" opacity="0.85"/>
<rect x="117.6" y="666.5" width="194.79999999999998" height="45.0" fill="#1c6232" opacity="0.9"/>
<line x1="139.7" y1="666.5" x2="139.7" y2="711.5" stroke="#c8c8c8" stroke-width="1.2" stroke-dasharray="2 2.2" opacity="0.45"/>
<line x1="165.4" y1="666.5" x2="165.4" y2="711.5" stroke="#c8c8c8" stroke-width="1.2" stroke-dasharray="2 2.2" opacity="0.45"/>
<line x1="191.1" y1="666.5" x2="191.1" y2="711.5" stroke="#c8c8c8" stroke-width="1.2" stroke-dasharray="2 2.2" opacity="0.45"/>
<line x1="216.8" y1="666.5" x2="216.8" y2="711.5" stroke="#c8c8c8" stroke-width="1.2" stroke-dasharray="2 2.2" opacity="0.45"/>
<line x1="242.5" y1="666.5" x2="242.5" y2="711.5" stroke="#c8c8c8" stroke-width="1.2" stroke-dasharray="2 2.2" opacity="0.45"/>
<line x1="268.2" y1="666.5" x2="268.2" y2="711.5" stroke="#c8c8c8" stroke-width="1.2" stroke-dasharray="2 2.2" opacity="0.45"/>
<line x1="293.9" y1="666.5" x2="293.9" y2="711.5" stroke="#c8c8c8" stroke-width="1.2" stroke-dasharray="2 2.2" opacity="0.45"/>
<line x1="117.6" y1="665.0" x2="312.4" y2="665.0" stroke="#c8c8c8" stroke-width="1.2" stroke-dasharray="2 2.2" opacity="0.45"/>
<line x1="117.6" y1="692.5" x2="312.4" y2="692.5" stroke="#c8c8c8" stroke-width="1.2" stroke-dasharray="2 2.2" opacity="0.45"/>
</g>
<text x="215.0" y="686.0" font-family="Liberation Sans, sans-serif" font-size="15.6" font-weight="bold" font-style="italic" text-anchor="middle" fill="#fff" >Conventional FZP</text>
<text x="215.0" y="703.5" font-family="Liberation Sans, sans-serif" font-size="15.6" font-weight="bold" font-style="italic" text-anchor="middle" fill="#fff" >(Experimental)</text>
<line x1="200" y1="582.6" x2="229.5" y2="582.6" stroke="#fff" stroke-width="2" stroke-dasharray="4 2"/>
<line x1="198.5" y1="585.3000000000001" x2="184.3" y2="598.9000000000001" stroke="#ddd" stroke-width="1"/>
<path d="M182.3,600.9000000000001 l2.2,-5 l2.8,2.8 z" fill="#eee"/>
<text x="124" y="618" font-family="Liberation Sans, sans-serif" font-size="14.8" font-weight="normal" font-style="italic" text-anchor="start" fill="#e4e4e4" >Cross-</text>
<text x="124" y="635.3" font-family="Liberation Sans, sans-serif" font-size="14.8" font-weight="normal" font-style="italic" text-anchor="start" fill="#e4e4e4" >section line</text>
<text x="386" y="405.5" font-family="Liberation Sans, sans-serif" font-size="34.5" font-weight="bold" font-style="normal" text-anchor="start" fill="#000" >d</text>
<g transform="translate(384.5,417.5)">
<rect x="0" y="0" width="279" height="40" fill="#cbcbc7"/>
<rect x="0" y="0" width="6" height="40" fill="#dcdbd2"/>
<rect x="273" y="0" width="6" height="40" fill="#d8d7ce"/>
<path d="M5.7,0 H273 V18.8 L249,30.5 H28 L5.7,20.8 Z" fill="#1c2030"/>
<path d="M5.7,17.5 L28,28 L28,30.5 L5.7,20.8 Z" fill="#50546a" opacity="0.8"/>
<path d="M273,16.5 L249,28 L249,30.5 L273,18.8 Z" fill="#50546a" opacity="0.8"/>
<path d="M27,29.8 C42,22 85,20.4 140,20.4 C195,20.4 236,22 251,29.8 C236,37.2 195,38.6 140,38.6 C85,38.6 42,37.2 27,29.8 Z" fill="url(#disc)"/>
</g>
<path d="M513.5,440.6 C523,441.0 534,442.5 536.1,447.7 C537,451.0 523,451.1 513.1,453.1 C509,454.5 510,457.5 514.5,458.4 L523.3,461.9" fill="none" stroke="#151515" stroke-width="1.7" stroke-dasharray="1.5 1.4"/>
<circle cx="523.5" cy="462.1" r="1.5" fill="#111"/>
<rect x="393.4" y="467.3" width="6.6" height="4.8" fill="#000"/>
<rect x="401.6" y="467.3" width="9.5" height="4.8" fill="#000"/>
<rect x="412.7" y="467.3" width="7.0" height="4.8" fill="#000"/>
<rect x="421.8" y="467.3" width="1.3" height="4.8" fill="#000"/>
<rect x="424.7" y="467.3" width="5.7" height="4.8" fill="#000"/>
<rect x="432.0" y="467.3" width="9.8" height="4.8" fill="#000"/>
<rect x="444.9" y="467.3" width="2.3" height="4.8" fill="#000"/>
<rect x="448.8" y="467.3" width="5.8" height="4.8" fill="#000"/>
<rect x="456.2" y="467.3" width="11.0" height="4.8" fill="#000"/>
<rect x="468.8" y="467.3" width="7.9" height="4.8" fill="#000"/>
<rect x="478.3" y="467.3" width="3.4" height="4.8" fill="#000"/>
<rect x="484.9" y="467.3" width="5.5" height="4.8" fill="#000"/>
<rect x="492.0" y="467.3" width="6.8" height="4.8" fill="#000"/>
<rect x="500.4" y="467.3" width="6.8" height="4.8" fill="#000"/>
<rect x="508.8" y="467.3" width="4.7" height="4.8" fill="#000"/>
<rect x="515.1" y="467.3" width="4.8" height="4.8" fill="#000"/>
<rect x="521.5" y="467.3" width="8.6" height="4.8" fill="#000"/>
<rect x="531.7" y="467.3" width="8.3" height="4.8" fill="#000"/>
<rect x="544.5" y="467.3" width="3.7" height="4.8" fill="#000"/>
<rect x="549.8" y="467.3" width="7.4" height="4.8" fill="#000"/>
<rect x="558.8" y="467.3" width="9.5" height="4.8" fill="#000"/>
<rect x="570.6" y="467.3" width="8.2" height="4.8" fill="#000"/>
<rect x="580.4" y="467.3" width="10.8" height="4.8" fill="#000"/>
<rect x="592.8" y="467.3" width="3.0" height="4.8" fill="#000"/>
<rect x="597.4" y="467.3" width="2.3" height="4.8" fill="#000"/>
<rect x="601.3" y="467.3" width="2.5" height="4.8" fill="#000"/>
<rect x="605.4" y="467.3" width="12.0" height="4.8" fill="#000"/>
<rect x="619.0" y="467.3" width="7.0" height="4.8" fill="#000"/>
<rect x="628.4" y="467.3" width="8.2" height="4.8" fill="#000"/>
<rect x="638.2" y="467.3" width="7.5" height="4.8" fill="#000"/>
<rect x="647.3" y="467.3" width="7.2" height="4.8" fill="#000"/>
<text x="522.5" y="492.0" font-family="Liberation Sans, sans-serif" font-size="15.3" font-weight="normal" font-style="italic" text-anchor="middle" fill="#1a1a1a" >1MHz incident  wave</text>
<text x="405" y="507.5" font-family="Liberation Sans, sans-serif" font-size="17.3" font-weight="normal" font-style="normal" text-anchor="end" fill="#000" >10</text>
<text x="405.5" y="726.0" font-family="Liberation Sans, sans-serif" font-size="17.3" font-weight="normal" font-style="normal" text-anchor="end" fill="#000" >50</text>
<text transform="translate(390,611.0) rotate(-90)" x="0" y="0" font-family="Liberation Sans, sans-serif" font-size="17.9" font-weight="normal" text-anchor="middle" fill="#000">Position from the lens</text>
<text transform="translate(409.5,606.0) rotate(-90)" x="0" y="0" font-family="Liberation Sans, sans-serif" font-size="17.6" font-weight="normal" text-anchor="middle" fill="#000">(mm)</text>
<text x="425.5" y="750.2" font-family="Liberation Sans, sans-serif" font-size="17.3" font-weight="normal" font-style="normal" text-anchor="middle" fill="#000" >-20</text>
<text x="625.5" y="750.2" font-family="Liberation Sans, sans-serif" font-size="17.3" font-weight="normal" font-style="normal" text-anchor="middle" fill="#000" >20</text>
<text x="524" y="740.5" font-family="Liberation Sans, sans-serif" font-size="17.3" font-weight="normal" font-style="normal" text-anchor="middle" fill="#000" >Lateral position</text>
<text x="524" y="759.8" font-family="Liberation Sans, sans-serif" font-size="17.3" font-weight="normal" font-style="normal" text-anchor="middle" fill="#000" >(mm)</text>
<clipPath id="clipd"><rect x="422.7" y="500" width="203.6" height="219"/></clipPath>
<g clip-path="url(#clipd)">
<rect x="422.7" y="500" width="203.6" height="219" fill="#070000"/>
<g filter="url(#blur2)">
<ellipse cx="422.7" cy="503.0" rx="3.6" ry="2.2" fill="rgb(22,2,1)"/>
<ellipse cx="430.7" cy="503.0" rx="3.6" ry="2.2" fill="rgb(23,2,1)"/>
<ellipse cx="438.7" cy="503.0" rx="3.6" ry="2.2" fill="rgb(28,2,1)"/>
<ellipse cx="446.7" cy="503.0" rx="3.6" ry="2.2" fill="rgb(22,2,1)"/>
<ellipse cx="454.7" cy="503.0" rx="3.6" ry="2.2" fill="rgb(23,2,1)"/>
<ellipse cx="462.7" cy="503.0" rx="3.6" ry="2.2" fill="rgb(24,2,1)"/>
<ellipse cx="470.7" cy="503.0" rx="3.6" ry="2.2" fill="rgb(19,1,0)"/>
<ellipse cx="478.7" cy="503.0" rx="3.6" ry="2.2" fill="rgb(27,2,1)"/>
<ellipse cx="486.7" cy="503.0" rx="3.6" ry="2.2" fill="rgb(34,3,1)"/>
<ellipse cx="494.7" cy="503.0" rx="3.6" ry="2.2" fill="rgb(49,4,2)"/>
<ellipse cx="502.7" cy="503.0" rx="3.6" ry="2.2" fill="rgb(35,3,1)"/>
<ellipse cx="510.7" cy="503.0" rx="3.6" ry="2.2" fill="rgb(54,4,2)"/>
<ellipse cx="518.7" cy="503.0" rx="3.6" ry="2.2" fill="rgb(48,4,2)"/>
<ellipse cx="526.7" cy="503.0" rx="3.6" ry="2.2" fill="rgb(92,7,3)"/>
<ellipse cx="534.7" cy="503.0" rx="3.6" ry="2.2" fill="rgb(76,6,3)"/>
<ellipse cx="542.7" cy="503.0" rx="3.6" ry="2.2" fill="rgb(34,3,1)"/>
<ellipse cx="550.7" cy="503.0" rx="3.6" ry="2.2" fill="rgb(57,5,2)"/>
<ellipse cx="558.7" cy="503.0" rx="3.6" ry="2.2" fill="rgb(43,3,1)"/>
<ellipse cx="566.7" cy="503.0" rx="3.6" ry="2.2" fill="rgb(30,2,1)"/>
<ellipse cx="574.7" cy="503.0" rx="3.6" ry="2.2" fill="rgb(26,2,1)"/>
<ellipse cx="582.7" cy="503.0" rx="3.6" ry="2.2" fill="rgb(18,1,0)"/>
<ellipse cx="590.7" cy="503.0" rx="3.6" ry="2.2" fill="rgb(16,1,0)"/>
<ellipse cx="598.7" cy="503.0" rx="3.6" ry="2.2" fill="rgb(23,2,1)"/>
<ellipse cx="606.7" cy="503.0" rx="3.6" ry="2.2" fill="rgb(17,1,0)"/>
<ellipse cx="614.7" cy="503.0" rx="3.6" ry="2.2" fill="rgb(18,1,0)"/>
<ellipse cx="622.7" cy="503.0" rx="3.6" ry="2.2" fill="rgb(19,1,0)"/>
<ellipse cx="426.7" cy="509.6" rx="3.6" ry="2.2" fill="rgb(17,1,0)"/>
<ellipse cx="434.7" cy="509.6" rx="3.6" ry="2.2" fill="rgb(22,2,1)"/>
<ellipse cx="442.7" cy="509.6" rx="3.6" ry="2.2" fill="rgb(22,2,1)"/>
<ellipse cx="450.7" cy="509.6" rx="3.6" ry="2.2" fill="rgb(27,2,1)"/>
<ellipse cx="458.7" cy="509.6" rx="3.6" ry="2.2" fill="rgb(23,2,1)"/>
<ellipse cx="466.7" cy="509.6" rx="3.6" ry="2.2" fill="rgb(25,2,1)"/>
<ellipse cx="474.7" cy="509.6" rx="3.6" ry="2.2" fill="rgb(25,2,1)"/>
<ellipse cx="482.7" cy="509.6" rx="3.6" ry="2.2" fill="rgb(32,2,1)"/>
<ellipse cx="490.7" cy="509.6" rx="3.6" ry="2.2" fill="rgb(34,3,1)"/>
<ellipse cx="498.7" cy="509.6" rx="3.6" ry="2.2" fill="rgb(38,3,1)"/>
<ellipse cx="506.7" cy="509.6" rx="3.6" ry="2.2" fill="rgb(82,7,3)"/>
<ellipse cx="514.7" cy="509.6" rx="3.6" ry="2.2" fill="rgb(97,8,4)"/>
<ellipse cx="522.7" cy="509.6" rx="3.6" ry="2.2" fill="rgb(95,8,4)"/>
<ellipse cx="530.7" cy="509.6" rx="3.6" ry="2.2" fill="rgb(82,7,3)"/>
<ellipse cx="538.7" cy="509.6" rx="3.6" ry="2.2" fill="rgb(51,4,2)"/>
<ellipse cx="546.7" cy="509.6" rx="3.6" ry="2.2" fill="rgb(38,3,1)"/>
<ellipse cx="554.7" cy="509.6" rx="3.6" ry="2.2" fill="rgb(31,2,1)"/>
<ellipse cx="562.7" cy="509.6" rx="3.6" ry="2.2" fill="rgb(21,1,0)"/>
<ellipse cx="570.7" cy="509.6" rx="3.6" ry="2.2" fill="rgb(29,2,1)"/>
<ellipse cx="578.7" cy="509.6" rx="3.6" ry="2.2" fill="rgb(22,2,1)"/>
<ellipse cx="586.7" cy="509.6" rx="3.6" ry="2.2" fill="rgb(27,2,1)"/>
<ellipse cx="594.7" cy="509.6" rx="3.6" ry="2.2" fill="rgb(21,1,0)"/>
<ellipse cx="602.7" cy="509.6" rx="3.6" ry="2.2" fill="rgb(28,2,1)"/>
<ellipse cx="610.7" cy="509.6" rx="3.6" ry="2.2" fill="rgb(27,2,1)"/>
<ellipse cx="618.7" cy="509.6" rx="3.6" ry="2.2" fill="rgb(16,1,0)"/>
<ellipse cx="626.7" cy="509.6" rx="3.6" ry="2.2" fill="rgb(19,1,0)"/>
<ellipse cx="422.7" cy="516.2" rx="3.6" ry="2.2" fill="rgb(27,2,1)"/>
<ellipse cx="430.7" cy="516.2" rx="3.6" ry="2.2" fill="rgb(22,2,1)"/>
<ellipse cx="438.7" cy="516.2" rx="3.6" ry="2.2" fill="rgb(28,2,1)"/>
<ellipse cx="446.7" cy="516.2" rx="3.6" ry="2.2" fill="rgb(21,1,0)"/>
<ellipse cx="454.7" cy="516.2" rx="3.6" ry="2.2" fill="rgb(17,1,0)"/>
<ellipse cx="462.7" cy="516.2" rx="3.6" ry="2.2" fill="rgb(24,2,1)"/>
<ellipse cx="470.7" cy="516.2" rx="3.6" ry="2.2" fill="rgb(28,2,1)"/>
<ellipse cx="478.7" cy="516.2" rx="3.6" ry="2.2" fill="rgb(23,2,1)"/>
<ellipse cx="486.7" cy="516.2" rx="3.6" ry="2.2" fill="rgb(23,2,1)"/>
<ellipse cx="494.7" cy="516.2" rx="3.6" ry="2.2" fill="rgb(35,3,1)"/>
<ellipse cx="502.7" cy="516.2" rx="3.6" ry="2.2" fill="rgb(71,6,3)"/>
<ellipse cx="510.7" cy="516.2" rx="3.6" ry="2.2" fill="rgb(78,6,3)"/>
<ellipse cx="518.7" cy="516.2" rx="3.6" ry="2.2" fill="rgb(49,4,2)"/>
<ellipse cx="526.7" cy="516.2" rx="3.6" ry="2.2" fill="rgb(57,5,2)"/>
<ellipse cx="534.7" cy="516.2" rx="3.6" ry="2.2" fill="rgb(44,3,1)"/>
<ellipse cx="542.7" cy="516.2" rx="3.6" ry="2.2" fill="rgb(35,3,1)"/>
<ellipse cx="550.7" cy="516.2" rx="3.6" ry="2.2" fill="rgb(51,4,2)"/>
<ellipse cx="558.7" cy="516.2" rx="3.6" ry="2.2" fill="rgb(25,2,1)"/>
<ellipse cx="566.7" cy="516.2" rx="3.6" ry="2.2" fill="rgb(28,2,1)"/>
<ellipse cx="574.7" cy="516.2" rx="3.6" ry="2.2" fill="rgb(23,2,1)"/>
<ellipse cx="582.7" cy="516.2" rx="3.6" ry="2.2" fill="rgb(19,1,0)"/>
<ellipse cx="590.7" cy="516.2" rx="3.6" ry="2.2" fill="rgb(25,2,1)"/>
<ellipse cx="598.7" cy="516.2" rx="3.6" ry="2.2" fill="rgb(18,1,0)"/>
<ellipse cx="606.7" cy="516.2" rx="3.6" ry="2.2" fill="rgb(24,2,1)"/>
<ellipse cx="614.7" cy="516.2" rx="3.6" ry="2.2" fill="rgb(18,1,0)"/>
<ellipse cx="622.7" cy="516.2" rx="3.6" ry="2.2" fill="rgb(21,1,0)"/>
<ellipse cx="426.7" cy="522.8" rx="3.6" ry="2.2" fill="rgb(19,1,0)"/>
<ellipse cx="434.7" cy="522.8" rx="3.6" ry="2.2" fill="rgb(19,1,0)"/>
<ellipse cx="442.7" cy="522.8" rx="3.6" ry="2.2" fill="rgb(28,2,1)"/>
<ellipse cx="450.7" cy="522.8" rx="3.6" ry="2.2" fill="rgb(26,2,1)"/>
<ellipse cx="458.7" cy="522.8" rx="3.6" ry="2.2" fill="rgb(20,1,0)"/>
<ellipse cx="466.7" cy="522.8" rx="3.6" ry="2.2" fill="rgb(28,2,1)"/>
<ellipse cx="474.7" cy="522.8" rx="3.6" ry="2.2" fill="rgb(21,1,0)"/>
<ellipse cx="482.7" cy="522.8" rx="3.6" ry="2.2" fill="rgb(27,2,1)"/>
<ellipse cx="490.7" cy="522.8" rx="3.6" ry="2.2" fill="rgb(44,3,1)"/>
<ellipse cx="498.7" cy="522.8" rx="3.6" ry="2.2" fill="rgb(51,4,2)"/>
<ellipse cx="506.7" cy="522.8" rx="3.6" ry="2.2" fill="rgb(40,3,1)"/>
<ellipse cx="514.7" cy="522.8" rx="3.6" ry="2.2" fill="rgb(97,8,4)"/>
<ellipse cx="522.7" cy="522.8" rx="3.6" ry="2.2" fill="rgb(56,4,2)"/>
<ellipse cx="530.7" cy="522.8" rx="3.6" ry="2.2" fill="rgb(56,4,2)"/>
<ellipse cx="538.7" cy="522.8" rx="3.6" ry="2.2" fill="rgb(74,6,3)"/>
<ellipse cx="546.7" cy="522.8" rx="3.6" ry="2.2" fill="rgb(42,3,1)"/>
<ellipse cx="554.7" cy="522.8" rx="3.6" ry="2.2" fill="rgb(32,2,1)"/>
<ellipse cx="562.7" cy="522.8" rx="3.6" ry="2.2" fill="rgb(21,1,0)"/>
<ellipse cx="570.7" cy="522.8" rx="3.6" ry="2.2" fill="rgb(19,1,0)"/>
<ellipse cx="578.7" cy="522.8" rx="3.6" ry="2.2" fill="rgb(24,2,1)"/>
<ellipse cx="586.7" cy="522.8" rx="3.6" ry="2.2" fill="rgb(19,1,0)"/>
<ellipse cx="594.7" cy="522.8" rx="3.6" ry="2.2" fill="rgb(24,2,1)"/>
<ellipse cx="602.7" cy="522.8" rx="3.6" ry="2.2" fill="rgb(21,1,0)"/>
<ellipse cx="610.7" cy="522.8" rx="3.6" ry="2.2" fill="rgb(22,2,1)"/>
<ellipse cx="618.7" cy="522.8" rx="3.6" ry="2.2" fill="rgb(28,2,1)"/>
<ellipse cx="626.7" cy="522.8" rx="3.6" ry="2.2" fill="rgb(22,2,1)"/>
<ellipse cx="422.7" cy="529.4" rx="3.6" ry="2.2" fill="rgb(23,2,1)"/>
<ellipse cx="430.7" cy="529.4" rx="3.6" ry="2.2" fill="rgb(27,2,1)"/>
<ellipse cx="438.7" cy="529.4" rx="3.6" ry="2.2" fill="rgb(18,1,0)"/>
<ellipse cx="446.7" cy="529.4" rx="3.6" ry="2.2" fill="rgb(18,1,0)"/>
<ellipse cx="454.7" cy="529.4" rx="3.6" ry="2.2" fill="rgb(28,2,1)"/>
<ellipse cx="462.7" cy="529.4" rx="3.6" ry="2.2" fill="rgb(27,2,1)"/>
<ellipse cx="470.7" cy="529.4" rx="3.6" ry="2.2" fill="rgb(20,1,0)"/>
<ellipse cx="478.7" cy="529.4" rx="3.6" ry="2.2" fill="rgb(21,1,0)"/>
<ellipse cx="486.7" cy="529.4" rx="3.6" ry="2.2" fill="rgb(37,3,1)"/>
<ellipse cx="494.7" cy="529.4" rx="3.6" ry="2.2" fill="rgb(54,4,2)"/>
<ellipse cx="502.7" cy="529.4" rx="3.6" ry="2.2" fill="rgb(40,3,1)"/>
<ellipse cx="510.7" cy="529.4" rx="3.6" ry="2.2" fill="rgb(88,7,3)"/>
<ellipse cx="518.7" cy="529.4" rx="3.6" ry="2.2" fill="rgb(95,8,4)"/>
<ellipse cx="526.7" cy="529.4" rx="3.6" ry="2.2" fill="rgb(79,6,3)"/>
<ellipse cx="534.7" cy="529.4" rx="3.6" ry="2.2" fill="rgb(62,5,2)"/>
<ellipse cx="542.7" cy="529.4" rx="3.6" ry="2.2" fill="rgb(37,3,1)"/>
<ellipse cx="550.7" cy="529.4" rx="3.6" ry="2.2" fill="rgb(28,2,1)"/>
<ellipse cx="558.7" cy="529.4" rx="3.6" ry="2.2" fill="rgb(43,3,1)"/>
<ellipse cx="566.7" cy="529.4" rx="3.6" ry="2.2" fill="rgb(23,2,1)"/>
<ellipse cx="574.7" cy="529.4" rx="3.6" ry="2.2" fill="rgb(27,2,1)"/>
<ellipse cx="582.7" cy="529.4" rx="3.6" ry="2.2" fill="rgb(20,1,0)"/>
<ellipse cx="590.7" cy="529.4" rx="3.6" ry="2.2" fill="rgb(27,2,1)"/>
<ellipse cx="598.7" cy="529.4" rx="3.6" ry="2.2" fill="rgb(24,2,1)"/>
<ellipse cx="606.7" cy="529.4" rx="3.6" ry="2.2" fill="rgb(20,1,0)"/>
<ellipse cx="614.7" cy="529.4" rx="3.6" ry="2.2" fill="rgb(18,1,0)"/>
<ellipse cx="622.7" cy="529.4" rx="3.6" ry="2.2" fill="rgb(25,2,1)"/>
<ellipse cx="426.7" cy="536.0" rx="3.6" ry="2.2" fill="rgb(17,1,0)"/>
<ellipse cx="434.7" cy="536.0" rx="3.6" ry="2.2" fill="rgb(19,1,0)"/>
<ellipse cx="442.7" cy="536.0" rx="3.6" ry="2.2" fill="rgb(23,2,1)"/>
<ellipse cx="450.7" cy="536.0" rx="3.6" ry="2.2" fill="rgb(27,2,1)"/>
<ellipse cx="458.7" cy="536.0" rx="3.6" ry="2.2" fill="rgb(24,2,1)"/>
<ellipse cx="466.7" cy="536.0" rx="3.6" ry="2.2" fill="rgb(20,1,0)"/>
<ellipse cx="474.7" cy="536.0" rx="3.6" ry="2.2" fill="rgb(31,2,1)"/>
<ellipse cx="482.7" cy="536.0" rx="3.6" ry="2.2" fill="rgb(23,2,1)"/>
<ellipse cx="490.7" cy="536.0" rx="3.6" ry="2.2" fill="rgb(23,2,1)"/>
<ellipse cx="498.7" cy="536.0" rx="3.6" ry="2.2" fill="rgb(38,3,1)"/>
<ellipse cx="506.7" cy="536.0" rx="3.6" ry="2.2" fill="rgb(56,4,2)"/>
<ellipse cx="514.7" cy="536.0" rx="3.6" ry="2.2" fill="rgb(44,3,1)"/>
<ellipse cx="522.7" cy="536.0" rx="3.6" ry="2.2" fill="rgb(54,4,2)"/>
<ellipse cx="530.7" cy="536.0" rx="3.6" ry="2.2" fill="rgb(62,5,2)"/>
<ellipse cx="538.7" cy="536.0" rx="3.6" ry="2.2" fill="rgb(64,5,2)"/>
<ellipse cx="546.7" cy="536.0" rx="3.6" ry="2.2" fill="rgb(34,3,1)"/>
<ellipse cx="554.7" cy="536.0" rx="3.6" ry="2.2" fill="rgb(33,3,1)"/>
<ellipse cx="562.7" cy="536.0" rx="3.6" ry="2.2" fill="rgb(37,3,1)"/>
<ellipse cx="570.7" cy="536.0" rx="3.6" ry="2.2" fill="rgb(33,2,1)"/>
<ellipse cx="578.7" cy="536.0" rx="3.6" ry="2.2" fill="rgb(25,2,1)"/>
<ellipse cx="586.7" cy="536.0" rx="3.6" ry="2.2" fill="rgb(25,2,1)"/>
<ellipse cx="594.7" cy="536.0" rx="3.6" ry="2.2" fill="rgb(23,2,1)"/>
<ellipse cx="602.7" cy="536.0" rx="3.6" ry="2.2" fill="rgb(18,1,0)"/>
<ellipse cx="610.7" cy="536.0" rx="3.6" ry="2.2" fill="rgb(17,1,0)"/>
<ellipse cx="618.7" cy="536.0" rx="3.6" ry="2.2" fill="rgb(16,1,0)"/>
<ellipse cx="626.7" cy="536.0" rx="3.6" ry="2.2" fill="rgb(27,2,1)"/>
<ellipse cx="422.7" cy="542.6" rx="3.6" ry="2.2" fill="rgb(25,2,1)"/>
<ellipse cx="430.7" cy="542.6" rx="3.6" ry="2.2" fill="rgb(28,2,1)"/>
<ellipse cx="438.7" cy="542.6" rx="3.6" ry="2.2" fill="rgb(16,1,0)"/>
<ellipse cx="446.7" cy="542.6" rx="3.6" ry="2.2" fill="rgb(24,2,1)"/>
<ellipse cx="454.7" cy="542.6" rx="3.6" ry="2.2" fill="rgb(22,2,1)"/>
<ellipse cx="462.7" cy="542.6" rx="3.6" ry="2.2" fill="rgb(26,2,1)"/>
<ellipse cx="470.7" cy="542.6" rx="3.6" ry="2.2" fill="rgb(21,1,0)"/>
<ellipse cx="478.7" cy="542.6" rx="3.6" ry="2.2" fill="rgb(35,3,1)"/>
<ellipse cx="486.7" cy="542.6" rx="3.6" ry="2.2" fill="rgb(23,2,1)"/>
<ellipse cx="494.7" cy="542.6" rx="3.6" ry="2.2" fill="rgb(42,3,1)"/>
<ellipse cx="502.7" cy="542.6" rx="3.6" ry="2.2" fill="rgb(62,5,2)"/>
<ellipse cx="510.7" cy="542.6" rx="3.6" ry="2.2" fill="rgb(85,7,3)"/>
<ellipse cx="518.7" cy="542.6" rx="3.6" ry="2.2" fill="rgb(87,7,3)"/>
<ellipse cx="526.7" cy="542.6" rx="3.6" ry="2.2" fill="rgb(85,7,3)"/>
<ellipse cx="534.7" cy="542.6" rx="3.6" ry="2.2" fill="rgb(82,7,3)"/>
<ellipse cx="542.7" cy="542.6" rx="3.6" ry="2.2" fill="rgb(72,6,3)"/>
<ellipse cx="550.7" cy="542.6" rx="3.6" ry="2.2" fill="rgb(37,3,1)"/>
<ellipse cx="558.7" cy="542.6" rx="3.6" ry="2.2" fill="rgb(37,3,1)"/>
<ellipse cx="566.7" cy="542.6" rx="3.6" ry="2.2" fill="rgb(34,3,1)"/>
<ellipse cx="574.7" cy="542.6" rx="3.6" ry="2.2" fill="rgb(29,2,1)"/>
<ellipse cx="582.7" cy="542.6" rx="3.6" ry="2.2" fill="rgb(22,2,1)"/>
<ellipse cx="590.7" cy="542.6" rx="3.6" ry="2.2" fill="rgb(26,2,1)"/>
<ellipse cx="598.7" cy="542.6" rx="3.6" ry="2.2" fill="rgb(27,2,1)"/>
<ellipse cx="606.7" cy="542.6" rx="3.6" ry="2.2" fill="rgb(23,2,1)"/>
<ellipse cx="614.7" cy="542.6" rx="3.6" ry="2.2" fill="rgb(24,2,1)"/>
<ellipse cx="622.7" cy="542.6" rx="3.6" ry="2.2" fill="rgb(21,1,0)"/>
<ellipse cx="426.7" cy="549.2" rx="3.6" ry="2.2" fill="rgb(23,2,1)"/>
<ellipse cx="434.7" cy="549.2" rx="3.6" ry="2.2" fill="rgb(24,2,1)"/>
<ellipse cx="442.7" cy="549.2" rx="3.6" ry="2.2" fill="rgb(17,1,0)"/>
<ellipse cx="450.7" cy="549.2" rx="3.6" ry="2.2" fill="rgb(24,2,1)"/>
<ellipse cx="458.7" cy="549.2" rx="3.6" ry="2.2" fill="rgb(29,2,1)"/>
<ellipse cx="466.7" cy="549.2" rx="3.6" ry="2.2" fill="rgb(28,2,1)"/>
<ellipse cx="474.7" cy="549.2" rx="3.6" ry="2.2" fill="rgb(28,2,1)"/>
<ellipse cx="482.7" cy="549.2" rx="3.6" ry="2.2" fill="rgb(27,2,1)"/>
<ellipse cx="490.7" cy="549.2" rx="3.6" ry="2.2" fill="rgb(41,3,1)"/>
<ellipse cx="498.7" cy="549.2" rx="3.6" ry="2.2" fill="rgb(49,4,2)"/>
<ellipse cx="506.7" cy="549.2" rx="3.6" ry="2.2" fill="rgb(56,4,2)"/>
<ellipse cx="514.7" cy="549.2" rx="3.6" ry="2.2" fill="rgb(88,7,3)"/>
<ellipse cx="522.7" cy="549.2" rx="3.6" ry="2.2" fill="rgb(48,4,2)"/>
<ellipse cx="530.7" cy="549.2" rx="3.6" ry="2.2" fill="rgb(85,7,3)"/>
<ellipse cx="538.7" cy="549.2" rx="3.6" ry="2.2" fill="rgb(37,3,1)"/>
<ellipse cx="546.7" cy="549.2" rx="3.6" ry="2.2" fill="rgb(52,4,2)"/>
<ellipse cx="554.7" cy="549.2" rx="3.6" ry="2.2" fill="rgb(36,3,1)"/>
<ellipse cx="562.7" cy="549.2" rx="3.6" ry="2.2" fill="rgb(24,2,1)"/>
<ellipse cx="570.7" cy="549.2" rx="3.6" ry="2.2" fill="rgb(28,2,1)"/>
<ellipse cx="578.7" cy="549.2" rx="3.6" ry="2.2" fill="rgb(23,2,1)"/>
<ellipse cx="586.7" cy="549.2" rx="3.6" ry="2.2" fill="rgb(24,2,1)"/>
<ellipse cx="594.7" cy="549.2" rx="3.6" ry="2.2" fill="rgb(28,2,1)"/>
<ellipse cx="602.7" cy="549.2" rx="3.6" ry="2.2" fill="rgb(19,1,0)"/>
<ellipse cx="610.7" cy="549.2" rx="3.6" ry="2.2" fill="rgb(16,1,0)"/>
<ellipse cx="618.7" cy="549.2" rx="3.6" ry="2.2" fill="rgb(20,1,0)"/>
<ellipse cx="626.7" cy="549.2" rx="3.6" ry="2.2" fill="rgb(25,2,1)"/>
<ellipse cx="422.7" cy="555.8" rx="3.6" ry="2.2" fill="rgb(19,1,0)"/>
<ellipse cx="430.7" cy="555.8" rx="3.6" ry="2.2" fill="rgb(18,1,0)"/>
<ellipse cx="438.7" cy="555.8" rx="3.6" ry="2.2" fill="rgb(27,2,1)"/>
<ellipse cx="446.7" cy="555.8" rx="3.6" ry="2.2" fill="rgb(24,2,1)"/>
<ellipse cx="454.7" cy="555.8" rx="3.6" ry="2.2" fill="rgb(22,2,1)"/>
<ellipse cx="462.7" cy="555.8" rx="3.6" ry="2.2" fill="rgb(28,2,1)"/>
<ellipse cx="470.7" cy="555.8" rx="3.6" ry="2.2" fill="rgb(21,2,1)"/>
<ellipse cx="478.7" cy="555.8" rx="3.6" ry="2.2" fill="rgb(29,2,1)"/>
<ellipse cx="486.7" cy="555.8" rx="3.6" ry="2.2" fill="rgb(25,2,1)"/>
<ellipse cx="494.7" cy="555.8" rx="3.6" ry="2.2" fill="rgb(38,3,1)"/>
<ellipse cx="502.7" cy="555.8" rx="3.6" ry="2.2" fill="rgb(65,5,2)"/>
<ellipse cx="510.7" cy="555.8" rx="3.6" ry="2.2" fill="rgb(86,7,3)"/>
<ellipse cx="518.7" cy="555.8" rx="3.6" ry="2.2" fill="rgb(95,8,4)"/>
<ellipse cx="526.7" cy="555.8" rx="3.6" ry="2.2" fill="rgb(66,5,2)"/>
<ellipse cx="534.7" cy="555.8" rx="3.6" ry="2.2" fill="rgb(70,6,3)"/>
<ellipse cx="542.7" cy="555.8" rx="3.6" ry="2.2" fill="rgb(46,4,2)"/>
<ellipse cx="550.7" cy="555.8" rx="3.6" ry="2.2" fill="rgb(31,2,1)"/>
<ellipse cx="558.7" cy="555.8" rx="3.6" ry="2.2" fill="rgb(33,2,1)"/>
<ellipse cx="566.7" cy="555.8" rx="3.6" ry="2.2" fill="rgb(33,2,1)"/>
<ellipse cx="574.7" cy="555.8" rx="3.6" ry="2.2" fill="rgb(29,2,1)"/>
<ellipse cx="582.7" cy="555.8" rx="3.6" ry="2.2" fill="rgb(26,2,1)"/>
<ellipse cx="590.7" cy="555.8" rx="3.6" ry="2.2" fill="rgb(28,2,1)"/>
<ellipse cx="598.7" cy="555.8" rx="3.6" ry="2.2" fill="rgb(20,1,0)"/>
<ellipse cx="606.7" cy="555.8" rx="3.6" ry="2.2" fill="rgb(18,1,0)"/>
<ellipse cx="614.7" cy="555.8" rx="3.6" ry="2.2" fill="rgb(22,2,1)"/>
<ellipse cx="622.7" cy="555.8" rx="3.6" ry="2.2" fill="rgb(20,1,0)"/>
<ellipse cx="426.7" cy="562.4" rx="3.6" ry="2.2" fill="rgb(19,1,0)"/>
<ellipse cx="434.7" cy="562.4" rx="3.6" ry="2.2" fill="rgb(21,1,0)"/>
<ellipse cx="442.7" cy="562.4" rx="3.6" ry="2.2" fill="rgb(24,2,1)"/>
<ellipse cx="450.7" cy="562.4" rx="3.6" ry="2.2" fill="rgb(22,2,1)"/>
<ellipse cx="458.7" cy="562.4" rx="3.6" ry="2.2" fill="rgb(20,1,0)"/>
<ellipse cx="466.7" cy="562.4" rx="3.6" ry="2.2" fill="rgb(28,2,1)"/>
<ellipse cx="474.7" cy="562.4" rx="3.6" ry="2.2" fill="rgb(32,2,1)"/>
<ellipse cx="482.7" cy="562.4" rx="3.6" ry="2.2" fill="rgb(28,2,1)"/>
<ellipse cx="490.7" cy="562.4" rx="3.6" ry="2.2" fill="rgb(25,2,1)"/>
<ellipse cx="498.7" cy="562.4" rx="3.6" ry="2.2" fill="rgb(30,2,1)"/>
<ellipse cx="506.7" cy="562.4" rx="3.6" ry="2.2" fill="rgb(76,6,3)"/>
<ellipse cx="514.7" cy="562.4" rx="3.6" ry="2.2" fill="rgb(43,3,1)"/>
<ellipse cx="522.7" cy="562.4" rx="3.6" ry="2.2" fill="rgb(86,7,3)"/>
<ellipse cx="530.7" cy="562.4" rx="3.6" ry="2.2" fill="rgb(74,6,3)"/>
<ellipse cx="538.7" cy="562.4" rx="3.6" ry="2.2" fill="rgb(51,4,2)"/>
<ellipse cx="546.7" cy="562.4" rx="3.6" ry="2.2" fill="rgb(59,5,2)"/>
<ellipse cx="554.7" cy="562.4" rx="3.6" ry="2.2" fill="rgb(24,2,1)"/>
<ellipse cx="562.7" cy="562.4" rx="3.6" ry="2.2" fill="rgb(22,2,1)"/>
<ellipse cx="570.7" cy="562.4" rx="3.6" ry="2.2" fill="rgb(25,2,1)"/>
<ellipse cx="578.7" cy="562.4" rx="3.6" ry="2.2" fill="rgb(17,1,0)"/>
<ellipse cx="586.7" cy="562.4" rx="3.6" ry="2.2" fill="rgb(27,2,1)"/>
<ellipse cx="594.7" cy="562.4" rx="3.6" ry="2.2" fill="rgb(19,1,0)"/>
<ellipse cx="602.7" cy="562.4" rx="3.6" ry="2.2" fill="rgb(18,1,0)"/>
<ellipse cx="610.7" cy="562.4" rx="3.6" ry="2.2" fill="rgb(17,1,0)"/>
<ellipse cx="618.7" cy="562.4" rx="3.6" ry="2.2" fill="rgb(24,2,1)"/>
<ellipse cx="626.7" cy="562.4" rx="3.6" ry="2.2" fill="rgb(22,2,1)"/>
<ellipse cx="422.7" cy="569.0" rx="3.6" ry="2.2" fill="rgb(24,2,1)"/>
<ellipse cx="430.7" cy="569.0" rx="3.6" ry="2.2" fill="rgb(24,2,1)"/>
<ellipse cx="438.7" cy="569.0" rx="3.6" ry="2.2" fill="rgb(26,2,1)"/>
<ellipse cx="446.7" cy="569.0" rx="3.6" ry="2.2" fill="rgb(28,2,1)"/>
<ellipse cx="454.7" cy="569.0" rx="3.6" ry="2.2" fill="rgb(25,2,1)"/>
<ellipse cx="462.7" cy="569.0" rx="3.6" ry="2.2" fill="rgb(19,1,0)"/>
<ellipse cx="470.7" cy="569.0" rx="3.6" ry="2.2" fill="rgb(23,2,1)"/>
<ellipse cx="478.7" cy="569.0" rx="3.6" ry="2.2" fill="rgb(21,1,0)"/>
<ellipse cx="486.7" cy="569.0" rx="3.6" ry="2.2" fill="rgb(21,1,0)"/>
<ellipse cx="494.7" cy="569.0" rx="3.6" ry="2.2" fill="rgb(40,3,1)"/>
<ellipse cx="502.7" cy="569.0" rx="3.6" ry="2.2" fill="rgb(61,5,2)"/>
<ellipse cx="510.7" cy="569.0" rx="3.6" ry="2.2" fill="rgb(47,4,2)"/>
<ellipse cx="518.7" cy="569.0" rx="3.6" ry="2.2" fill="rgb(59,5,2)"/>
<ellipse cx="526.7" cy="569.0" rx="3.6" ry="2.2" fill="rgb(63,5,2)"/>
<ellipse cx="534.7" cy="569.0" rx="3.6" ry="2.2" fill="rgb(76,6,3)"/>
<ellipse cx="542.7" cy="569.0" rx="3.6" ry="2.2" fill="rgb(55,4,2)"/>
<ellipse cx="550.7" cy="569.0" rx="3.6" ry="2.2" fill="rgb(46,4,2)"/>
<ellipse cx="558.7" cy="569.0" rx="3.6" ry="2.2" fill="rgb(38,3,1)"/>
<ellipse cx="566.7" cy="569.0" rx="3.6" ry="2.2" fill="rgb(25,2,1)"/>
<ellipse cx="574.7" cy="569.0" rx="3.6" ry="2.2" fill="rgb(28,2,1)"/>
<ellipse cx="582.7" cy="569.0" rx="3.6" ry="2.2" fill="rgb(28,2,1)"/>
<ellipse cx="590.7" cy="569.0" rx="3.6" ry="2.2" fill="rgb(17,1,0)"/>
<ellipse cx="598.7" cy="569.0" rx="3.6" ry="2.2" fill="rgb(28,2,1)"/>
<ellipse cx="606.7" cy="569.0" rx="3.6" ry="2.2" fill="rgb(25,2,1)"/>
<ellipse cx="614.7" cy="569.0" rx="3.6" ry="2.2" fill="rgb(18,1,0)"/>
<ellipse cx="622.7" cy="569.0" rx="3.6" ry="2.2" fill="rgb(22,2,1)"/>
<ellipse cx="426.7" cy="575.6" rx="3.6" ry="2.2" fill="rgb(24,2,1)"/>
<ellipse cx="434.7" cy="575.6" rx="3.6" ry="2.2" fill="rgb(27,2,1)"/>
<ellipse cx="442.7" cy="575.6" rx="3.6" ry="2.2" fill="rgb(21,1,0)"/>
<ellipse cx="450.7" cy="575.6" rx="3.6" ry="2.2" fill="rgb(23,2,1)"/>
<ellipse cx="458.7" cy="575.6" rx="3.6" ry="2.2" fill="rgb(27,2,1)"/>
<ellipse cx="466.7" cy="575.6" rx="3.6" ry="2.2" fill="rgb(27,2,1)"/>
<ellipse cx="474.7" cy="575.6" rx="3.6" ry="2.2" fill="rgb(31,2,1)"/>
<ellipse cx="482.7" cy="575.6" rx="3.6" ry="2.2" fill="rgb(28,2,1)"/>
<ellipse cx="490.7" cy="575.6" rx="3.6" ry="2.2" fill="rgb(39,3,1)"/>
<ellipse cx="498.7" cy="575.6" rx="3.6" ry="2.2" fill="rgb(36,3,1)"/>
<ellipse cx="506.7" cy="575.6" rx="3.6" ry="2.2" fill="rgb(69,6,3)"/>
<ellipse cx="514.7" cy="575.6" rx="3.6" ry="2.2" fill="rgb(87,7,3)"/>
<ellipse cx="522.7" cy="575.6" rx="3.6" ry="2.2" fill="rgb(82,7,3)"/>
<ellipse cx="530.7" cy="575.6" rx="3.6" ry="2.2" fill="rgb(83,7,3)"/>
<ellipse cx="538.7" cy="575.6" rx="3.6" ry="2.2" fill="rgb(46,4,2)"/>
<ellipse cx="546.7" cy="575.6" rx="3.6" ry="2.2" fill="rgb(63,5,2)"/>
<ellipse cx="554.7" cy="575.6" rx="3.6" ry="2.2" fill="rgb(50,4,2)"/>
<ellipse cx="562.7" cy="575.6" rx="3.6" ry="2.2" fill="rgb(39,3,1)"/>
<ellipse cx="570.7" cy="575.6" rx="3.6" ry="2.2" fill="rgb(26,2,1)"/>
<ellipse cx="578.7" cy="575.6" rx="3.6" ry="2.2" fill="rgb(27,2,1)"/>
<ellipse cx="586.7" cy="575.6" rx="3.6" ry="2.2" fill="rgb(20,1,0)"/>
<ellipse cx="594.7" cy="575.6" rx="3.6" ry="2.2" fill="rgb(27,2,1)"/>
<ellipse cx="602.7" cy="575.6" rx="3.6" ry="2.2" fill="rgb(27,2,1)"/>
<ellipse cx="610.7" cy="575.6" rx="3.6" ry="2.2" fill="rgb(20,1,0)"/>
<ellipse cx="618.7" cy="575.6" rx="3.6" ry="2.2" fill="rgb(17,1,0)"/>
<ellipse cx="626.7" cy="575.6" rx="3.6" ry="2.2" fill="rgb(22,2,1)"/>
<ellipse cx="422.7" cy="582.2" rx="3.6" ry="2.2" fill="rgb(23,2,1)"/>
<ellipse cx="430.7" cy="582.2" rx="3.6" ry="2.2" fill="rgb(26,2,1)"/>
<ellipse cx="438.7" cy="582.2" rx="3.6" ry="2.2" fill="rgb(22,2,1)"/>
<ellipse cx="446.7" cy="582.2" rx="3.6" ry="2.2" fill="rgb(17,1,0)"/>
<ellipse cx="454.7" cy="582.2" rx="3.6" ry="2.2" fill="rgb(26,2,1)"/>
<ellipse cx="462.7" cy="582.2" rx="3.6" ry="2.2" fill="rgb(17,1,0)"/>
<ellipse cx="470.7" cy="582.2" rx="3.6" ry="2.2" fill="rgb(28,2,1)"/>
<ellipse cx="478.7" cy="582.2" rx="3.6" ry="2.2" fill="rgb(21,1,0)"/>
<ellipse cx="486.7" cy="582.2" rx="3.6" ry="2.2" fill="rgb(28,2,1)"/>
<ellipse cx="494.7" cy="582.2" rx="3.6" ry="2.2" fill="rgb(49,4,2)"/>
<ellipse cx="502.7" cy="582.2" rx="3.6" ry="2.2" fill="rgb(37,3,1)"/>
<ellipse cx="510.7" cy="582.2" rx="3.6" ry="2.2" fill="rgb(46,4,2)"/>
<ellipse cx="518.7" cy="582.2" rx="3.6" ry="2.2" fill="rgb(73,6,3)"/>
<ellipse cx="526.7" cy="582.2" rx="3.6" ry="2.2" fill="rgb(87,7,3)"/>
<ellipse cx="534.7" cy="582.2" rx="3.6" ry="2.2" fill="rgb(84,7,3)"/>
<ellipse cx="542.7" cy="582.2" rx="3.6" ry="2.2" fill="rgb(62,5,2)"/>
<ellipse cx="550.7" cy="582.2" rx="3.6" ry="2.2" fill="rgb(56,4,2)"/>
<ellipse cx="558.7" cy="582.2" rx="3.6" ry="2.2" fill="rgb(33,2,1)"/>
<ellipse cx="566.7" cy="582.2" rx="3.6" ry="2.2" fill="rgb(35,3,1)"/>
<ellipse cx="574.7" cy="582.2" rx="3.6" ry="2.2" fill="rgb(18,1,0)"/>
<ellipse cx="582.7" cy="582.2" rx="3.6" ry="2.2" fill="rgb(19,1,0)"/>
<ellipse cx="590.7" cy="582.2" rx="3.6" ry="2.2" fill="rgb(23,2,1)"/>
<ellipse cx="598.7" cy="582.2" rx="3.6" ry="2.2" fill="rgb(20,1,0)"/>
<ellipse cx="606.7" cy="582.2" rx="3.6" ry="2.2" fill="rgb(25,2,1)"/>
<ellipse cx="614.7" cy="582.2" rx="3.6" ry="2.2" fill="rgb(24,2,1)"/>
<ellipse cx="622.7" cy="582.2" rx="3.6" ry="2.2" fill="rgb(23,2,1)"/>
<ellipse cx="426.7" cy="588.8" rx="3.6" ry="2.2" fill="rgb(27,2,1)"/>
<ellipse cx="434.7" cy="588.8" rx="3.6" ry="2.2" fill="rgb(23,2,1)"/>
<ellipse cx="442.7" cy="588.8" rx="3.6" ry="2.2" fill="rgb(20,1,0)"/>
<ellipse cx="450.7" cy="588.8" rx="3.6" ry="2.2" fill="rgb(21,1,0)"/>
<ellipse cx="458.7" cy="588.8" rx="3.6" ry="2.2" fill="rgb(27,2,1)"/>
<ellipse cx="466.7" cy="588.8" rx="3.6" ry="2.2" fill="rgb(28,2,1)"/>
<ellipse cx="474.7" cy="588.8" rx="3.6" ry="2.2" fill="rgb(21,1,0)"/>
<ellipse cx="482.7" cy="588.8" rx="3.6" ry="2.2" fill="rgb(35,3,1)"/>
<ellipse cx="490.7" cy="588.8" rx="3.6" ry="2.2" fill="rgb(47,4,2)"/>
<ellipse cx="498.7" cy="588.8" rx="3.6" ry="2.2" fill="rgb(47,4,2)"/>
<ellipse cx="506.7" cy="588.8" rx="3.6" ry="2.2" fill="rgb(62,5,2)"/>
<ellipse cx="514.7" cy="588.8" rx="3.6" ry="2.2" fill="rgb(52,4,2)"/>
<ellipse cx="522.7" cy="588.8" rx="3.6" ry="2.2" fill="rgb(76,6,3)"/>
<ellipse cx="530.7" cy="588.8" rx="3.6" ry="2.2" fill="rgb(70,6,3)"/>
<ellipse cx="538.7" cy="588.8" rx="3.6" ry="2.2" fill="rgb(65,5,2)"/>
<ellipse cx="546.7" cy="588.8" rx="3.6" ry="2.2" fill="rgb(30,2,1)"/>
<ellipse cx="554.7" cy="588.8" rx="3.6" ry="2.2" fill="rgb(49,4,2)"/>
<ellipse cx="562.7" cy="588.8" rx="3.6" ry="2.2" fill="rgb(30,2,1)"/>
<ellipse cx="570.7" cy="588.8" rx="3.6" ry="2.2" fill="rgb(24,2,1)"/>
<ellipse cx="578.7" cy="588.8" rx="3.6" ry="2.2" fill="rgb(27,2,1)"/>
<ellipse cx="586.7" cy="588.8" rx="3.6" ry="2.2" fill="rgb(23,2,1)"/>
<ellipse cx="594.7" cy="588.8" rx="3.6" ry="2.2" fill="rgb(22,2,1)"/>
<ellipse cx="602.7" cy="588.8" rx="3.6" ry="2.2" fill="rgb(25,2,1)"/>
<ellipse cx="610.7" cy="588.8" rx="3.6" ry="2.2" fill="rgb(17,1,0)"/>
<ellipse cx="618.7" cy="588.8" rx="3.6" ry="2.2" fill="rgb(23,2,1)"/>
<ellipse cx="626.7" cy="588.8" rx="3.6" ry="2.2" fill="rgb(21,1,0)"/>
<ellipse cx="422.7" cy="595.4" rx="3.6" ry="2.2" fill="rgb(28,2,1)"/>
<ellipse cx="430.7" cy="595.4" rx="3.6" ry="2.2" fill="rgb(28,2,1)"/>
<ellipse cx="438.7" cy="595.4" rx="3.6" ry="2.2" fill="rgb(19,1,0)"/>
<ellipse cx="446.7" cy="595.4" rx="3.6" ry="2.2" fill="rgb(22,2,1)"/>
<ellipse cx="454.7" cy="595.4" rx="3.6" ry="2.2" fill="rgb(18,1,0)"/>
<ellipse cx="462.7" cy="595.4" rx="3.6" ry="2.2" fill="rgb(22,2,1)"/>
<ellipse cx="470.7" cy="595.4" rx="3.6" ry="2.2" fill="rgb(28,2,1)"/>
<ellipse cx="478.7" cy="595.4" rx="3.6" ry="2.2" fill="rgb(33,2,1)"/>
<ellipse cx="486.7" cy="595.4" rx="3.6" ry="2.2" fill="rgb(31,2,1)"/>
<ellipse cx="494.7" cy="595.4" rx="3.6" ry="2.2" fill="rgb(35,3,1)"/>
<ellipse cx="502.7" cy="595.4" rx="3.6" ry="2.2" fill="rgb(40,3,1)"/>
<ellipse cx="510.7" cy="595.4" rx="3.6" ry="2.2" fill="rgb(70,6,3)"/>
<ellipse cx="518.7" cy="595.4" rx="3.6" ry="2.2" fill="rgb(98,8,4)"/>
<ellipse cx="526.7" cy="595.4" rx="3.6" ry="2.2" fill="rgb(50,4,2)"/>
<ellipse cx="534.7" cy="595.4" rx="3.6" ry="2.2" fill="rgb(81,7,3)"/>
<ellipse cx="542.7" cy="595.4" rx="3.6" ry="2.2" fill="rgb(34,3,1)"/>
<ellipse cx="550.7" cy="595.4" rx="3.6" ry="2.2" fill="rgb(32,2,1)"/>
<ellipse cx="558.7" cy="595.4" rx="3.6" ry="2.2" fill="rgb(27,2,1)"/>
<ellipse cx="566.7" cy="595.4" rx="3.6" ry="2.2" fill="rgb(30,2,1)"/>
<ellipse cx="574.7" cy="595.4" rx="3.6" ry="2.2" fill="rgb(22,2,1)"/>
<ellipse cx="582.7" cy="595.4" rx="3.6" ry="2.2" fill="rgb(21,1,0)"/>
<ellipse cx="590.7" cy="595.4" rx="3.6" ry="2.2" fill="rgb(24,2,1)"/>
<ellipse cx="598.7" cy="595.4" rx="3.6" ry="2.2" fill="rgb(17,1,0)"/>
<ellipse cx="606.7" cy="595.4" rx="3.6" ry="2.2" fill="rgb(25,2,1)"/>
<ellipse cx="614.7" cy="595.4" rx="3.6" ry="2.2" fill="rgb(18,1,0)"/>
<ellipse cx="622.7" cy="595.4" rx="3.6" ry="2.2" fill="rgb(22,2,1)"/>
<ellipse cx="426.7" cy="602.0" rx="3.6" ry="2.2" fill="rgb(19,1,0)"/>
<ellipse cx="434.7" cy="602.0" rx="3.6" ry="2.2" fill="rgb(19,1,0)"/>
<ellipse cx="442.7" cy="602.0" rx="3.6" ry="2.2" fill="rgb(23,2,1)"/>
<ellipse cx="450.7" cy="602.0" rx="3.6" ry="2.2" fill="rgb(22,2,1)"/>
<ellipse cx="458.7" cy="602.0" rx="3.6" ry="2.2" fill="rgb(21,1,0)"/>
<ellipse cx="466.7" cy="602.0" rx="3.6" ry="2.2" fill="rgb(22,2,1)"/>
<ellipse cx="474.7" cy="602.0" rx="3.6" ry="2.2" fill="rgb(25,2,1)"/>
<ellipse cx="482.7" cy="602.0" rx="3.6" ry="2.2" fill="rgb(22,2,1)"/>
<ellipse cx="490.7" cy="602.0" rx="3.6" ry="2.2" fill="rgb(28,2,1)"/>
<ellipse cx="498.7" cy="602.0" rx="3.6" ry="2.2" fill="rgb(51,4,2)"/>
<ellipse cx="506.7" cy="602.0" rx="3.6" ry="2.2" fill="rgb(65,5,2)"/>
<ellipse cx="514.7" cy="602.0" rx="3.6" ry="2.2" fill="rgb(71,6,3)"/>
<ellipse cx="522.7" cy="602.0" rx="3.6" ry="2.2" fill="rgb(95,8,4)"/>
<ellipse cx="530.7" cy="602.0" rx="3.6" ry="2.2" fill="rgb(77,6,3)"/>
<ellipse cx="538.7" cy="602.0" rx="3.6" ry="2.2" fill="rgb(78,6,3)"/>
<ellipse cx="546.7" cy="602.0" rx="3.6" ry="2.2" fill="rgb(38,3,1)"/>
<ellipse cx="554.7" cy="602.0" rx="3.6" ry="2.2" fill="rgb(43,3,1)"/>
<ellipse cx="562.7" cy="602.0" rx="3.6" ry="2.2" fill="rgb(35,3,1)"/>
<ellipse cx="570.7" cy="602.0" rx="3.6" ry="2.2" fill="rgb(31,2,1)"/>
<ellipse cx="578.7" cy="602.0" rx="3.6" ry="2.2" fill="rgb(21,1,0)"/>
<ellipse cx="586.7" cy="602.0" rx="3.6" ry="2.2" fill="rgb(20,1,0)"/>
<ellipse cx="594.7" cy="602.0" rx="3.6" ry="2.2" fill="rgb(28,2,1)"/>
<ellipse cx="602.7" cy="602.0" rx="3.6" ry="2.2" fill="rgb(19,1,0)"/>
<ellipse cx="610.7" cy="602.0" rx="3.6" ry="2.2" fill="rgb(28,2,1)"/>
<ellipse cx="618.7" cy="602.0" rx="3.6" ry="2.2" fill="rgb(27,2,1)"/>
<ellipse cx="626.7" cy="602.0" rx="3.6" ry="2.2" fill="rgb(18,1,0)"/>
<ellipse cx="422.7" cy="608.6" rx="3.6" ry="2.2" fill="rgb(19,1,0)"/>
<ellipse cx="430.7" cy="608.6" rx="3.6" ry="2.2" fill="rgb(25,2,1)"/>
<ellipse cx="438.7" cy="608.6" rx="3.6" ry="2.2" fill="rgb(19,1,0)"/>
<ellipse cx="446.7" cy="608.6" rx="3.6" ry="2.2" fill="rgb(17,1,0)"/>
<ellipse cx="454.7" cy="608.6" rx="3.6" ry="2.2" fill="rgb(27,2,1)"/>
<ellipse cx="462.7" cy="608.6" rx="3.6" ry="2.2" fill="rgb(22,2,1)"/>
<ellipse cx="470.7" cy="608.6" rx="3.6" ry="2.2" fill="rgb(28,2,1)"/>
<ellipse cx="478.7" cy="608.6" rx="3.6" ry="2.2" fill="rgb(20,1,0)"/>
<ellipse cx="486.7" cy="608.6" rx="3.6" ry="2.2" fill="rgb(30,2,1)"/>
<ellipse cx="494.7" cy="608.6" rx="3.6" ry="2.2" fill="rgb(46,4,2)"/>
<ellipse cx="502.7" cy="608.6" rx="3.6" ry="2.2" fill="rgb(32,2,1)"/>
<ellipse cx="510.7" cy="608.6" rx="3.6" ry="2.2" fill="rgb(48,4,2)"/>
<ellipse cx="518.7" cy="608.6" rx="3.6" ry="2.2" fill="rgb(83,7,3)"/>
<ellipse cx="526.7" cy="608.6" rx="3.6" ry="2.2" fill="rgb(98,8,4)"/>
<ellipse cx="534.7" cy="608.6" rx="3.6" ry="2.2" fill="rgb(91,7,3)"/>
<ellipse cx="542.7" cy="608.6" rx="3.6" ry="2.2" fill="rgb(38,3,1)"/>
<ellipse cx="550.7" cy="608.6" rx="3.6" ry="2.2" fill="rgb(42,3,1)"/>
<ellipse cx="558.7" cy="608.6" rx="3.6" ry="2.2" fill="rgb(38,3,1)"/>
<ellipse cx="566.7" cy="608.6" rx="3.6" ry="2.2" fill="rgb(27,2,1)"/>
<ellipse cx="574.7" cy="608.6" rx="3.6" ry="2.2" fill="rgb(27,2,1)"/>
<ellipse cx="582.7" cy="608.6" rx="3.6" ry="2.2" fill="rgb(19,1,0)"/>
<ellipse cx="590.7" cy="608.6" rx="3.6" ry="2.2" fill="rgb(17,1,0)"/>
<ellipse cx="598.7" cy="608.6" rx="3.6" ry="2.2" fill="rgb(17,1,0)"/>
<ellipse cx="606.7" cy="608.6" rx="3.6" ry="2.2" fill="rgb(17,1,0)"/>
<ellipse cx="614.7" cy="608.6" rx="3.6" ry="2.2" fill="rgb(23,2,1)"/>
<ellipse cx="622.7" cy="608.6" rx="3.6" ry="2.2" fill="rgb(23,2,1)"/>
<ellipse cx="426.7" cy="615.2" rx="3.6" ry="2.2" fill="rgb(23,2,1)"/>
<ellipse cx="434.7" cy="615.2" rx="3.6" ry="2.2" fill="rgb(18,1,0)"/>
<ellipse cx="442.7" cy="615.2" rx="3.6" ry="2.2" fill="rgb(18,1,0)"/>
<ellipse cx="450.7" cy="615.2" rx="3.6" ry="2.2" fill="rgb(19,1,0)"/>
<ellipse cx="458.7" cy="615.2" rx="3.6" ry="2.2" fill="rgb(27,2,1)"/>
<ellipse cx="466.7" cy="615.2" rx="3.6" ry="2.2" fill="rgb(30,2,1)"/>
<ellipse cx="474.7" cy="615.2" rx="3.6" ry="2.2" fill="rgb(31,2,1)"/>
<ellipse cx="482.7" cy="615.2" rx="3.6" ry="2.2" fill="rgb(21,1,0)"/>
<ellipse cx="490.7" cy="615.2" rx="3.6" ry="2.2" fill="rgb(25,2,1)"/>
<ellipse cx="498.7" cy="615.2" rx="3.6" ry="2.2" fill="rgb(62,5,2)"/>
<ellipse cx="506.7" cy="615.2" rx="3.6" ry="2.2" fill="rgb(57,4,2)"/>
<ellipse cx="514.7" cy="615.2" rx="3.6" ry="2.2" fill="rgb(84,7,3)"/>
<ellipse cx="522.7" cy="615.2" rx="3.6" ry="2.2" fill="rgb(63,5,2)"/>
<ellipse cx="530.7" cy="615.2" rx="3.6" ry="2.2" fill="rgb(68,5,2)"/>
<ellipse cx="538.7" cy="615.2" rx="3.6" ry="2.2" fill="rgb(61,5,2)"/>
<ellipse cx="546.7" cy="615.2" rx="3.6" ry="2.2" fill="rgb(45,4,2)"/>
<ellipse cx="554.7" cy="615.2" rx="3.6" ry="2.2" fill="rgb(40,3,1)"/>
<ellipse cx="562.7" cy="615.2" rx="3.6" ry="2.2" fill="rgb(20,1,0)"/>
<ellipse cx="570.7" cy="615.2" rx="3.6" ry="2.2" fill="rgb(28,2,1)"/>
<ellipse cx="578.7" cy="615.2" rx="3.6" ry="2.2" fill="rgb(28,2,1)"/>
<ellipse cx="586.7" cy="615.2" rx="3.6" ry="2.2" fill="rgb(19,1,0)"/>
<ellipse cx="594.7" cy="615.2" rx="3.6" ry="2.2" fill="rgb(22,2,1)"/>
<ellipse cx="602.7" cy="615.2" rx="3.6" ry="2.2" fill="rgb(25,2,1)"/>
<ellipse cx="610.7" cy="615.2" rx="3.6" ry="2.2" fill="rgb(21,1,0)"/>
<ellipse cx="618.7" cy="615.2" rx="3.6" ry="2.2" fill="rgb(19,1,0)"/>
<ellipse cx="626.7" cy="615.2" rx="3.6" ry="2.2" fill="rgb(18,1,0)"/>
<ellipse cx="422.7" cy="621.8" rx="3.6" ry="2.2" fill="rgb(22,2,1)"/>
<ellipse cx="430.7" cy="621.8" rx="3.6" ry="2.2" fill="rgb(16,1,0)"/>
<ellipse cx="438.7" cy="621.8" rx="3.6" ry="2.2" fill="rgb(27,2,1)"/>
<ellipse cx="446.7" cy="621.8" rx="3.6" ry="2.2" fill="rgb(26,2,1)"/>
<ellipse cx="454.7" cy="621.8" rx="3.6" ry="2.2" fill="rgb(25,2,1)"/>
<ellipse cx="462.7" cy="621.8" rx="3.6" ry="2.2" fill="rgb(27,2,1)"/>
<ellipse cx="470.7" cy="621.8" rx="3.6" ry="2.2" fill="rgb(26,2,1)"/>
<ellipse cx="478.7" cy="621.8" rx="3.6" ry="2.2" fill="rgb(25,2,1)"/>
<ellipse cx="486.7" cy="621.8" rx="3.6" ry="2.2" fill="rgb(34,3,1)"/>
<ellipse cx="494.7" cy="621.8" rx="3.6" ry="2.2" fill="rgb(41,3,1)"/>
<ellipse cx="502.7" cy="621.8" rx="3.6" ry="2.2" fill="rgb(72,6,3)"/>
<ellipse cx="510.7" cy="621.8" rx="3.6" ry="2.2" fill="rgb(80,6,3)"/>
<ellipse cx="518.7" cy="621.8" rx="3.6" ry="2.2" fill="rgb(58,5,2)"/>
<ellipse cx="526.7" cy="621.8" rx="3.6" ry="2.2" fill="rgb(98,8,4)"/>
<ellipse cx="534.7" cy="621.8" rx="3.6" ry="2.2" fill="rgb(79,6,3)"/>
<ellipse cx="542.7" cy="621.8" rx="3.6" ry="2.2" fill="rgb(66,5,2)"/>
<ellipse cx="550.7" cy="621.8" rx="3.6" ry="2.2" fill="rgb(52,4,2)"/>
<ellipse cx="558.7" cy="621.8" rx="3.6" ry="2.2" fill="rgb(31,2,1)"/>
<ellipse cx="566.7" cy="621.8" rx="3.6" ry="2.2" fill="rgb(34,3,1)"/>
<ellipse cx="574.7" cy="621.8" rx="3.6" ry="2.2" fill="rgb(29,2,1)"/>
<ellipse cx="582.7" cy="621.8" rx="3.6" ry="2.2" fill="rgb(25,2,1)"/>
<ellipse cx="590.7" cy="621.8" rx="3.6" ry="2.2" fill="rgb(26,2,1)"/>
<ellipse cx="598.7" cy="621.8" rx="3.6" ry="2.2" fill="rgb(26,2,1)"/>
<ellipse cx="606.7" cy="621.8" rx="3.6" ry="2.2" fill="rgb(21,1,0)"/>
<ellipse cx="614.7" cy="621.8" rx="3.6" ry="2.2" fill="rgb(25,2,1)"/>
<ellipse cx="622.7" cy="621.8" rx="3.6" ry="2.2" fill="rgb(17,1,0)"/>
<ellipse cx="426.7" cy="628.4" rx="3.6" ry="2.2" fill="rgb(20,1,0)"/>
<ellipse cx="434.7" cy="628.4" rx="3.6" ry="2.2" fill="rgb(22,2,1)"/>
<ellipse cx="442.7" cy="628.4" rx="3.6" ry="2.2" fill="rgb(16,1,0)"/>
<ellipse cx="450.7" cy="628.4" rx="3.6" ry="2.2" fill="rgb(21,1,0)"/>
<ellipse cx="458.7" cy="628.4" rx="3.6" ry="2.2" fill="rgb(24,2,1)"/>
<ellipse cx="466.7" cy="628.4" rx="3.6" ry="2.2" fill="rgb(25,2,1)"/>
<ellipse cx="474.7" cy="628.4" rx="3.6" ry="2.2" fill="rgb(21,1,0)"/>
<ellipse cx="482.7" cy="628.4" rx="3.6" ry="2.2" fill="rgb(37,3,1)"/>
<ellipse cx="490.7" cy="628.4" rx="3.6" ry="2.2" fill="rgb(40,3,1)"/>
<ellipse cx="498.7" cy="628.4" rx="3.6" ry="2.2" fill="rgb(40,3,1)"/>
<ellipse cx="506.7" cy="628.4" rx="3.6" ry="2.2" fill="rgb(66,5,2)"/>
<ellipse cx="514.7" cy="628.4" rx="3.6" ry="2.2" fill="rgb(73,6,3)"/>
<ellipse cx="522.7" cy="628.4" rx="3.6" ry="2.2" fill="rgb(76,6,3)"/>
<ellipse cx="530.7" cy="628.4" rx="3.6" ry="2.2" fill="rgb(64,5,2)"/>
<ellipse cx="538.7" cy="628.4" rx="3.6" ry="2.2" fill="rgb(85,7,3)"/>
<ellipse cx="546.7" cy="628.4" rx="3.6" ry="2.2" fill="rgb(53,4,2)"/>
<ellipse cx="554.7" cy="628.4" rx="3.6" ry="2.2" fill="rgb(42,3,1)"/>
<ellipse cx="562.7" cy="628.4" rx="3.6" ry="2.2" fill="rgb(34,3,1)"/>
<ellipse cx="570.7" cy="628.4" rx="3.6" ry="2.2" fill="rgb(33,2,1)"/>
<ellipse cx="578.7" cy="628.4" rx="3.6" ry="2.2" fill="rgb(17,1,0)"/>
<ellipse cx="586.7" cy="628.4" rx="3.6" ry="2.2" fill="rgb(24,2,1)"/>
<ellipse cx="594.7" cy="628.4" rx="3.6" ry="2.2" fill="rgb(25,2,1)"/>
<ellipse cx="602.7" cy="628.4" rx="3.6" ry="2.2" fill="rgb(19,1,0)"/>
<ellipse cx="610.7" cy="628.4" rx="3.6" ry="2.2" fill="rgb(21,1,0)"/>
<ellipse cx="618.7" cy="628.4" rx="3.6" ry="2.2" fill="rgb(17,1,0)"/>
<ellipse cx="626.7" cy="628.4" rx="3.6" ry="2.2" fill="rgb(19,1,0)"/>
<ellipse cx="422.7" cy="635.0" rx="3.6" ry="2.2" fill="rgb(21,1,0)"/>
<ellipse cx="430.7" cy="635.0" rx="3.6" ry="2.2" fill="rgb(17,1,0)"/>
<ellipse cx="438.7" cy="635.0" rx="3.6" ry="2.2" fill="rgb(19,1,0)"/>
<ellipse cx="446.7" cy="635.0" rx="3.6" ry="2.2" fill="rgb(27,2,1)"/>
<ellipse cx="454.7" cy="635.0" rx="3.6" ry="2.2" fill="rgb(23,2,1)"/>
<ellipse cx="462.7" cy="635.0" rx="3.6" ry="2.2" fill="rgb(23,2,1)"/>
<ellipse cx="470.7" cy="635.0" rx="3.6" ry="2.2" fill="rgb(30,2,1)"/>
<ellipse cx="478.7" cy="635.0" rx="3.6" ry="2.2" fill="rgb(27,2,1)"/>
<ellipse cx="486.7" cy="635.0" rx="3.6" ry="2.2" fill="rgb(42,3,1)"/>
<ellipse cx="494.7" cy="635.0" rx="3.6" ry="2.2" fill="rgb(45,3,1)"/>
<ellipse cx="502.7" cy="635.0" rx="3.6" ry="2.2" fill="rgb(65,5,2)"/>
<ellipse cx="510.7" cy="635.0" rx="3.6" ry="2.2" fill="rgb(42,3,1)"/>
<ellipse cx="518.7" cy="635.0" rx="3.6" ry="2.2" fill="rgb(78,6,3)"/>
<ellipse cx="526.7" cy="635.0" rx="3.6" ry="2.2" fill="rgb(89,7,3)"/>
<ellipse cx="534.7" cy="635.0" rx="3.6" ry="2.2" fill="rgb(41,3,1)"/>
<ellipse cx="542.7" cy="635.0" rx="3.6" ry="2.2" fill="rgb(73,6,3)"/>
<ellipse cx="550.7" cy="635.0" rx="3.6" ry="2.2" fill="rgb(31,2,1)"/>
<ellipse cx="558.7" cy="635.0" rx="3.6" ry="2.2" fill="rgb(32,2,1)"/>
<ellipse cx="566.7" cy="635.0" rx="3.6" ry="2.2" fill="rgb(21,2,1)"/>
<ellipse cx="574.7" cy="635.0" rx="3.6" ry="2.2" fill="rgb(24,2,1)"/>
<ellipse cx="582.7" cy="635.0" rx="3.6" ry="2.2" fill="rgb(24,2,1)"/>
<ellipse cx="590.7" cy="635.0" rx="3.6" ry="2.2" fill="rgb(17,1,0)"/>
<ellipse cx="598.7" cy="635.0" rx="3.6" ry="2.2" fill="rgb(28,2,1)"/>
<ellipse cx="606.7" cy="635.0" rx="3.6" ry="2.2" fill="rgb(21,1,0)"/>
<ellipse cx="614.7" cy="635.0" rx="3.6" ry="2.2" fill="rgb(23,2,1)"/>
<ellipse cx="622.7" cy="635.0" rx="3.6" ry="2.2" fill="rgb(24,2,1)"/>
<ellipse cx="426.7" cy="641.6" rx="3.6" ry="2.2" fill="rgb(21,1,0)"/>
<ellipse cx="434.7" cy="641.6" rx="3.6" ry="2.2" fill="rgb(20,1,0)"/>
<ellipse cx="442.7" cy="641.6" rx="3.6" ry="2.2" fill="rgb(24,2,1)"/>
<ellipse cx="450.7" cy="641.6" rx="3.6" ry="2.2" fill="rgb(23,2,1)"/>
<ellipse cx="458.7" cy="641.6" rx="3.6" ry="2.2" fill="rgb(20,1,0)"/>
<ellipse cx="466.7" cy="641.6" rx="3.6" ry="2.2" fill="rgb(26,2,1)"/>
<ellipse cx="474.7" cy="641.6" rx="3.6" ry="2.2" fill="rgb(22,2,1)"/>
<ellipse cx="482.7" cy="641.6" rx="3.6" ry="2.2" fill="rgb(20,1,0)"/>
<ellipse cx="490.7" cy="641.6" rx="3.6" ry="2.2" fill="rgb(29,2,1)"/>
<ellipse cx="498.7" cy="641.6" rx="3.6" ry="2.2" fill="rgb(30,2,1)"/>
<ellipse cx="506.7" cy="641.6" rx="3.6" ry="2.2" fill="rgb(42,3,1)"/>
<ellipse cx="514.7" cy="641.6" rx="3.6" ry="2.2" fill="rgb(84,7,3)"/>
<ellipse cx="522.7" cy="641.6" rx="3.6" ry="2.2" fill="rgb(67,5,2)"/>
<ellipse cx="530.7" cy="641.6" rx="3.6" ry="2.2" fill="rgb(93,8,4)"/>
<ellipse cx="538.7" cy="641.6" rx="3.6" ry="2.2" fill="rgb(72,6,3)"/>
<ellipse cx="546.7" cy="641.6" rx="3.6" ry="2.2" fill="rgb(31,2,1)"/>
<ellipse cx="554.7" cy="641.6" rx="3.6" ry="2.2" fill="rgb(50,4,2)"/>
<ellipse cx="562.7" cy="641.6" rx="3.6" ry="2.2" fill="rgb(38,3,1)"/>
<ellipse cx="570.7" cy="641.6" rx="3.6" ry="2.2" fill="rgb(19,1,0)"/>
<ellipse cx="578.7" cy="641.6" rx="3.6" ry="2.2" fill="rgb(29,2,1)"/>
<ellipse cx="586.7" cy="641.6" rx="3.6" ry="2.2" fill="rgb(22,2,1)"/>
<ellipse cx="594.7" cy="641.6" rx="3.6" ry="2.2" fill="rgb(22,2,1)"/>
<ellipse cx="602.7" cy="641.6" rx="3.6" ry="2.2" fill="rgb(28,2,1)"/>
<ellipse cx="610.7" cy="641.6" rx="3.6" ry="2.2" fill="rgb(19,1,0)"/>
<ellipse cx="618.7" cy="641.6" rx="3.6" ry="2.2" fill="rgb(23,2,1)"/>
<ellipse cx="626.7" cy="641.6" rx="3.6" ry="2.2" fill="rgb(28,2,1)"/>
<ellipse cx="422.7" cy="648.2" rx="3.6" ry="2.2" fill="rgb(25,2,1)"/>
<ellipse cx="430.7" cy="648.2" rx="3.6" ry="2.2" fill="rgb(22,2,1)"/>
<ellipse cx="438.7" cy="648.2" rx="3.6" ry="2.2" fill="rgb(28,2,1)"/>
<ellipse cx="446.7" cy="648.2" rx="3.6" ry="2.2" fill="rgb(26,2,1)"/>
<ellipse cx="454.7" cy="648.2" rx="3.6" ry="2.2" fill="rgb(24,2,1)"/>
<ellipse cx="462.7" cy="648.2" rx="3.6" ry="2.2" fill="rgb(18,1,0)"/>
<ellipse cx="470.7" cy="648.2" rx="3.6" ry="2.2" fill="rgb(26,2,1)"/>
<ellipse cx="478.7" cy="648.2" rx="3.6" ry="2.2" fill="rgb(26,2,1)"/>
<ellipse cx="486.7" cy="648.2" rx="3.6" ry="2.2" fill="rgb(25,2,1)"/>
<ellipse cx="494.7" cy="648.2" rx="3.6" ry="2.2" fill="rgb(27,2,1)"/>
<ellipse cx="502.7" cy="648.2" rx="3.6" ry="2.2" fill="rgb(53,4,2)"/>
<ellipse cx="510.7" cy="648.2" rx="3.6" ry="2.2" fill="rgb(44,3,1)"/>
<ellipse cx="518.7" cy="648.2" rx="3.6" ry="2.2" fill="rgb(69,5,2)"/>
<ellipse cx="526.7" cy="648.2" rx="3.6" ry="2.2" fill="rgb(83,7,3)"/>
<ellipse cx="534.7" cy="648.2" rx="3.6" ry="2.2" fill="rgb(63,5,2)"/>
<ellipse cx="542.7" cy="648.2" rx="3.6" ry="2.2" fill="rgb(44,3,1)"/>
<ellipse cx="550.7" cy="648.2" rx="3.6" ry="2.2" fill="rgb(45,3,1)"/>
<ellipse cx="558.7" cy="648.2" rx="3.6" ry="2.2" fill="rgb(31,2,1)"/>
<ellipse cx="566.7" cy="648.2" rx="3.6" ry="2.2" fill="rgb(32,2,1)"/>
<ellipse cx="574.7" cy="648.2" rx="3.6" ry="2.2" fill="rgb(25,2,1)"/>
<ellipse cx="582.7" cy="648.2" rx="3.6" ry="2.2" fill="rgb(29,2,1)"/>
<ellipse cx="590.7" cy="648.2" rx="3.6" ry="2.2" fill="rgb(28,2,1)"/>
<ellipse cx="598.7" cy="648.2" rx="3.6" ry="2.2" fill="rgb(25,2,1)"/>
<ellipse cx="606.7" cy="648.2" rx="3.6" ry="2.2" fill="rgb(19,1,0)"/>
<ellipse cx="614.7" cy="648.2" rx="3.6" ry="2.2" fill="rgb(18,1,0)"/>
<ellipse cx="622.7" cy="648.2" rx="3.6" ry="2.2" fill="rgb(27,2,1)"/>
<ellipse cx="426.7" cy="654.8" rx="3.6" ry="2.2" fill="rgb(26,2,1)"/>
<ellipse cx="434.7" cy="654.8" rx="3.6" ry="2.2" fill="rgb(24,2,1)"/>
<ellipse cx="442.7" cy="654.8" rx="3.6" ry="2.2" fill="rgb(21,1,0)"/>
<ellipse cx="450.7" cy="654.8" rx="3.6" ry="2.2" fill="rgb(20,1,0)"/>
<ellipse cx="458.7" cy="654.8" rx="3.6" ry="2.2" fill="rgb(25,2,1)"/>
<ellipse cx="466.7" cy="654.8" rx="3.6" ry="2.2" fill="rgb(24,2,1)"/>
<ellipse cx="474.7" cy="654.8" rx="3.6" ry="2.2" fill="rgb(26,2,1)"/>
<ellipse cx="482.7" cy="654.8" rx="3.6" ry="2.2" fill="rgb(31,2,1)"/>
<ellipse cx="490.7" cy="654.8" rx="3.6" ry="2.2" fill="rgb(42,3,1)"/>
<ellipse cx="498.7" cy="654.8" rx="3.6" ry="2.2" fill="rgb(35,3,1)"/>
<ellipse cx="506.7" cy="654.8" rx="3.6" ry="2.2" fill="rgb(47,4,2)"/>
<ellipse cx="514.7" cy="654.8" rx="3.6" ry="2.2" fill="rgb(96,8,4)"/>
<ellipse cx="522.7" cy="654.8" rx="3.6" ry="2.2" fill="rgb(99,8,4)"/>
<ellipse cx="530.7" cy="654.8" rx="3.6" ry="2.2" fill="rgb(92,7,3)"/>
<ellipse cx="538.7" cy="654.8" rx="3.6" ry="2.2" fill="rgb(38,3,1)"/>
<ellipse cx="546.7" cy="654.8" rx="3.6" ry="2.2" fill="rgb(32,2,1)"/>
<ellipse cx="554.7" cy="654.8" rx="3.6" ry="2.2" fill="rgb(31,2,1)"/>
<ellipse cx="562.7" cy="654.8" rx="3.6" ry="2.2" fill="rgb(28,2,1)"/>
<ellipse cx="570.7" cy="654.8" rx="3.6" ry="2.2" fill="rgb(27,2,1)"/>
<ellipse cx="578.7" cy="654.8" rx="3.6" ry="2.2" fill="rgb(18,1,0)"/>
<ellipse cx="586.7" cy="654.8" rx="3.6" ry="2.2" fill="rgb(23,2,1)"/>
<ellipse cx="594.7" cy="654.8" rx="3.6" ry="2.2" fill="rgb(17,1,0)"/>
<ellipse cx="602.7" cy="654.8" rx="3.6" ry="2.2" fill="rgb(17,1,0)"/>
<ellipse cx="610.7" cy="654.8" rx="3.6" ry="2.2" fill="rgb(25,2,1)"/>
<ellipse cx="618.7" cy="654.8" rx="3.6" ry="2.2" fill="rgb(23,2,1)"/>
<ellipse cx="626.7" cy="654.8" rx="3.6" ry="2.2" fill="rgb(24,2,1)"/>
<ellipse cx="422.7" cy="661.4" rx="3.6" ry="2.2" fill="rgb(21,1,0)"/>
<ellipse cx="430.7" cy="661.4" rx="3.6" ry="2.2" fill="rgb(22,2,1)"/>
<ellipse cx="438.7" cy="661.4" rx="3.6" ry="2.2" fill="rgb(19,1,0)"/>
<ellipse cx="446.7" cy="661.4" rx="3.6" ry="2.2" fill="rgb(20,1,0)"/>
<ellipse cx="454.7" cy="661.4" rx="3.6" ry="2.2" fill="rgb(26,2,1)"/>
<ellipse cx="462.7" cy="661.4" rx="3.6" ry="2.2" fill="rgb(27,2,1)"/>
<ellipse cx="470.7" cy="661.4" rx="3.6" ry="2.2" fill="rgb(18,1,0)"/>
<ellipse cx="478.7" cy="661.4" rx="3.6" ry="2.2" fill="rgb(20,1,0)"/>
<ellipse cx="486.7" cy="661.4" rx="3.6" ry="2.2" fill="rgb(38,3,1)"/>
<ellipse cx="494.7" cy="661.4" rx="3.6" ry="2.2" fill="rgb(44,3,1)"/>
<ellipse cx="502.7" cy="661.4" rx="3.6" ry="2.2" fill="rgb(63,5,2)"/>
<ellipse cx="510.7" cy="661.4" rx="3.6" ry="2.2" fill="rgb(49,4,2)"/>
<ellipse cx="518.7" cy="661.4" rx="3.6" ry="2.2" fill="rgb(68,5,2)"/>
<ellipse cx="526.7" cy="661.4" rx="3.6" ry="2.2" fill="rgb(58,5,2)"/>
<ellipse cx="534.7" cy="661.4" rx="3.6" ry="2.2" fill="rgb(83,7,3)"/>
<ellipse cx="542.7" cy="661.4" rx="3.6" ry="2.2" fill="rgb(48,4,2)"/>
<ellipse cx="550.7" cy="661.4" rx="3.6" ry="2.2" fill="rgb(47,4,2)"/>
<ellipse cx="558.7" cy="661.4" rx="3.6" ry="2.2" fill="rgb(44,3,1)"/>
<ellipse cx="566.7" cy="661.4" rx="3.6" ry="2.2" fill="rgb(24,2,1)"/>
<ellipse cx="574.7" cy="661.4" rx="3.6" ry="2.2" fill="rgb(25,2,1)"/>
<ellipse cx="582.7" cy="661.4" rx="3.6" ry="2.2" fill="rgb(26,2,1)"/>
<ellipse cx="590.7" cy="661.4" rx="3.6" ry="2.2" fill="rgb(28,2,1)"/>
<ellipse cx="598.7" cy="661.4" rx="3.6" ry="2.2" fill="rgb(21,2,1)"/>
<ellipse cx="606.7" cy="661.4" rx="3.6" ry="2.2" fill="rgb(21,1,0)"/>
<ellipse cx="614.7" cy="661.4" rx="3.6" ry="2.2" fill="rgb(17,1,0)"/>
<ellipse cx="622.7" cy="661.4" rx="3.6" ry="2.2" fill="rgb(27,2,1)"/>
<ellipse cx="426.7" cy="668.0" rx="3.6" ry="2.2" fill="rgb(17,1,0)"/>
<ellipse cx="434.7" cy="668.0" rx="3.6" ry="2.2" fill="rgb(17,1,0)"/>
<ellipse cx="442.7" cy="668.0" rx="3.6" ry="2.2" fill="rgb(23,2,1)"/>
<ellipse cx="450.7" cy="668.0" rx="3.6" ry="2.2" fill="rgb(22,2,1)"/>
<ellipse cx="458.7" cy="668.0" rx="3.6" ry="2.2" fill="rgb(25,2,1)"/>
<ellipse cx="466.7" cy="668.0" rx="3.6" ry="2.2" fill="rgb(21,1,0)"/>
<ellipse cx="474.7" cy="668.0" rx="3.6" ry="2.2" fill="rgb(29,2,1)"/>
<ellipse cx="482.7" cy="668.0" rx="3.6" ry="2.2" fill="rgb(21,1,0)"/>
<ellipse cx="490.7" cy="668.0" rx="3.6" ry="2.2" fill="rgb(28,2,1)"/>
<ellipse cx="498.7" cy="668.0" rx="3.6" ry="2.2" fill="rgb(52,4,2)"/>
<ellipse cx="506.7" cy="668.0" rx="3.6" ry="2.2" fill="rgb(39,3,1)"/>
<ellipse cx="514.7" cy="668.0" rx="3.6" ry="2.2" fill="rgb(58,5,2)"/>
<ellipse cx="522.7" cy="668.0" rx="3.6" ry="2.2" fill="rgb(87,7,3)"/>
<ellipse cx="530.7" cy="668.0" rx="3.6" ry="2.2" fill="rgb(81,7,3)"/>
<ellipse cx="538.7" cy="668.0" rx="3.6" ry="2.2" fill="rgb(50,4,2)"/>
<ellipse cx="546.7" cy="668.0" rx="3.6" ry="2.2" fill="rgb(35,3,1)"/>
<ellipse cx="554.7" cy="668.0" rx="3.6" ry="2.2" fill="rgb(33,2,1)"/>
<ellipse cx="562.7" cy="668.0" rx="3.6" ry="2.2" fill="rgb(34,3,1)"/>
<ellipse cx="570.7" cy="668.0" rx="3.6" ry="2.2" fill="rgb(23,2,1)"/>
<ellipse cx="578.7" cy="668.0" rx="3.6" ry="2.2" fill="rgb(18,1,0)"/>
<ellipse cx="586.7" cy="668.0" rx="3.6" ry="2.2" fill="rgb(25,2,1)"/>
<ellipse cx="594.7" cy="668.0" rx="3.6" ry="2.2" fill="rgb(23,2,1)"/>
<ellipse cx="602.7" cy="668.0" rx="3.6" ry="2.2" fill="rgb(28,2,1)"/>
<ellipse cx="610.7" cy="668.0" rx="3.6" ry="2.2" fill="rgb(28,2,1)"/>
<ellipse cx="618.7" cy="668.0" rx="3.6" ry="2.2" fill="rgb(27,2,1)"/>
<ellipse cx="626.7" cy="668.0" rx="3.6" ry="2.2" fill="rgb(22,2,1)"/>
<ellipse cx="422.7" cy="674.6" rx="3.6" ry="2.2" fill="rgb(26,2,1)"/>
<ellipse cx="430.7" cy="674.6" rx="3.6" ry="2.2" fill="rgb(20,1,0)"/>
<ellipse cx="438.7" cy="674.6" rx="3.6" ry="2.2" fill="rgb(20,1,0)"/>
<ellipse cx="446.7" cy="674.6" rx="3.6" ry="2.2" fill="rgb(21,1,0)"/>
<ellipse cx="454.7" cy="674.6" rx="3.6" ry="2.2" fill="rgb(28,2,1)"/>
<ellipse cx="462.7" cy="674.6" rx="3.6" ry="2.2" fill="rgb(28,2,1)"/>
<ellipse cx="470.7" cy="674.6" rx="3.6" ry="2.2" fill="rgb(20,1,0)"/>
<ellipse cx="478.7" cy="674.6" rx="3.6" ry="2.2" fill="rgb(24,2,1)"/>
<ellipse cx="486.7" cy="674.6" rx="3.6" ry="2.2" fill="rgb(29,2,1)"/>
<ellipse cx="494.7" cy="674.6" rx="3.6" ry="2.2" fill="rgb(36,3,1)"/>
<ellipse cx="502.7" cy="674.6" rx="3.6" ry="2.2" fill="rgb(48,4,2)"/>
<ellipse cx="510.7" cy="674.6" rx="3.6" ry="2.2" fill="rgb(58,5,2)"/>
<ellipse cx="518.7" cy="674.6" rx="3.6" ry="2.2" fill="rgb(54,4,2)"/>
<ellipse cx="526.7" cy="674.6" rx="3.6" ry="2.2" fill="rgb(77,6,3)"/>
<ellipse cx="534.7" cy="674.6" rx="3.6" ry="2.2" fill="rgb(82,7,3)"/>
<ellipse cx="542.7" cy="674.6" rx="3.6" ry="2.2" fill="rgb(56,4,2)"/>
<ellipse cx="550.7" cy="674.6" rx="3.6" ry="2.2" fill="rgb(53,4,2)"/>
<ellipse cx="558.7" cy="674.6" rx="3.6" ry="2.2" fill="rgb(34,3,1)"/>
<ellipse cx="566.7" cy="674.6" rx="3.6" ry="2.2" fill="rgb(22,2,1)"/>
<ellipse cx="574.7" cy="674.6" rx="3.6" ry="2.2" fill="rgb(28,2,1)"/>
<ellipse cx="582.7" cy="674.6" rx="3.6" ry="2.2" fill="rgb(28,2,1)"/>
<ellipse cx="590.7" cy="674.6" rx="3.6" ry="2.2" fill="rgb(20,1,0)"/>
<ellipse cx="598.7" cy="674.6" rx="3.6" ry="2.2" fill="rgb(16,1,0)"/>
<ellipse cx="606.7" cy="674.6" rx="3.6" ry="2.2" fill="rgb(23,2,1)"/>
<ellipse cx="614.7" cy="674.6" rx="3.6" ry="2.2" fill="rgb(23,2,1)"/>
<ellipse cx="622.7" cy="674.6" rx="3.6" ry="2.2" fill="rgb(23,2,1)"/>
<ellipse cx="426.7" cy="681.2" rx="3.6" ry="2.2" fill="rgb(28,2,1)"/>
<ellipse cx="434.7" cy="681.2" rx="3.6" ry="2.2" fill="rgb(24,2,1)"/>
<ellipse cx="442.7" cy="681.2" rx="3.6" ry="2.2" fill="rgb(26,2,1)"/>
<ellipse cx="450.7" cy="681.2" rx="3.6" ry="2.2" fill="rgb(17,1,0)"/>
<ellipse cx="458.7" cy="681.2" rx="3.6" ry="2.2" fill="rgb(23,2,1)"/>
<ellipse cx="466.7" cy="681.2" rx="3.6" ry="2.2" fill="rgb(27,2,1)"/>
<ellipse cx="474.7" cy="681.2" rx="3.6" ry="2.2" fill="rgb(19,1,0)"/>
<ellipse cx="482.7" cy="681.2" rx="3.6" ry="2.2" fill="rgb(21,1,0)"/>
<ellipse cx="490.7" cy="681.2" rx="3.6" ry="2.2" fill="rgb(41,3,1)"/>
<ellipse cx="498.7" cy="681.2" rx="3.6" ry="2.2" fill="rgb(60,5,2)"/>
<ellipse cx="506.7" cy="681.2" rx="3.6" ry="2.2" fill="rgb(39,3,1)"/>
<ellipse cx="514.7" cy="681.2" rx="3.6" ry="2.2" fill="rgb(77,6,3)"/>
<ellipse cx="522.7" cy="681.2" rx="3.6" ry="2.2" fill="rgb(52,4,2)"/>
<ellipse cx="530.7" cy="681.2" rx="3.6" ry="2.2" fill="rgb(85,7,3)"/>
<ellipse cx="538.7" cy="681.2" rx="3.6" ry="2.2" fill="rgb(68,5,2)"/>
<ellipse cx="546.7" cy="681.2" rx="3.6" ry="2.2" fill="rgb(38,3,1)"/>
<ellipse cx="554.7" cy="681.2" rx="3.6" ry="2.2" fill="rgb(30,2,1)"/>
<ellipse cx="562.7" cy="681.2" rx="3.6" ry="2.2" fill="rgb(34,3,1)"/>
<ellipse cx="570.7" cy="681.2" rx="3.6" ry="2.2" fill="rgb(26,2,1)"/>
<ellipse cx="578.7" cy="681.2" rx="3.6" ry="2.2" fill="rgb(27,2,1)"/>
<ellipse cx="586.7" cy="681.2" rx="3.6" ry="2.2" fill="rgb(21,1,0)"/>
<ellipse cx="594.7" cy="681.2" rx="3.6" ry="2.2" fill="rgb(20,1,0)"/>
<ellipse cx="602.7" cy="681.2" rx="3.6" ry="2.2" fill="rgb(28,2,1)"/>
<ellipse cx="610.7" cy="681.2" rx="3.6" ry="2.2" fill="rgb(24,2,1)"/>
<ellipse cx="618.7" cy="681.2" rx="3.6" ry="2.2" fill="rgb(22,2,1)"/>
<ellipse cx="626.7" cy="681.2" rx="3.6" ry="2.2" fill="rgb(23,2,1)"/>
<ellipse cx="422.7" cy="687.8" rx="3.6" ry="2.2" fill="rgb(25,2,1)"/>
<ellipse cx="430.7" cy="687.8" rx="3.6" ry="2.2" fill="rgb(25,2,1)"/>
<ellipse cx="438.7" cy="687.8" rx="3.6" ry="2.2" fill="rgb(27,2,1)"/>
<ellipse cx="446.7" cy="687.8" rx="3.6" ry="2.2" fill="rgb(21,1,0)"/>
<ellipse cx="454.7" cy="687.8" rx="3.6" ry="2.2" fill="rgb(27,2,1)"/>
<ellipse cx="462.7" cy="687.8" rx="3.6" ry="2.2" fill="rgb(25,2,1)"/>
<ellipse cx="470.7" cy="687.8" rx="3.6" ry="2.2" fill="rgb(29,2,1)"/>
<ellipse cx="478.7" cy="687.8" rx="3.6" ry="2.2" fill="rgb(31,2,1)"/>
<ellipse cx="486.7" cy="687.8" rx="3.6" ry="2.2" fill="rgb(39,3,1)"/>
<ellipse cx="494.7" cy="687.8" rx="3.6" ry="2.2" fill="rgb(52,4,2)"/>
<ellipse cx="502.7" cy="687.8" rx="3.6" ry="2.2" fill="rgb(71,6,3)"/>
<ellipse cx="510.7" cy="687.8" rx="3.6" ry="2.2" fill="rgb(72,6,3)"/>
<ellipse cx="518.7" cy="687.8" rx="3.6" ry="2.2" fill="rgb(74,6,3)"/>
<ellipse cx="526.7" cy="687.8" rx="3.6" ry="2.2" fill="rgb(86,7,3)"/>
<ellipse cx="534.7" cy="687.8" rx="3.6" ry="2.2" fill="rgb(82,7,3)"/>
<ellipse cx="542.7" cy="687.8" rx="3.6" ry="2.2" fill="rgb(51,4,2)"/>
<ellipse cx="550.7" cy="687.8" rx="3.6" ry="2.2" fill="rgb(40,3,1)"/>
<ellipse cx="558.7" cy="687.8" rx="3.6" ry="2.2" fill="rgb(25,2,1)"/>
<ellipse cx="566.7" cy="687.8" rx="3.6" ry="2.2" fill="rgb(31,2,1)"/>
<ellipse cx="574.7" cy="687.8" rx="3.6" ry="2.2" fill="rgb(31,2,1)"/>
<ellipse cx="582.7" cy="687.8" rx="3.6" ry="2.2" fill="rgb(21,1,0)"/>
<ellipse cx="590.7" cy="687.8" rx="3.6" ry="2.2" fill="rgb(18,1,0)"/>
<ellipse cx="598.7" cy="687.8" rx="3.6" ry="2.2" fill="rgb(19,1,0)"/>
<ellipse cx="606.7" cy="687.8" rx="3.6" ry="2.2" fill="rgb(21,2,1)"/>
<ellipse cx="614.7" cy="687.8" rx="3.6" ry="2.2" fill="rgb(20,1,0)"/>
<ellipse cx="622.7" cy="687.8" rx="3.6" ry="2.2" fill="rgb(28,2,1)"/>
<ellipse cx="426.7" cy="694.4" rx="3.6" ry="2.2" fill="rgb(17,1,0)"/>
<ellipse cx="434.7" cy="694.4" rx="3.6" ry="2.2" fill="rgb(20,1,0)"/>
<ellipse cx="442.7" cy="694.4" rx="3.6" ry="2.2" fill="rgb(18,1,0)"/>
<ellipse cx="450.7" cy="694.4" rx="3.6" ry="2.2" fill="rgb(24,2,1)"/>
<ellipse cx="458.7" cy="694.4" rx="3.6" ry="2.2" fill="rgb(26,2,1)"/>
<ellipse cx="466.7" cy="694.4" rx="3.6" ry="2.2" fill="rgb(19,1,0)"/>
<ellipse cx="474.7" cy="694.4" rx="3.6" ry="2.2" fill="rgb(18,1,0)"/>
<ellipse cx="482.7" cy="694.4" rx="3.6" ry="2.2" fill="rgb(28,2,1)"/>
<ellipse cx="490.7" cy="694.4" rx="3.6" ry="2.2" fill="rgb(38,3,1)"/>
<ellipse cx="498.7" cy="694.4" rx="3.6" ry="2.2" fill="rgb(60,5,2)"/>
<ellipse cx="506.7" cy="694.4" rx="3.6" ry="2.2" fill="rgb(37,3,1)"/>
<ellipse cx="514.7" cy="694.4" rx="3.6" ry="2.2" fill="rgb(47,4,2)"/>
<ellipse cx="522.7" cy="694.4" rx="3.6" ry="2.2" fill="rgb(54,4,2)"/>
<ellipse cx="530.7" cy="694.4" rx="3.6" ry="2.2" fill="rgb(54,4,2)"/>
<ellipse cx="538.7" cy="694.4" rx="3.6" ry="2.2" fill="rgb(47,4,2)"/>
<ellipse cx="546.7" cy="694.4" rx="3.6" ry="2.2" fill="rgb(56,4,2)"/>
<ellipse cx="554.7" cy="694.4" rx="3.6" ry="2.2" fill="rgb(39,3,1)"/>
<ellipse cx="562.7" cy="694.4" rx="3.6" ry="2.2" fill="rgb(24,2,1)"/>
<ellipse cx="570.7" cy="694.4" rx="3.6" ry="2.2" fill="rgb(20,1,0)"/>
<ellipse cx="578.7" cy="694.4" rx="3.6" ry="2.2" fill="rgb(20,1,0)"/>
<ellipse cx="586.7" cy="694.4" rx="3.6" ry="2.2" fill="rgb(18,1,0)"/>
<ellipse cx="594.7" cy="694.4" rx="3.6" ry="2.2" fill="rgb(26,2,1)"/>
<ellipse cx="602.7" cy="694.4" rx="3.6" ry="2.2" fill="rgb(20,1,0)"/>
<ellipse cx="610.7" cy="694.4" rx="3.6" ry="2.2" fill="rgb(23,2,1)"/>
<ellipse cx="618.7" cy="694.4" rx="3.6" ry="2.2" fill="rgb(26,2,1)"/>
<ellipse cx="626.7" cy="694.4" rx="3.6" ry="2.2" fill="rgb(22,2,1)"/>
<ellipse cx="422.7" cy="701.0" rx="3.6" ry="2.2" fill="rgb(19,1,0)"/>
<ellipse cx="430.7" cy="701.0" rx="3.6" ry="2.2" fill="rgb(27,2,1)"/>
<ellipse cx="438.7" cy="701.0" rx="3.6" ry="2.2" fill="rgb(27,2,1)"/>
<ellipse cx="446.7" cy="701.0" rx="3.6" ry="2.2" fill="rgb(20,1,0)"/>
<ellipse cx="454.7" cy="701.0" rx="3.6" ry="2.2" fill="rgb(23,2,1)"/>
<ellipse cx="462.7" cy="701.0" rx="3.6" ry="2.2" fill="rgb(29,2,1)"/>
<ellipse cx="470.7" cy="701.0" rx="3.6" ry="2.2" fill="rgb(24,2,1)"/>
<ellipse cx="478.7" cy="701.0" rx="3.6" ry="2.2" fill="rgb(22,2,1)"/>
<ellipse cx="486.7" cy="701.0" rx="3.6" ry="2.2" fill="rgb(22,2,1)"/>
<ellipse cx="494.7" cy="701.0" rx="3.6" ry="2.2" fill="rgb(54,4,2)"/>
<ellipse cx="502.7" cy="701.0" rx="3.6" ry="2.2" fill="rgb(65,5,2)"/>
<ellipse cx="510.7" cy="701.0" rx="3.6" ry="2.2" fill="rgb(58,5,2)"/>
<ellipse cx="518.7" cy="701.0" rx="3.6" ry="2.2" fill="rgb(74,6,3)"/>
<ellipse cx="526.7" cy="701.0" rx="3.6" ry="2.2" fill="rgb(74,6,3)"/>
<ellipse cx="534.7" cy="701.0" rx="3.6" ry="2.2" fill="rgb(54,4,2)"/>
<ellipse cx="542.7" cy="701.0" rx="3.6" ry="2.2" fill="rgb(75,6,3)"/>
<ellipse cx="550.7" cy="701.0" rx="3.6" ry="2.2" fill="rgb(47,4,2)"/>
<ellipse cx="558.7" cy="701.0" rx="3.6" ry="2.2" fill="rgb(27,2,1)"/>
<ellipse cx="566.7" cy="701.0" rx="3.6" ry="2.2" fill="rgb(19,1,0)"/>
<ellipse cx="574.7" cy="701.0" rx="3.6" ry="2.2" fill="rgb(24,2,1)"/>
<ellipse cx="582.7" cy="701.0" rx="3.6" ry="2.2" fill="rgb(21,1,0)"/>
<ellipse cx="590.7" cy="701.0" rx="3.6" ry="2.2" fill="rgb(26,2,1)"/>
<ellipse cx="598.7" cy="701.0" rx="3.6" ry="2.2" fill="rgb(25,2,1)"/>
<ellipse cx="606.7" cy="701.0" rx="3.6" ry="2.2" fill="rgb(24,2,1)"/>
<ellipse cx="614.7" cy="701.0" rx="3.6" ry="2.2" fill="rgb(18,1,0)"/>
<ellipse cx="622.7" cy="701.0" rx="3.6" ry="2.2" fill="rgb(18,1,0)"/>
<ellipse cx="426.7" cy="707.6" rx="3.6" ry="2.2" fill="rgb(20,1,0)"/>
<ellipse cx="434.7" cy="707.6" rx="3.6" ry="2.2" fill="rgb(19,1,0)"/>
<ellipse cx="442.7" cy="707.6" rx="3.6" ry="2.2" fill="rgb(27,2,1)"/>
<ellipse cx="450.7" cy="707.6" rx="3.6" ry="2.2" fill="rgb(23,2,1)"/>
<ellipse cx="458.7" cy="707.6" rx="3.6" ry="2.2" fill="rgb(24,2,1)"/>
<ellipse cx="466.7" cy="707.6" rx="3.6" ry="2.2" fill="rgb(30,2,1)"/>
<ellipse cx="474.7" cy="707.6" rx="3.6" ry="2.2" fill="rgb(21,2,1)"/>
<ellipse cx="482.7" cy="707.6" rx="3.6" ry="2.2" fill="rgb(29,2,1)"/>
<ellipse cx="490.7" cy="707.6" rx="3.6" ry="2.2" fill="rgb(27,2,1)"/>
<ellipse cx="498.7" cy="707.6" rx="3.6" ry="2.2" fill="rgb(56,4,2)"/>
<ellipse cx="506.7" cy="707.6" rx="3.6" ry="2.2" fill="rgb(35,3,1)"/>
<ellipse cx="514.7" cy="707.6" rx="3.6" ry="2.2" fill="rgb(87,7,3)"/>
<ellipse cx="522.7" cy="707.6" rx="3.6" ry="2.2" fill="rgb(95,8,4)"/>
<ellipse cx="530.7" cy="707.6" rx="3.6" ry="2.2" fill="rgb(89,7,3)"/>
<ellipse cx="538.7" cy="707.6" rx="3.6" ry="2.2" fill="rgb(40,3,1)"/>
<ellipse cx="546.7" cy="707.6" rx="3.6" ry="2.2" fill="rgb(39,3,1)"/>
<ellipse cx="554.7" cy="707.6" rx="3.6" ry="2.2" fill="rgb(43,3,1)"/>
<ellipse cx="562.7" cy="707.6" rx="3.6" ry="2.2" fill="rgb(22,2,1)"/>
<ellipse cx="570.7" cy="707.6" rx="3.6" ry="2.2" fill="rgb(25,2,1)"/>
<ellipse cx="578.7" cy="707.6" rx="3.6" ry="2.2" fill="rgb(23,2,1)"/>
<ellipse cx="586.7" cy="707.6" rx="3.6" ry="2.2" fill="rgb(28,2,1)"/>
<ellipse cx="594.7" cy="707.6" rx="3.6" ry="2.2" fill="rgb(23,2,1)"/>
<ellipse cx="602.7" cy="707.6" rx="3.6" ry="2.2" fill="rgb(27,2,1)"/>
<ellipse cx="610.7" cy="707.6" rx="3.6" ry="2.2" fill="rgb(20,1,0)"/>
<ellipse cx="618.7" cy="707.6" rx="3.6" ry="2.2" fill="rgb(26,2,1)"/>
<ellipse cx="626.7" cy="707.6" rx="3.6" ry="2.2" fill="rgb(21,1,0)"/>
<ellipse cx="422.7" cy="714.2" rx="3.6" ry="2.2" fill="rgb(27,2,1)"/>
<ellipse cx="430.7" cy="714.2" rx="3.6" ry="2.2" fill="rgb(17,1,0)"/>
<ellipse cx="438.7" cy="714.2" rx="3.6" ry="2.2" fill="rgb(26,2,1)"/>
<ellipse cx="446.7" cy="714.2" rx="3.6" ry="2.2" fill="rgb(19,1,0)"/>
<ellipse cx="454.7" cy="714.2" rx="3.6" ry="2.2" fill="rgb(23,2,1)"/>
<ellipse cx="462.7" cy="714.2" rx="3.6" ry="2.2" fill="rgb(23,2,1)"/>
<ellipse cx="470.7" cy="714.2" rx="3.6" ry="2.2" fill="rgb(19,1,0)"/>
<ellipse cx="478.7" cy="714.2" rx="3.6" ry="2.2" fill="rgb(32,2,1)"/>
<ellipse cx="486.7" cy="714.2" rx="3.6" ry="2.2" fill="rgb(28,2,1)"/>
<ellipse cx="494.7" cy="714.2" rx="3.6" ry="2.2" fill="rgb(35,3,1)"/>
<ellipse cx="502.7" cy="714.2" rx="3.6" ry="2.2" fill="rgb(35,3,1)"/>
<ellipse cx="510.7" cy="714.2" rx="3.6" ry="2.2" fill="rgb(54,4,2)"/>
<ellipse cx="518.7" cy="714.2" rx="3.6" ry="2.2" fill="rgb(70,6,3)"/>
<ellipse cx="526.7" cy="714.2" rx="3.6" ry="2.2" fill="rgb(86,7,3)"/>
<ellipse cx="534.7" cy="714.2" rx="3.6" ry="2.2" fill="rgb(58,5,2)"/>
<ellipse cx="542.7" cy="714.2" rx="3.6" ry="2.2" fill="rgb(62,5,2)"/>
<ellipse cx="550.7" cy="714.2" rx="3.6" ry="2.2" fill="rgb(30,2,1)"/>
<ellipse cx="558.7" cy="714.2" rx="3.6" ry="2.2" fill="rgb(30,2,1)"/>
<ellipse cx="566.7" cy="714.2" rx="3.6" ry="2.2" fill="rgb(26,2,1)"/>
<ellipse cx="574.7" cy="714.2" rx="3.6" ry="2.2" fill="rgb(31,2,1)"/>
<ellipse cx="582.7" cy="714.2" rx="3.6" ry="2.2" fill="rgb(27,2,1)"/>
<ellipse cx="590.7" cy="714.2" rx="3.6" ry="2.2" fill="rgb(24,2,1)"/>
<ellipse cx="598.7" cy="714.2" rx="3.6" ry="2.2" fill="rgb(16,1,0)"/>
<ellipse cx="606.7" cy="714.2" rx="3.6" ry="2.2" fill="rgb(21,1,0)"/>
<ellipse cx="614.7" cy="714.2" rx="3.6" ry="2.2" fill="rgb(25,2,1)"/>
<ellipse cx="622.7" cy="714.2" rx="3.6" ry="2.2" fill="rgb(19,1,0)"/>
<ellipse cx="426.7" cy="720.8" rx="3.6" ry="2.2" fill="rgb(23,2,1)"/>
<ellipse cx="434.7" cy="720.8" rx="3.6" ry="2.2" fill="rgb(22,2,1)"/>
<ellipse cx="442.7" cy="720.8" rx="3.6" ry="2.2" fill="rgb(16,1,0)"/>
<ellipse cx="450.7" cy="720.8" rx="3.6" ry="2.2" fill="rgb(28,2,1)"/>
<ellipse cx="458.7" cy="720.8" rx="3.6" ry="2.2" fill="rgb(26,2,1)"/>
<ellipse cx="466.7" cy="720.8" rx="3.6" ry="2.2" fill="rgb(19,1,0)"/>
<ellipse cx="474.7" cy="720.8" rx="3.6" ry="2.2" fill="rgb(27,2,1)"/>
<ellipse cx="482.7" cy="720.8" rx="3.6" ry="2.2" fill="rgb(25,2,1)"/>
<ellipse cx="490.7" cy="720.8" rx="3.6" ry="2.2" fill="rgb(32,2,1)"/>
<ellipse cx="498.7" cy="720.8" rx="3.6" ry="2.2" fill="rgb(47,4,2)"/>
<ellipse cx="506.7" cy="720.8" rx="3.6" ry="2.2" fill="rgb(49,4,2)"/>
<ellipse cx="514.7" cy="720.8" rx="3.6" ry="2.2" fill="rgb(60,5,2)"/>
<ellipse cx="522.7" cy="720.8" rx="3.6" ry="2.2" fill="rgb(67,5,2)"/>
<ellipse cx="530.7" cy="720.8" rx="3.6" ry="2.2" fill="rgb(80,6,3)"/>
<ellipse cx="538.7" cy="720.8" rx="3.6" ry="2.2" fill="rgb(48,4,2)"/>
<ellipse cx="546.7" cy="720.8" rx="3.6" ry="2.2" fill="rgb(37,3,1)"/>
<ellipse cx="554.7" cy="720.8" rx="3.6" ry="2.2" fill="rgb(43,3,1)"/>
<ellipse cx="562.7" cy="720.8" rx="3.6" ry="2.2" fill="rgb(26,2,1)"/>
<ellipse cx="570.7" cy="720.8" rx="3.6" ry="2.2" fill="rgb(32,2,1)"/>
<ellipse cx="578.7" cy="720.8" rx="3.6" ry="2.2" fill="rgb(24,2,1)"/>
<ellipse cx="586.7" cy="720.8" rx="3.6" ry="2.2" fill="rgb(25,2,1)"/>
<ellipse cx="594.7" cy="720.8" rx="3.6" ry="2.2" fill="rgb(20,1,0)"/>
<ellipse cx="602.7" cy="720.8" rx="3.6" ry="2.2" fill="rgb(26,2,1)"/>
<ellipse cx="610.7" cy="720.8" rx="3.6" ry="2.2" fill="rgb(17,1,0)"/>
<ellipse cx="618.7" cy="720.8" rx="3.6" ry="2.2" fill="rgb(18,1,0)"/>
<ellipse cx="626.7" cy="720.8" rx="3.6" ry="2.2" fill="rgb(17,1,0)"/>
<line x1="523.3" y1="500" x2="523.3" y2="719" stroke="#8a1008" stroke-width="5" stroke-dasharray="14 6" opacity="0.8"/>
</g>
<g filter="url(#blur1)">
<ellipse cx="524.3" cy="579" rx="4.5" ry="12" fill="url(#hot)"/>
<ellipse cx="523.3" cy="506" rx="4" ry="8" fill="url(#hot2)"/>
<ellipse cx="523.3" cy="631" rx="4" ry="16" fill="url(#hot3)"/>
<ellipse cx="523.3" cy="546" rx="4" ry="10" fill="url(#hot3)" opacity="0.7"/>
</g>
<line x1="422.7" y1="500" x2="422.7" y2="719" stroke="#e8e8e8" stroke-width="1.3" stroke-dasharray="2 2.2" opacity="0.85"/>
<line x1="448.1" y1="500" x2="448.1" y2="719" stroke="#e8e8e8" stroke-width="1.3" stroke-dasharray="2 2.2" opacity="0.85"/>
<line x1="473.6" y1="500" x2="473.6" y2="719" stroke="#e8e8e8" stroke-width="1.3" stroke-dasharray="2 2.2" opacity="0.85"/>
<line x1="499.0" y1="500" x2="499.0" y2="719" stroke="#e8e8e8" stroke-width="1.3" stroke-dasharray="2 2.2" opacity="0.85"/>
<line x1="524.5" y1="500" x2="524.5" y2="719" stroke="#e8e8e8" stroke-width="1.3" stroke-dasharray="2 2.2" opacity="0.85"/>
<line x1="550.0" y1="500" x2="550.0" y2="719" stroke="#e8e8e8" stroke-width="1.3" stroke-dasharray="2 2.2" opacity="0.85"/>
<line x1="575.4" y1="500" x2="575.4" y2="719" stroke="#e8e8e8" stroke-width="1.3" stroke-dasharray="2 2.2" opacity="0.85"/>
<line x1="600.9" y1="500" x2="600.9" y2="719" stroke="#e8e8e8" stroke-width="1.3" stroke-dasharray="2 2.2" opacity="0.85"/>
<line x1="626.3" y1="500" x2="626.3" y2="719" stroke="#e8e8e8" stroke-width="1.3" stroke-dasharray="2 2.2" opacity="0.85"/>
<line x1="422.7" y1="500.0" x2="626.3" y2="500.0" stroke="#e8e8e8" stroke-width="1.3" stroke-dasharray="2 2.2" opacity="0.85"/>
<line x1="422.7" y1="527.4" x2="626.3" y2="527.4" stroke="#e8e8e8" stroke-width="1.3" stroke-dasharray="2 2.2" opacity="0.85"/>
<line x1="422.7" y1="554.8" x2="626.3" y2="554.8" stroke="#e8e8e8" stroke-width="1.3" stroke-dasharray="2 2.2" opacity="0.85"/>
<line x1="422.7" y1="582.1" x2="626.3" y2="582.1" stroke="#e8e8e8" stroke-width="1.3" stroke-dasharray="2 2.2" opacity="0.85"/>
<line x1="422.7" y1="609.5" x2="626.3" y2="609.5" stroke="#e8e8e8" stroke-width="1.3" stroke-dasharray="2 2.2" opacity="0.85"/>
<line x1="422.7" y1="636.9" x2="626.3" y2="636.9" stroke="#e8e8e8" stroke-width="1.3" stroke-dasharray="2 2.2" opacity="0.85"/>
<line x1="422.7" y1="664.2" x2="626.3" y2="664.2" stroke="#e8e8e8" stroke-width="1.3" stroke-dasharray="2 2.2" opacity="0.85"/>
<line x1="422.7" y1="691.6" x2="626.3" y2="691.6" stroke="#e8e8e8" stroke-width="1.3" stroke-dasharray="2 2.2" opacity="0.85"/>
<line x1="422.7" y1="719.0" x2="626.3" y2="719.0" stroke="#e8e8e8" stroke-width="1.3" stroke-dasharray="2 2.2" opacity="0.85"/>
<rect x="426.7" y="666.5" width="195.7" height="45.0" fill="#403e3e" opacity="0.9"/>
<line x1="448.1" y1="666.5" x2="448.1" y2="711.5" stroke="#c8c8c8" stroke-width="1.2" stroke-dasharray="2 2.2" opacity="0.45"/>
<line x1="473.6" y1="666.5" x2="473.6" y2="711.5" stroke="#c8c8c8" stroke-width="1.2" stroke-dasharray="2 2.2" opacity="0.45"/>
<line x1="499.0" y1="666.5" x2="499.0" y2="711.5" stroke="#c8c8c8" stroke-width="1.2" stroke-dasharray="2 2.2" opacity="0.45"/>
<line x1="524.5" y1="666.5" x2="524.5" y2="711.5" stroke="#c8c8c8" stroke-width="1.2" stroke-dasharray="2 2.2" opacity="0.45"/>
<line x1="550.0" y1="666.5" x2="550.0" y2="711.5" stroke="#c8c8c8" stroke-width="1.2" stroke-dasharray="2 2.2" opacity="0.45"/>
<line x1="575.4" y1="666.5" x2="575.4" y2="711.5" stroke="#c8c8c8" stroke-width="1.2" stroke-dasharray="2 2.2" opacity="0.45"/>
<line x1="600.9" y1="666.5" x2="600.9" y2="711.5" stroke="#c8c8c8" stroke-width="1.2" stroke-dasharray="2 2.2" opacity="0.45"/>
<line x1="426.7" y1="664.2" x2="622.4" y2="664.2" stroke="#c8c8c8" stroke-width="1.2" stroke-dasharray="2 2.2" opacity="0.45"/>
<line x1="426.7" y1="691.6" x2="622.4" y2="691.6" stroke="#c8c8c8" stroke-width="1.2" stroke-dasharray="2 2.2" opacity="0.45"/>
</g>
<text x="524.55" y="686.0" font-family="Liberation Sans, sans-serif" font-size="15.6" font-weight="bold" font-style="italic" text-anchor="middle" fill="#fff" >Optimized SOAL</text>
<text x="524.55" y="703.5" font-family="Liberation Sans, sans-serif" font-size="15.6" font-weight="bold" font-style="italic" text-anchor="middle" fill="#fff" >(Experimental)</text>
<line x1="507.4" y1="582.6" x2="538.5" y2="582.6" stroke="#fff" stroke-width="2" stroke-dasharray="4 2"/>
<line x1="505.9" y1="585.3000000000001" x2="491.7" y2="598.9000000000001" stroke="#ddd" stroke-width="1"/>
<path d="M489.7,600.9000000000001 l2.2,-5 l2.8,2.8 z" fill="#eee"/>
<text x="432.4" y="618" font-family="Liberation Sans, sans-serif" font-size="14.8" font-weight="normal" font-style="italic" text-anchor="start" fill="#e4e4e4" >Cross-</text>
<text x="432.4" y="635.3" font-family="Liberation Sans, sans-serif" font-size="14.8" font-weight="normal" font-style="italic" text-anchor="start" fill="#e4e4e4" >section line</text>
<rect x="30" y="232" width="22.6" height="338.8" fill="url(#cbar)" stroke="#8a8a8a" stroke-width="0.8"/>
<line x1="30" y1="253.2" x2="32.5" y2="253.2" stroke="#555" stroke-width="0.8"/>
<line x1="50.1" y1="253.2" x2="52.6" y2="253.2" stroke="#555" stroke-width="0.8"/>
<line x1="30" y1="294" x2="32.5" y2="294" stroke="#555" stroke-width="0.8"/>
<line x1="50.1" y1="294" x2="52.6" y2="294" stroke="#555" stroke-width="0.8"/>
<line x1="30" y1="334.8" x2="32.5" y2="334.8" stroke="#555" stroke-width="0.8"/>
<line x1="50.1" y1="334.8" x2="52.6" y2="334.8" stroke="#555" stroke-width="0.8"/>
<line x1="30" y1="375.7" x2="32.5" y2="375.7" stroke="#555" stroke-width="0.8"/>
<line x1="50.1" y1="375.7" x2="52.6" y2="375.7" stroke="#555" stroke-width="0.8"/>
<line x1="30" y1="416.5" x2="32.5" y2="416.5" stroke="#555" stroke-width="0.8"/>
<line x1="50.1" y1="416.5" x2="52.6" y2="416.5" stroke="#555" stroke-width="0.8"/>
<line x1="30" y1="457.3" x2="32.5" y2="457.3" stroke="#555" stroke-width="0.8"/>
<line x1="50.1" y1="457.3" x2="52.6" y2="457.3" stroke="#555" stroke-width="0.8"/>
<line x1="30" y1="497.6" x2="32.5" y2="497.6" stroke="#555" stroke-width="0.8"/>
<line x1="50.1" y1="497.6" x2="52.6" y2="497.6" stroke="#555" stroke-width="0.8"/>
<line x1="30" y1="538.2" x2="32.5" y2="538.2" stroke="#555" stroke-width="0.8"/>
<line x1="50.1" y1="538.2" x2="52.6" y2="538.2" stroke="#555" stroke-width="0.8"/>
<text x="17" y="236" font-family="Liberation Sans, sans-serif" font-size="17.5" font-weight="normal" font-style="normal" text-anchor="end" fill="#000" >1</text>
<text x="17.7" y="580" font-family="Liberation Sans, sans-serif" font-size="17.5" font-weight="normal" font-style="normal" text-anchor="end" fill="#000" >0</text>
<text transform="translate(18.1,385.5) rotate(-90)" x="0" y="0" font-family="Liberation Sans, sans-serif" font-size="17.9" font-weight="normal" text-anchor="middle" fill="#000">Normalized acoustic intensity (a.u.)</text>
<text x="80" y="800" font-family="Liberation Sans, sans-serif" font-size="33" font-weight="bold" font-style="normal" text-anchor="start" fill="#000" >e</text>
<rect x="113.8" y="777" width="511" height="93.5" fill="#fff" stroke="#8c8c8c" stroke-width="1.2"/>
<line x1="130.6" y1="792.3" x2="192.4" y2="792.3" stroke="#f50f0f" stroke-width="2.4"/>
<ellipse cx="162.2" cy="792.3" rx="6.9" ry="6.7" fill="#f50f0f"/>
<line x1="130.6" y1="812.8" x2="192.4" y2="812.8" stroke="#1c1cf5" stroke-width="2.2"/>
<line x1="130.6" y1="834" x2="192.4" y2="834" stroke="#14ec14" stroke-width="2.4" stroke-dasharray="5.5 3"/>
<ellipse cx="162.2" cy="834" rx="6.9" ry="6.7" fill="#14ec14"/>
<line x1="130.6" y1="857" x2="192.4" y2="857" stroke="#111" stroke-width="1.6" stroke-dasharray="4.5 2.5"/>
<text x="206.3" y="798.5999999999999" font-family="Liberation Sans, sans-serif" font-size="18" font-weight="normal" font-style="normal" text-anchor="start" fill="#000" >Conventional FZP lens (Numerical)</text>
<text x="206.3" y="819.0999999999999" font-family="Liberation Sans, sans-serif" font-size="18" font-weight="normal" font-style="normal" text-anchor="start" fill="#000" >Optimized  SOAL (Numerical)</text>
<text x="206.3" y="840.3" font-family="Liberation Sans, sans-serif" font-size="18" font-weight="normal" font-style="normal" text-anchor="start" fill="#000" >Conventional FZP lens (Experimental)</text>
<text x="206.3" y="863.3" font-family="Liberation Sans, sans-serif" font-size="18" font-weight="normal" font-style="normal" text-anchor="start" fill="#000" >Optimized  SOAL (Experimental)</text>
<rect x="311.6" y="1042.5" width="111.4" height="164.79999999999995" fill="#e3f1e6"/>
<rect x="335.3" y="1042.5" width="67.7" height="164.79999999999995" fill="#c8d9ec"/>
<rect x="114" y="877.3" width="510.5" height="330.0" fill="none" stroke="#8c8c8c" stroke-width="1.3"/>
<line x1="114" y1="1174.3" x2="119" y2="1174.3" stroke="#8c8c8c" stroke-width="1"/>
<line x1="619.5" y1="1174.3" x2="624.5" y2="1174.3" stroke="#8c8c8c" stroke-width="1"/>
<line x1="114" y1="1141.3" x2="119" y2="1141.3" stroke="#8c8c8c" stroke-width="1"/>
<line x1="619.5" y1="1141.3" x2="624.5" y2="1141.3" stroke="#8c8c8c" stroke-width="1"/>
<line x1="114" y1="1108.3" x2="119" y2="1108.3" stroke="#8c8c8c" stroke-width="1"/>
<line x1="619.5" y1="1108.3" x2="624.5" y2="1108.3" stroke="#8c8c8c" stroke-width="1"/>
<line x1="114" y1="1075.3" x2="119" y2="1075.3" stroke="#8c8c8c" stroke-width="1"/>
<line x1="619.5" y1="1075.3" x2="624.5" y2="1075.3" stroke="#8c8c8c" stroke-width="1"/>
<line x1="114" y1="1042.3" x2="119" y2="1042.3" stroke="#8c8c8c" stroke-width="1"/>
<line x1="619.5" y1="1042.3" x2="624.5" y2="1042.3" stroke="#8c8c8c" stroke-width="1"/>
<line x1="114" y1="1009.3" x2="119" y2="1009.3" stroke="#8c8c8c" stroke-width="1"/>
<line x1="619.5" y1="1009.3" x2="624.5" y2="1009.3" stroke="#8c8c8c" stroke-width="1"/>
<line x1="114" y1="976.3" x2="119" y2="976.3" stroke="#8c8c8c" stroke-width="1"/>
<line x1="619.5" y1="976.3" x2="624.5" y2="976.3" stroke="#8c8c8c" stroke-width="1"/>
<line x1="114" y1="943.3" x2="119" y2="943.3" stroke="#8c8c8c" stroke-width="1"/>
<line x1="619.5" y1="943.3" x2="624.5" y2="943.3" stroke="#8c8c8c" stroke-width="1"/>
<line x1="114" y1="910.3" x2="119" y2="910.3" stroke="#8c8c8c" stroke-width="1"/>
<line x1="619.5" y1="910.3" x2="624.5" y2="910.3" stroke="#8c8c8c" stroke-width="1"/>
<line x1="199.07999999999998" y1="1207.3" x2="199.07999999999998" y2="1202.3" stroke="#8c8c8c" stroke-width="1"/>
<line x1="199.07999999999998" y1="877.3" x2="199.07999999999998" y2="882.3" stroke="#8c8c8c" stroke-width="1"/>
<line x1="284.15999999999997" y1="1207.3" x2="284.15999999999997" y2="1202.3" stroke="#8c8c8c" stroke-width="1"/>
<line x1="284.15999999999997" y1="877.3" x2="284.15999999999997" y2="882.3" stroke="#8c8c8c" stroke-width="1"/>
<line x1="369.24" y1="1207.3" x2="369.24" y2="1202.3" stroke="#8c8c8c" stroke-width="1"/>
<line x1="369.24" y1="877.3" x2="369.24" y2="882.3" stroke="#8c8c8c" stroke-width="1"/>
<line x1="454.32" y1="1207.3" x2="454.32" y2="1202.3" stroke="#8c8c8c" stroke-width="1"/>
<line x1="454.32" y1="877.3" x2="454.32" y2="882.3" stroke="#8c8c8c" stroke-width="1"/>
<line x1="539.4" y1="1207.3" x2="539.4" y2="1202.3" stroke="#8c8c8c" stroke-width="1"/>
<line x1="539.4" y1="877.3" x2="539.4" y2="882.3" stroke="#8c8c8c" stroke-width="1"/>
<text x="83.5" y="885.3" font-family="Liberation Sans, sans-serif" font-size="20" font-weight="normal" font-style="normal" text-anchor="end" fill="#000" >1</text>
<text x="85" y="1214.9" font-family="Liberation Sans, sans-serif" font-size="20" font-weight="normal" font-style="normal" text-anchor="end" fill="#000" >0</text>
<text x="114" y="1235" font-family="Liberation Sans, sans-serif" font-size="20" font-weight="normal" font-style="normal" text-anchor="middle" fill="#000" >-3</text>
<text x="623" y="1235" font-family="Liberation Sans, sans-serif" font-size="20" font-weight="normal" font-style="normal" text-anchor="middle" fill="#000" >3</text>
<text x="368" y="1235" font-family="Liberation Sans, sans-serif" font-size="20.4" font-weight="normal" font-style="normal" text-anchor="middle" fill="#000" >Lateral position (mm)</text>
<text transform="translate(48.8,1042.6) rotate(-90)" x="0" y="0" font-family="Liberation Sans, sans-serif" font-size="20.6" font-weight="normal" text-anchor="middle" fill="#000">Normalized acoustic intensity (a.u.)</text>
<g transform="translate(77.5,1044.6) rotate(-90)"><text x="0" y="0" font-family="Liberation Serif, serif" font-style="italic" font-size="23" letter-spacing="0.6" text-anchor="middle">|p|²/2ρ<tspan font-size="16" dy="3">w</tspan><tspan dy="-3">c</tspan><tspan font-size="16" dy="3">w</tspan></text></g>
<line x1="86.3" y1="962.3" x2="86.3" y2="1122.9" stroke="#000" stroke-width="1.2"/>
<g transform="translate(106.2,1042.6) rotate(-90)"><text x="0" y="0" font-family="Liberation Serif, serif" font-style="italic" font-size="23" letter-spacing="0.6" text-anchor="middle">max(|p|²/2ρ<tspan font-size="16" dy="3">w</tspan><tspan dy="-3">c</tspan><tspan font-size="16" dy="3">w</tspan><tspan dy="-3">)</tspan></text></g>
<clipPath id="plotclip"><rect x="114" y="871.3" width="510.5" height="336.0"/></clipPath>
<g clip-path="url(#plotclip)">
<path d="M109.90,1201.87 L110.75,1202.45 L111.60,1203.01 L112.45,1203.54 L113.30,1204.03 L114.15,1204.50 L115.00,1204.93 L115.85,1205.34 L116.70,1205.70 L117.55,1206.03 L118.40,1206.33 L119.25,1206.58 L120.10,1206.80 L120.95,1206.98 L121.80,1207.12 L122.65,1207.22 L123.49,1207.28 L124.34,1207.30 L125.19,1207.28 L126.04,1207.22 L126.89,1207.12 L127.74,1206.98 L128.59,1206.80 L129.44,1206.58 L130.29,1206.33 L131.14,1206.03 L131.99,1205.70 L132.84,1205.34 L133.69,1204.93 L134.54,1204.50 L135.39,1204.03 L136.24,1203.54 L137.09,1203.01 L137.94,1202.45 L138.79,1201.87 L139.64,1201.27 L140.48,1200.64 L141.33,1199.99 L142.18,1199.32 L143.03,1198.63 L143.88,1197.92 L144.73,1197.21 L145.58,1196.48 L146.43,1195.74 L147.28,1194.99 L148.13,1194.24 L148.98,1193.49 L149.83,1192.73 L150.68,1191.98 L151.53,1191.23 L152.38,1190.48 L153.23,1189.74 L154.08,1189.01 L154.93,1188.30 L155.78,1187.59 L156.62,1186.90 L157.47,1186.23 L158.32,1185.58 L159.17,1184.95 L160.02,1184.35 L160.87,1183.77 L161.72,1183.21 L162.57,1182.68 L163.42,1182.19 L164.27,1181.72 L165.12,1181.29 L165.97,1180.88 L166.82,1180.52 L167.67,1180.19 L168.52,1179.89 L169.37,1179.64 L170.22,1179.42 L171.07,1179.24 L171.92,1179.10 L172.77,1179.00 L173.62,1178.94 L174.46,1178.92 L175.31,1178.94 L176.16,1179.00 L177.01,1179.10 L177.86,1179.24 L178.71,1179.42 L179.56,1179.64 L180.41,1179.89 L181.26,1180.19 L182.11,1180.52 L182.96,1180.88 L183.81,1181.29 L184.66,1181.72 L185.51,1182.19 L186.36,1182.68 L187.21,1183.21 L188.06,1183.77 L188.91,1184.35 L189.76,1184.95 L190.61,1185.58 L191.45,1186.23 L192.30,1186.90 L193.15,1187.59 L194.00,1188.30 L194.85,1189.01 L195.70,1189.74 L196.55,1190.48 L197.40,1191.23 L198.25,1191.98 L199.10,1192.73 L199.95,1193.49 L200.80,1194.24 L201.65,1194.99 L202.50,1195.74 L203.35,1196.48 L204.20,1197.21 L205.05,1197.92 L205.90,1198.63 L206.75,1199.32 L207.60,1199.99 L208.44,1200.64 L209.29,1201.27 L210.14,1201.87 L210.99,1202.45 L211.84,1203.01 L212.69,1203.54 L213.54,1204.03 L214.39,1204.50 L215.24,1204.93 L216.09,1205.34 L216.94,1205.70 L217.79,1206.03 L218.64,1206.33 L219.49,1206.58 L220.34,1206.80 L221.19,1206.98 L222.04,1207.12 L222.89,1207.22 L223.74,1207.28 L224.59,1207.30 L225.43,1207.27 L226.28,1207.19 L227.13,1207.06 L227.98,1206.87 L228.83,1206.63 L229.68,1206.35 L230.53,1206.01 L231.38,1205.62 L232.23,1205.19 L233.08,1204.72 L233.93,1204.21 L234.78,1203.66 L235.63,1203.07 L236.48,1202.45 L237.33,1201.80 L238.18,1201.13 L239.03,1200.43 L239.88,1199.72 L240.73,1198.98 L241.58,1198.24 L242.42,1197.49 L243.27,1196.74 L244.12,1195.99 L244.97,1195.24 L245.82,1194.50 L246.67,1193.76 L247.52,1193.05 L248.37,1192.35 L249.22,1191.68 L250.07,1191.03 L250.92,1190.41 L251.77,1189.82 L252.62,1189.27 L253.47,1188.76 L254.32,1188.29 L255.17,1187.86 L256.02,1187.47 L256.87,1187.13 L257.72,1186.85 L258.56,1186.61 L259.41,1186.42 L260.26,1186.29 L261.11,1186.21 L261.96,1186.18 L262.81,1186.21 L263.66,1186.29 L264.51,1186.42 L265.36,1186.61 L266.21,1186.85 L267.06,1187.13 L267.91,1187.47 L268.76,1187.86 L269.61,1188.29 L270.46,1188.76 L271.31,1189.27 L272.16,1189.82 L273.01,1190.41 L273.86,1191.03 L274.71,1191.68 L275.56,1192.35 L276.40,1193.05 L277.25,1193.76 L278.10,1194.50 L278.95,1195.24 L279.80,1195.99 L280.65,1196.74 L281.50,1197.49 L282.35,1198.24 L283.20,1198.98 L284.05,1199.72 L284.90,1200.43 L285.75,1201.13 L286.60,1201.80 L287.45,1202.45 L288.30,1203.07 L289.15,1203.66 L290.00,1204.21 L290.85,1204.72 L291.70,1205.19 L292.55,1205.62 L293.39,1206.01 L294.24,1206.35 L295.09,1206.63 L295.94,1206.87 L296.79,1207.06 L297.64,1207.19 L298.49,1207.27 L299.34,1207.30 L300.19,1207.18 L301.04,1206.82 L301.89,1206.21 L302.74,1205.37 L303.59,1204.28 L304.44,1202.96 L305.29,1201.40 L306.14,1199.61 L306.99,1197.59 L307.84,1195.34 L308.69,1192.86 L309.54,1190.17 L310.38,1187.25 L311.23,1184.13 L312.08,1180.80 L312.93,1177.26 L313.78,1173.52 L314.63,1169.60 L315.48,1165.48 L316.33,1161.19 L317.18,1156.72 L318.03,1152.08 L318.88,1147.28 L319.73,1142.33 L320.58,1137.23 L321.43,1131.99 L322.28,1126.62 L323.13,1121.12 L323.98,1115.51 L324.83,1109.80 L325.68,1103.98 L326.53,1098.07 L327.37,1092.08 L328.22,1086.02 L329.07,1079.90 L329.92,1073.71 L330.77,1067.49 L331.62,1061.22 L332.47,1054.93 L333.32,1048.62 L334.17,1042.30 L335.02,1035.98 L335.87,1029.67 L336.72,1023.38 L337.57,1017.11 L338.42,1010.89 L339.27,1004.70 L340.12,998.58 L340.97,992.52 L341.82,986.53 L342.67,980.62 L343.51,974.80 L344.36,969.09 L345.21,963.48 L346.06,957.98 L346.91,952.61 L347.76,947.37 L348.61,942.27 L349.46,937.32 L350.31,932.52 L351.16,927.88 L352.01,923.41 L352.86,919.12 L353.71,915.00 L354.56,911.08 L355.41,907.34 L356.26,903.80 L357.11,900.47 L357.96,897.35 L358.81,894.43 L359.66,891.74 L360.51,889.26 L361.35,887.01 L362.20,884.99 L363.05,883.20 L363.90,881.64 L364.75,880.32 L365.60,879.23 L366.45,878.39 L367.30,877.78 L368.15,877.42 L369.00,877.30 L369.85,877.42 L370.70,877.78 L371.55,878.39 L372.40,879.23 L373.25,880.32 L374.10,881.64 L374.95,883.20 L375.80,884.99 L376.65,887.01 L377.50,889.26 L378.34,891.74 L379.19,894.43 L380.04,897.35 L380.89,900.47 L381.74,903.80 L382.59,907.34 L383.44,911.08 L384.29,915.00 L385.14,919.12 L385.99,923.41 L386.84,927.88 L387.69,932.52 L388.54,937.32 L389.39,942.27 L390.24,947.37 L391.09,952.61 L391.94,957.98 L392.79,963.48 L393.64,969.09 L394.49,974.80 L395.33,980.62 L396.18,986.53 L397.03,992.52 L397.88,998.58 L398.73,1004.70 L399.58,1010.89 L400.43,1017.11 L401.28,1023.38 L402.13,1029.67 L402.98,1035.98 L403.83,1042.30 L404.68,1048.62 L405.53,1054.93 L406.38,1061.22 L407.23,1067.49 L408.08,1073.71 L408.93,1079.90 L409.78,1086.02 L410.63,1092.08 L411.48,1098.07 L412.32,1103.98 L413.17,1109.80 L414.02,1115.51 L414.87,1121.12 L415.72,1126.62 L416.57,1131.99 L417.42,1137.23 L418.27,1142.33 L419.12,1147.28 L419.97,1152.08 L420.82,1156.72 L421.67,1161.19 L422.52,1165.48 L423.37,1169.60 L424.22,1173.52 L425.07,1177.26 L425.92,1180.80 L426.77,1184.13 L427.62,1187.25 L428.47,1190.17 L429.31,1192.86 L430.16,1195.34 L431.01,1197.59 L431.86,1199.61 L432.71,1201.40 L433.56,1202.96 L434.41,1204.28 L435.26,1205.37 L436.11,1206.21 L436.96,1206.82 L437.81,1207.18 L438.66,1207.30 L439.51,1207.27 L440.36,1207.19 L441.21,1207.06 L442.06,1206.87 L442.91,1206.63 L443.76,1206.35 L444.61,1206.01 L445.46,1205.62 L446.30,1205.19 L447.15,1204.72 L448.00,1204.21 L448.85,1203.66 L449.70,1203.07 L450.55,1202.45 L451.40,1201.80 L452.25,1201.13 L453.10,1200.43 L453.95,1199.72 L454.80,1198.98 L455.65,1198.24 L456.50,1197.49 L457.35,1196.74 L458.20,1195.99 L459.05,1195.24 L459.90,1194.50 L460.75,1193.76 L461.60,1193.05 L462.45,1192.35 L463.29,1191.68 L464.14,1191.03 L464.99,1190.41 L465.84,1189.82 L466.69,1189.27 L467.54,1188.76 L468.39,1188.29 L469.24,1187.86 L470.09,1187.47 L470.94,1187.13 L471.79,1186.85 L472.64,1186.61 L473.49,1186.42 L474.34,1186.29 L475.19,1186.21 L476.04,1186.18 L476.89,1186.21 L477.74,1186.29 L478.59,1186.42 L479.44,1186.61 L480.28,1186.85 L481.13,1187.13 L481.98,1187.47 L482.83,1187.86 L483.68,1188.29 L484.53,1188.76 L485.38,1189.27 L486.23,1189.82 L487.08,1190.41 L487.93,1191.03 L488.78,1191.68 L489.63,1192.35 L490.48,1193.05 L491.33,1193.76 L492.18,1194.50 L493.03,1195.24 L493.88,1195.99 L494.73,1196.74 L495.58,1197.49 L496.43,1198.24 L497.27,1198.98 L498.12,1199.72 L498.97,1200.43 L499.82,1201.13 L500.67,1201.80 L501.52,1202.45 L502.37,1203.07 L503.22,1203.66 L504.07,1204.21 L504.92,1204.72 L505.77,1205.19 L506.62,1205.62 L507.47,1206.01 L508.32,1206.35 L509.17,1206.63 L510.02,1206.87 L510.87,1207.06 L511.72,1207.19 L512.57,1207.27 L513.41,1207.30 L514.26,1207.28 L515.11,1207.22 L515.96,1207.12 L516.81,1206.98 L517.66,1206.80 L518.51,1206.58 L519.36,1206.33 L520.21,1206.03 L521.06,1205.70 L521.91,1205.34 L522.76,1204.93 L523.61,1204.50 L524.46,1204.03 L525.31,1203.54 L526.16,1203.01 L527.01,1202.45 L527.86,1201.87 L528.71,1201.27 L529.56,1200.64 L530.40,1199.99 L531.25,1199.32 L532.10,1198.63 L532.95,1197.92 L533.80,1197.21 L534.65,1196.48 L535.50,1195.74 L536.35,1194.99 L537.20,1194.24 L538.05,1193.49 L538.90,1192.73 L539.75,1191.98 L540.60,1191.23 L541.45,1190.48 L542.30,1189.74 L543.15,1189.01 L544.00,1188.30 L544.85,1187.59 L545.70,1186.90 L546.55,1186.23 L547.39,1185.58 L548.24,1184.95 L549.09,1184.35 L549.94,1183.77 L550.79,1183.21 L551.64,1182.68 L552.49,1182.19 L553.34,1181.72 L554.19,1181.29 L555.04,1180.88 L555.89,1180.52 L556.74,1180.19 L557.59,1179.89 L558.44,1179.64 L559.29,1179.42 L560.14,1179.24 L560.99,1179.10 L561.84,1179.00 L562.69,1178.94 L563.54,1178.92 L564.39,1178.94 L565.23,1179.00 L566.08,1179.10 L566.93,1179.24 L567.78,1179.42 L568.63,1179.64 L569.48,1179.89 L570.33,1180.19 L571.18,1180.52 L572.03,1180.88 L572.88,1181.29 L573.73,1181.72 L574.58,1182.19 L575.43,1182.68 L576.28,1183.21 L577.13,1183.77 L577.98,1184.35 L578.83,1184.95 L579.68,1185.58 L580.53,1186.23 L581.38,1186.90 L582.22,1187.59 L583.07,1188.30 L583.92,1189.01 L584.77,1189.74 L585.62,1190.48 L586.47,1191.23 L587.32,1191.98 L588.17,1192.73 L589.02,1193.49 L589.87,1194.24 L590.72,1194.99 L591.57,1195.74 L592.42,1196.48 L593.27,1197.21 L594.12,1197.92 L594.97,1198.63 L595.82,1199.32 L596.67,1199.99 L597.52,1200.64 L598.37,1201.27 L599.21,1201.87 L600.06,1202.45 L600.91,1203.01 L601.76,1203.54 L602.61,1204.03 L603.46,1204.50 L604.31,1204.93 L605.16,1205.34 L606.01,1205.70 L606.86,1206.03 L607.71,1206.33 L608.56,1206.58 L609.41,1206.80 L610.26,1206.98 L611.11,1207.12 L611.96,1207.22 L612.81,1207.28 L613.66,1207.30 L614.51,1207.28 L615.36,1207.22 L616.20,1207.12 L617.05,1206.98 L617.90,1206.80 L618.75,1206.58 L619.60,1206.33 L620.45,1206.03 L621.30,1205.70 L622.15,1205.34 L623.00,1204.93 L623.85,1204.50 L624.70,1204.03 L625.55,1203.54 L626.40,1203.01 L627.25,1202.45 L628.10,1201.87" fill="none" stroke="#1c1cf5" stroke-width="2.6" stroke-linejoin="round"/>
<path d="M109.90,1205.65 L110.75,1205.17 L111.60,1204.68 L112.45,1204.19 L113.30,1203.69 L114.15,1203.19 L115.00,1202.69 L115.85,1202.18 L116.70,1201.67 L117.55,1201.16 L118.40,1200.64 L119.25,1200.12 L120.10,1199.59 L120.95,1199.06 L121.80,1198.53 L122.65,1197.99 L123.49,1197.45 L124.34,1196.91 L125.19,1196.37 L126.04,1195.82 L126.89,1195.26 L127.74,1194.71 L128.59,1194.15 L129.44,1193.58 L130.29,1193.02 L131.14,1192.45 L131.99,1191.87 L132.84,1191.26 L133.69,1190.63 L134.54,1189.99 L135.39,1189.33 L136.24,1188.65 L137.09,1187.97 L137.94,1187.28 L138.79,1186.58 L139.64,1185.88 L140.48,1185.18 L141.33,1184.49 L142.18,1183.80 L143.03,1183.12 L143.88,1182.45 L144.73,1181.79 L145.58,1181.15 L146.43,1180.53 L147.28,1179.93 L148.13,1179.35 L148.98,1178.81 L149.83,1178.29 L150.68,1177.80 L151.53,1177.35 L152.38,1176.94 L153.23,1176.54 L154.08,1176.14 L154.93,1175.74 L155.78,1175.33 L156.62,1174.93 L157.47,1174.53 L158.32,1174.13 L159.17,1173.75 L160.02,1173.37 L160.87,1173.00 L161.72,1172.64 L162.57,1172.30 L163.42,1171.97 L164.27,1171.66 L165.12,1171.37 L165.97,1171.11 L166.82,1170.87 L167.67,1170.65 L168.52,1170.46 L169.37,1170.30 L170.22,1170.18 L171.07,1170.09 L171.92,1170.03 L172.77,1170.01 L173.62,1170.04 L174.46,1170.12 L175.31,1170.25 L176.16,1170.43 L177.01,1170.65 L177.86,1170.92 L178.71,1171.22 L179.56,1171.56 L180.41,1171.92 L181.26,1172.32 L182.11,1172.74 L182.96,1173.18 L183.81,1173.64 L184.66,1174.12 L185.51,1174.60 L186.36,1175.10 L187.21,1175.60 L188.06,1176.10 L188.91,1176.61 L189.76,1177.11 L190.61,1177.60 L191.45,1178.12 L192.30,1178.69 L193.15,1179.32 L194.00,1179.99 L194.85,1180.71 L195.70,1181.46 L196.55,1182.23 L197.40,1183.03 L198.25,1183.85 L199.10,1184.69 L199.95,1185.52 L200.80,1186.36 L201.65,1187.20 L202.50,1188.02 L203.35,1188.83 L204.20,1189.62 L205.05,1190.38 L205.90,1191.11 L206.75,1191.80 L207.60,1192.45 L208.44,1193.09 L209.29,1193.76 L210.14,1194.46 L210.99,1195.17 L211.84,1195.89 L212.69,1196.62 L213.54,1197.33 L214.39,1198.04 L215.24,1198.72 L216.09,1199.37 L216.94,1199.98 L217.79,1200.55 L218.64,1201.07 L219.49,1201.53 L220.34,1201.93 L221.19,1202.24 L222.04,1202.48 L222.89,1202.63 L223.74,1202.68 L224.59,1202.68 L225.43,1202.68 L226.28,1202.68 L227.13,1202.68 L227.98,1202.68 L228.83,1202.68 L229.68,1202.68 L230.53,1202.68 L231.38,1202.68 L232.23,1202.68 L233.08,1202.68 L233.93,1202.68 L234.78,1202.68 L235.63,1202.68 L236.48,1202.68 L237.33,1202.68 L238.18,1202.65 L239.03,1202.56 L239.88,1202.42 L240.73,1202.23 L241.58,1202.00 L242.42,1201.74 L243.27,1201.45 L244.12,1201.13 L244.97,1200.79 L245.82,1200.45 L246.67,1200.09 L247.52,1199.74 L248.37,1199.39 L249.22,1199.05 L250.07,1198.73 L250.92,1198.43 L251.77,1198.15 L252.62,1197.91 L253.47,1197.71 L254.32,1197.56 L255.17,1197.45 L256.02,1197.40 L256.87,1197.40 L257.72,1197.43 L258.56,1197.47 L259.41,1197.53 L260.26,1197.60 L261.11,1197.69 L261.96,1197.79 L262.81,1197.90 L263.66,1198.03 L264.51,1198.16 L265.36,1198.30 L266.21,1198.45 L267.06,1198.60 L267.91,1198.76 L268.76,1198.92 L269.61,1199.08 L270.46,1199.31 L271.31,1199.60 L272.16,1199.96 L273.01,1200.37 L273.86,1200.81 L274.71,1201.27 L275.56,1201.74 L276.40,1202.21 L277.25,1202.67 L278.10,1203.09 L278.95,1203.48 L279.80,1203.80 L280.65,1204.06 L281.50,1204.24 L282.35,1204.33 L283.20,1204.26 L284.05,1203.94 L284.90,1203.41 L285.75,1202.70 L286.60,1201.86 L287.45,1200.95 L288.30,1199.99 L289.15,1199.05 L290.00,1197.99 L290.85,1196.70 L291.70,1195.22 L292.55,1193.58 L293.39,1191.85 L294.24,1190.06 L295.09,1188.27 L295.94,1186.50 L296.79,1184.82 L297.64,1183.25 L298.49,1181.86 L299.34,1180.68 L300.19,1179.66 L301.04,1178.73 L301.89,1177.89 L302.74,1177.11 L303.59,1176.37 L304.44,1175.65 L305.29,1174.94 L306.14,1174.22 L306.99,1173.46 L307.84,1172.65 L308.69,1171.76 L309.54,1170.79 L310.38,1169.70 L311.23,1168.52 L312.08,1167.29 L312.93,1165.94 L313.78,1164.40 L314.63,1162.58 L315.48,1160.41 L316.33,1157.80 L317.18,1153.25 L318.03,1145.89 L318.88,1136.63 L319.73,1126.38 L320.58,1116.05 L321.43,1106.53 L322.28,1098.73 L323.13,1092.50 L323.98,1086.87 L324.83,1081.58 L325.68,1076.36 L326.53,1070.95 L327.37,1065.28 L328.22,1059.56 L329.07,1053.80 L329.92,1048.04 L330.77,1042.29 L331.62,1036.56 L332.47,1030.80 L333.32,1025.05 L334.17,1019.32 L335.02,1013.64 L335.87,1008.01 L336.72,1002.39 L337.57,996.82 L338.42,991.30 L339.27,985.86 L340.12,980.50 L340.97,975.20 L341.82,969.96 L342.67,964.82 L343.51,959.79 L344.36,954.88 L345.21,950.05 L346.06,945.31 L346.91,940.69 L347.76,936.22 L348.61,931.91 L349.46,927.70 L350.31,923.60 L351.16,919.65 L352.01,915.87 L352.86,912.29 L353.71,908.84 L354.56,905.50 L355.41,902.33 L356.26,899.36 L357.11,896.63 L357.96,894.03 L358.81,891.55 L359.66,889.25 L360.51,887.18 L361.35,885.39 L362.20,883.72 L363.05,882.13 L363.90,880.73 L364.75,879.62 L365.60,878.92 L366.45,878.46 L367.30,878.05 L368.15,877.72 L369.00,877.51 L369.85,877.43 L370.70,877.64 L371.55,878.26 L372.40,879.17 L373.25,880.26 L374.10,881.42 L374.95,882.73 L375.80,884.42 L376.65,886.41 L377.50,888.61 L378.34,890.93 L379.19,893.39 L380.04,896.14 L380.89,899.14 L381.74,902.33 L382.59,905.66 L383.44,909.14 L384.29,912.85 L385.14,916.77 L385.99,920.87 L386.84,925.11 L387.69,929.46 L388.54,934.01 L389.39,938.73 L390.24,943.60 L391.09,948.59 L391.94,953.66 L392.79,958.89 L393.64,964.26 L394.49,969.74 L395.33,975.30 L396.18,980.92 L397.03,986.65 L397.88,992.47 L398.73,998.37 L399.58,1004.32 L400.43,1010.29 L401.28,1016.32 L402.13,1022.41 L402.98,1028.53 L403.83,1034.65 L404.68,1040.76 L405.53,1046.88 L406.38,1053.02 L407.23,1059.15 L408.08,1065.25 L408.93,1071.28 L409.78,1077.19 L410.63,1083.00 L411.48,1088.81 L412.32,1094.71 L413.17,1100.81 L414.02,1107.50 L414.87,1114.92 L415.72,1122.76 L416.57,1130.73 L417.42,1138.52 L418.27,1145.83 L419.12,1152.35 L419.97,1157.79 L420.82,1161.85 L421.67,1164.58 L422.52,1166.90 L423.37,1168.93 L424.22,1170.72 L425.07,1172.32 L425.92,1173.79 L426.77,1175.18 L427.62,1176.55 L428.47,1177.93 L429.31,1179.40 L430.16,1180.89 L431.01,1182.33 L431.86,1183.74 L432.71,1185.11 L433.56,1186.45 L434.41,1187.77 L435.26,1189.06 L436.11,1190.33 L436.96,1191.58 L437.81,1192.83 L438.66,1194.18 L439.51,1195.63 L440.36,1197.14 L441.21,1198.65 L442.06,1200.13 L442.91,1201.53 L443.76,1202.79 L444.61,1203.88 L445.46,1204.75 L446.30,1205.35 L447.15,1205.63 L448.00,1205.62 L448.85,1205.48 L449.70,1205.24 L450.55,1204.92 L451.40,1204.53 L452.25,1204.08 L453.10,1203.60 L453.95,1203.09 L454.80,1202.57 L455.65,1202.05 L456.50,1201.56 L457.35,1201.10 L458.20,1200.70 L459.05,1200.32 L459.90,1199.92 L460.75,1199.50 L461.60,1199.07 L462.45,1198.63 L463.29,1198.19 L464.14,1197.74 L464.99,1197.29 L465.84,1196.84 L466.69,1196.39 L467.54,1195.95 L468.39,1195.51 L469.24,1195.09 L470.09,1194.68 L470.94,1194.28 L471.79,1193.91 L472.64,1193.56 L473.49,1193.23 L474.34,1192.92 L475.19,1192.65 L476.04,1192.40 L476.89,1192.19 L477.74,1192.02 L478.59,1191.88 L479.44,1191.79 L480.28,1191.72 L481.13,1191.66 L481.98,1191.60 L482.83,1191.54 L483.68,1191.49 L484.53,1191.45 L485.38,1191.40 L486.23,1191.36 L487.08,1191.32 L487.93,1191.29 L488.78,1191.25 L489.63,1191.22 L490.48,1191.19 L491.33,1191.16 L492.18,1191.13 L493.03,1191.10 L493.88,1191.07 L494.73,1191.05 L495.58,1191.02 L496.43,1190.98 L497.27,1190.95 L498.12,1190.92 L498.97,1190.88 L499.82,1190.84 L500.67,1190.80 L501.52,1190.76 L502.37,1190.72 L503.22,1190.68 L504.07,1190.64 L504.92,1190.60 L505.77,1190.56 L506.62,1190.52 L507.47,1190.48 L508.32,1190.44 L509.17,1190.39 L510.02,1190.35 L510.87,1190.31 L511.72,1190.26 L512.57,1190.21 L513.41,1190.16 L514.26,1190.11 L515.11,1190.06 L515.96,1190.00 L516.81,1189.94 L517.66,1189.88 L518.51,1189.81 L519.36,1189.73 L520.21,1189.64 L521.06,1189.53 L521.91,1189.41 L522.76,1189.27 L523.61,1189.12 L524.46,1188.96 L525.31,1188.79 L526.16,1188.61 L527.01,1188.42 L527.86,1188.22 L528.71,1188.02 L529.56,1187.81 L530.40,1187.60 L531.25,1187.39 L532.10,1187.17 L532.95,1186.95 L533.80,1186.73 L534.65,1186.51 L535.50,1186.30 L536.35,1186.08 L537.20,1185.87 L538.05,1185.67 L538.90,1185.47 L539.75,1185.28 L540.60,1185.09 L541.45,1184.92 L542.30,1184.75 L543.15,1184.60 L544.00,1184.46 L544.85,1184.33 L545.70,1184.21 L546.55,1184.11 L547.39,1184.03 L548.24,1183.96 L549.09,1183.91 L549.94,1183.88 L550.79,1183.87 L551.64,1183.88 L552.49,1183.90 L553.34,1183.95 L554.19,1184.00 L555.04,1184.08 L555.89,1184.16 L556.74,1184.27 L557.59,1184.38 L558.44,1184.51 L559.29,1184.64 L560.14,1184.79 L560.99,1184.95 L561.84,1185.12 L562.69,1185.30 L563.54,1185.49 L564.39,1185.68 L565.23,1185.88 L566.08,1186.09 L566.93,1186.30 L567.78,1186.52 L568.63,1186.74 L569.48,1186.97 L570.33,1187.20 L571.18,1187.43 L572.03,1187.66 L572.88,1187.90 L573.73,1188.13 L574.58,1188.36 L575.43,1188.60 L576.28,1188.83 L577.13,1189.06 L577.98,1189.28 L578.83,1189.50 L579.68,1189.72 L580.53,1189.93 L581.38,1190.14 L582.22,1190.35 L583.07,1190.56 L583.92,1190.78 L584.77,1191.00 L585.62,1191.23 L586.47,1191.47 L587.32,1191.71 L588.17,1191.95 L589.02,1192.20 L589.87,1192.44 L590.72,1192.70 L591.57,1192.95 L592.42,1193.20 L593.27,1193.46 L594.12,1193.72 L594.97,1193.98 L595.82,1194.24 L596.67,1194.49 L597.52,1194.75 L598.37,1195.01 L599.21,1195.26 L600.06,1195.51 L600.91,1195.76 L601.76,1196.01 L602.61,1196.25 L603.46,1196.49 L604.31,1196.72 L605.16,1196.95 L606.01,1197.18 L606.86,1197.40 L607.71,1197.62 L608.56,1197.83 L609.41,1198.04 L610.26,1198.26 L611.11,1198.47 L611.96,1198.68 L612.81,1198.88 L613.66,1199.09 L614.51,1199.29 L615.36,1199.50 L616.20,1199.70 L617.05,1199.90 L617.90,1200.10 L618.75,1200.29 L619.60,1200.49 L620.45,1200.68 L621.30,1200.87 L622.15,1201.06 L623.00,1201.25 L623.85,1201.44 L624.70,1201.62 L625.55,1201.81 L626.40,1201.99 L627.25,1202.17 L628.10,1202.35" fill="none" stroke="#111" stroke-width="2.6" stroke-dasharray="6 3.5"/>
<path d="M109.90,1199.38 L110.75,1199.12 L111.60,1198.86 L112.45,1198.59 L113.30,1198.33 L114.15,1198.06 L115.00,1197.79 L115.85,1197.52 L116.70,1197.24 L117.55,1196.97 L118.40,1196.69 L119.25,1196.41 L120.10,1196.14 L120.95,1195.85 L121.80,1195.57 L122.65,1195.29 L123.49,1195.00 L124.34,1194.72 L125.19,1194.43 L126.04,1194.14 L126.89,1193.86 L127.74,1193.58 L128.59,1193.29 L129.44,1193.01 L130.29,1192.71 L131.14,1192.42 L131.99,1192.11 L132.84,1191.80 L133.69,1191.47 L134.54,1191.13 L135.39,1190.77 L136.24,1190.40 L137.09,1190.00 L137.94,1189.60 L138.79,1189.18 L139.64,1188.75 L140.48,1188.32 L141.33,1187.89 L142.18,1187.45 L143.03,1187.02 L143.88,1186.60 L144.73,1186.18 L145.58,1185.76 L146.43,1185.34 L147.28,1184.91 L148.13,1184.47 L148.98,1184.04 L149.83,1183.61 L150.68,1183.18 L151.53,1182.76 L152.38,1182.36 L153.23,1181.96 L154.08,1181.59 L154.93,1181.23 L155.78,1180.88 L156.62,1180.53 L157.47,1180.19 L158.32,1179.85 L159.17,1179.52 L160.02,1179.21 L160.87,1178.91 L161.72,1178.63 L162.57,1178.37 L163.42,1178.13 L164.27,1177.93 L165.12,1177.74 L165.97,1177.57 L166.82,1177.40 L167.67,1177.24 L168.52,1177.09 L169.37,1176.95 L170.22,1176.81 L171.07,1176.69 L171.92,1176.57 L172.77,1176.46 L173.62,1176.37 L174.46,1176.28 L175.31,1176.20 L176.16,1176.11 L177.01,1176.03 L177.86,1175.95 L178.71,1175.87 L179.56,1175.80 L180.41,1175.74 L181.26,1175.69 L182.11,1175.65 L182.96,1175.63 L183.81,1175.62 L184.66,1175.64 L185.51,1175.70 L186.36,1175.79 L187.21,1175.92 L188.06,1176.07 L188.91,1176.24 L189.76,1176.44 L190.61,1176.64 L191.45,1176.86 L192.30,1177.08 L193.15,1177.30 L194.00,1177.52 L194.85,1177.73 L195.70,1177.93 L196.55,1178.13 L197.40,1178.33 L198.25,1178.53 L199.10,1178.74 L199.95,1178.96 L200.80,1179.18 L201.65,1179.41 L202.50,1179.64 L203.35,1179.89 L204.20,1180.14 L205.05,1180.40 L205.90,1180.67 L206.75,1180.94 L207.60,1181.23 L208.44,1181.53 L209.29,1181.85 L210.14,1182.19 L210.99,1182.55 L211.84,1182.92 L212.69,1183.30 L213.54,1183.69 L214.39,1184.10 L215.24,1184.50 L216.09,1184.92 L216.94,1185.34 L217.79,1185.76 L218.64,1186.18 L219.49,1186.60 L220.34,1187.04 L221.19,1187.47 L222.04,1187.92 L222.89,1188.37 L223.74,1188.83 L224.59,1189.30 L225.43,1189.78 L226.28,1190.26 L227.13,1190.75 L227.98,1191.25 L228.83,1191.75 L229.68,1192.26 L230.53,1192.78 L231.38,1193.32 L232.23,1193.90 L233.08,1194.51 L233.93,1195.13 L234.78,1195.77 L235.63,1196.42 L236.48,1197.05 L237.33,1197.68 L238.18,1198.29 L239.03,1198.87 L239.88,1199.42 L240.73,1199.92 L241.58,1200.37 L242.42,1200.80 L243.27,1201.25 L244.12,1201.70 L244.97,1202.15 L245.82,1202.59 L246.67,1203.02 L247.52,1203.42 L248.37,1203.79 L249.22,1204.13 L250.07,1204.42 L250.92,1204.66 L251.77,1204.84 L252.62,1204.95 L253.47,1204.99 L254.32,1204.96 L255.17,1204.87 L256.02,1204.73 L256.87,1204.54 L257.72,1204.31 L258.56,1204.03 L259.41,1203.72 L260.26,1203.37 L261.11,1202.99 L261.96,1202.59 L262.81,1202.16 L263.66,1201.72 L264.51,1201.26 L265.36,1200.78 L266.21,1200.16 L267.06,1199.41 L267.91,1198.54 L268.76,1197.56 L269.61,1196.48 L270.46,1195.32 L271.31,1194.10 L272.16,1192.82 L273.01,1191.51 L273.86,1190.17 L274.71,1188.82 L275.56,1187.41 L276.40,1185.88 L277.25,1184.25 L278.10,1182.53 L278.95,1180.71 L279.80,1178.82 L280.65,1176.86 L281.50,1174.85 L282.35,1172.78 L283.20,1170.68 L284.05,1168.54 L284.90,1166.38 L285.75,1164.18 L286.60,1161.91 L287.45,1159.57 L288.30,1157.17 L289.15,1154.70 L290.00,1152.17 L290.85,1149.57 L291.70,1146.91 L292.55,1144.19 L293.39,1141.41 L294.24,1138.57 L295.09,1135.67 L295.94,1132.72 L296.79,1129.63 L297.64,1126.37 L298.49,1122.94 L299.34,1119.41 L300.19,1115.78 L301.04,1112.11 L301.89,1108.41 L302.74,1104.74 L303.59,1101.10 L304.44,1097.55 L305.29,1094.12 L306.14,1090.82 L306.99,1087.68 L307.84,1084.66 L308.69,1081.73 L309.54,1078.87 L310.38,1076.05 L311.23,1073.25 L312.08,1070.44 L312.93,1067.60 L313.78,1064.70 L314.63,1061.71 L315.48,1058.61 L316.33,1055.38 L317.18,1051.99 L318.03,1048.39 L318.88,1044.55 L319.73,1040.47 L320.58,1036.20 L321.43,1031.78 L322.28,1027.25 L323.13,1022.65 L323.98,1018.01 L324.83,1013.37 L325.68,1008.78 L326.53,1004.27 L327.37,999.89 L328.22,995.63 L329.07,991.33 L329.92,986.99 L330.77,982.63 L331.62,978.27 L332.47,973.94 L333.32,969.67 L334.17,965.48 L335.02,961.40 L335.87,957.44 L336.72,953.64 L337.57,950.02 L338.42,946.60 L339.27,943.33 L340.12,940.14 L340.97,937.03 L341.82,934.00 L342.67,931.04 L343.51,928.17 L344.36,925.38 L345.21,922.67 L346.06,920.05 L346.91,917.51 L347.76,915.06 L348.61,912.69 L349.46,910.42 L350.31,908.22 L351.16,906.05 L352.01,903.92 L352.86,901.84 L353.71,899.80 L354.56,897.83 L355.41,895.93 L356.26,894.11 L357.11,892.38 L357.96,890.75 L358.81,889.22 L359.66,887.82 L360.51,886.54 L361.35,885.30 L362.20,884.03 L363.05,882.76 L363.90,881.54 L364.75,880.41 L365.60,879.39 L366.45,878.53 L367.30,877.87 L368.15,877.45 L369.00,877.30 L369.85,877.45 L370.70,877.87 L371.55,878.53 L372.40,879.39 L373.25,880.41 L374.10,881.54 L374.95,882.76 L375.80,884.03 L376.65,885.30 L377.50,886.54 L378.34,887.82 L379.19,889.22 L380.04,890.75 L380.89,892.38 L381.74,894.11 L382.59,895.93 L383.44,897.83 L384.29,899.80 L385.14,901.84 L385.99,903.92 L386.84,906.05 L387.69,908.22 L388.54,910.42 L389.39,912.69 L390.24,915.06 L391.09,917.51 L391.94,920.05 L392.79,922.67 L393.64,925.38 L394.49,928.17 L395.33,931.04 L396.18,934.00 L397.03,937.03 L397.88,940.14 L398.73,943.33 L399.58,946.60 L400.43,950.02 L401.28,953.64 L402.13,957.44 L402.98,961.40 L403.83,965.48 L404.68,969.67 L405.53,973.94 L406.38,978.27 L407.23,982.63 L408.08,986.99 L408.93,991.33 L409.78,995.63 L410.63,999.89 L411.48,1004.27 L412.32,1008.78 L413.17,1013.37 L414.02,1018.01 L414.87,1022.65 L415.72,1027.25 L416.57,1031.78 L417.42,1036.20 L418.27,1040.47 L419.12,1044.55 L419.97,1048.39 L420.82,1051.99 L421.67,1055.38 L422.52,1058.61 L423.37,1061.71 L424.22,1064.70 L425.07,1067.60 L425.92,1070.44 L426.77,1073.25 L427.62,1076.05 L428.47,1078.87 L429.31,1081.73 L430.16,1084.66 L431.01,1087.68 L431.86,1090.82 L432.71,1094.12 L433.56,1097.55 L434.41,1101.10 L435.26,1104.74 L436.11,1108.41 L436.96,1112.11 L437.81,1115.78 L438.66,1119.41 L439.51,1122.94 L440.36,1126.37 L441.21,1129.63 L442.06,1132.72 L442.91,1135.67 L443.76,1138.57 L444.61,1141.41 L445.46,1144.19 L446.30,1146.91 L447.15,1149.57 L448.00,1152.17 L448.85,1154.70 L449.70,1157.17 L450.55,1159.57 L451.40,1161.91 L452.25,1164.18 L453.10,1166.38 L453.95,1168.54 L454.80,1170.68 L455.65,1172.78 L456.50,1174.85 L457.35,1176.86 L458.20,1178.82 L459.05,1180.71 L459.90,1182.53 L460.75,1184.25 L461.60,1185.88 L462.45,1187.41 L463.29,1188.82 L464.14,1190.17 L464.99,1191.51 L465.84,1192.82 L466.69,1194.10 L467.54,1195.32 L468.39,1196.48 L469.24,1197.56 L470.09,1198.54 L470.94,1199.41 L471.79,1200.16 L472.64,1200.78 L473.49,1201.26 L474.34,1201.72 L475.19,1202.16 L476.04,1202.59 L476.89,1202.99 L477.74,1203.37 L478.59,1203.72 L479.44,1204.03 L480.28,1204.31 L481.13,1204.54 L481.98,1204.73 L482.83,1204.87 L483.68,1204.96 L484.53,1204.99 L485.38,1204.95 L486.23,1204.84 L487.08,1204.66 L487.93,1204.42 L488.78,1204.13 L489.63,1203.79 L490.48,1203.42 L491.33,1203.02 L492.18,1202.59 L493.03,1202.15 L493.88,1201.70 L494.73,1201.25 L495.58,1200.80 L496.43,1200.37 L497.27,1199.92 L498.12,1199.42 L498.97,1198.87 L499.82,1198.29 L500.67,1197.68 L501.52,1197.05 L502.37,1196.42 L503.22,1195.77 L504.07,1195.13 L504.92,1194.51 L505.77,1193.90 L506.62,1193.32 L507.47,1192.78 L508.32,1192.26 L509.17,1191.75 L510.02,1191.25 L510.87,1190.75 L511.72,1190.26 L512.57,1189.78 L513.41,1189.30 L514.26,1188.83 L515.11,1188.37 L515.96,1187.92 L516.81,1187.47 L517.66,1187.04 L518.51,1186.60 L519.36,1186.18 L520.21,1185.76 L521.06,1185.34 L521.91,1184.92 L522.76,1184.50 L523.61,1184.10 L524.46,1183.69 L525.31,1183.30 L526.16,1182.92 L527.01,1182.55 L527.86,1182.19 L528.71,1181.85 L529.56,1181.53 L530.40,1181.23 L531.25,1180.94 L532.10,1180.67 L532.95,1180.40 L533.80,1180.14 L534.65,1179.89 L535.50,1179.64 L536.35,1179.41 L537.20,1179.18 L538.05,1178.96 L538.90,1178.74 L539.75,1178.53 L540.60,1178.33 L541.45,1178.13 L542.30,1177.93 L543.15,1177.73 L544.00,1177.52 L544.85,1177.30 L545.70,1177.08 L546.55,1176.86 L547.39,1176.64 L548.24,1176.44 L549.09,1176.24 L549.94,1176.07 L550.79,1175.92 L551.64,1175.79 L552.49,1175.70 L553.34,1175.64 L554.19,1175.62 L555.04,1175.63 L555.89,1175.65 L556.74,1175.69 L557.59,1175.74 L558.44,1175.80 L559.29,1175.87 L560.14,1175.95 L560.99,1176.03 L561.84,1176.11 L562.69,1176.20 L563.54,1176.28 L564.39,1176.37 L565.23,1176.46 L566.08,1176.57 L566.93,1176.69 L567.78,1176.81 L568.63,1176.95 L569.48,1177.09 L570.33,1177.24 L571.18,1177.40 L572.03,1177.57 L572.88,1177.74 L573.73,1177.93 L574.58,1178.13 L575.43,1178.37 L576.28,1178.63 L577.13,1178.91 L577.98,1179.21 L578.83,1179.52 L579.68,1179.85 L580.53,1180.19 L581.38,1180.53 L582.22,1180.88 L583.07,1181.23 L583.92,1181.59 L584.77,1181.96 L585.62,1182.36 L586.47,1182.76 L587.32,1183.18 L588.17,1183.61 L589.02,1184.04 L589.87,1184.47 L590.72,1184.91 L591.57,1185.34 L592.42,1185.76 L593.27,1186.18 L594.12,1186.60 L594.97,1187.02 L595.82,1187.45 L596.67,1187.89 L597.52,1188.32 L598.37,1188.75 L599.21,1189.18 L600.06,1189.60 L600.91,1190.00 L601.76,1190.40 L602.61,1190.77 L603.46,1191.13 L604.31,1191.47 L605.16,1191.80 L606.01,1192.11 L606.86,1192.42 L607.71,1192.71 L608.56,1193.01 L609.41,1193.29 L610.26,1193.58 L611.11,1193.86 L611.96,1194.14 L612.81,1194.43 L613.66,1194.72 L614.51,1195.00 L615.36,1195.29 L616.20,1195.57 L617.05,1195.85 L617.90,1196.14 L618.75,1196.41 L619.60,1196.69 L620.45,1196.97 L621.30,1197.24 L622.15,1197.52 L623.00,1197.79 L623.85,1198.06 L624.70,1198.33 L625.55,1198.59 L626.40,1198.86 L627.25,1199.12 L628.10,1199.38" fill="none" stroke="#f50f0f" stroke-width="2.5" stroke-linejoin="round"/>
<polyline points="109.9,1204.7 111.6,1204.4 113.4,1204.1 115.1,1203.7 116.8,1203.2 118.6,1202.6 120.3,1201.9 122.0,1200.9 123.8,1199.9 125.5,1198.7 127.2,1197.6 129.0,1196.5 130.7,1195.6 132.4,1194.7 134.2,1193.8 135.9,1192.9 137.6,1192.0 139.4,1191.1 141.1,1190.3 142.8,1189.4 144.6,1188.5 146.3,1187.7 148.0,1186.8 149.8,1186.0 151.5,1185.1 153.2,1184.3 155.0,1183.5 156.7,1182.7 158.4,1181.9 160.2,1181.1 161.9,1180.4 163.6,1179.8 165.4,1179.3 167.1,1178.8 168.8,1178.4 170.6,1178.0 172.3,1177.6 174.0,1177.3 175.8,1177.0 177.5,1176.7 179.2,1176.4 181.0,1176.1 182.7,1175.8 184.4,1175.7 186.2,1175.6 187.9,1175.8 189.6,1176.1 191.4,1176.6 193.1,1177.2 194.8,1177.8 196.6,1178.4 198.3,1178.9 200.0,1179.5 201.8,1180.1 203.5,1180.7 205.2,1181.4 207.0,1182.1 208.7,1182.8 210.4,1183.7 212.2,1184.5 213.9,1185.4 215.6,1186.3 217.4,1187.2 219.1,1188.0 220.8,1188.9 222.6,1189.7 224.3,1190.6 226.0,1191.4 227.8,1192.2 229.5,1193.0 231.2,1193.9 233.0,1194.8 234.7,1195.8 236.4,1196.7 238.2,1197.6 239.9,1198.1 241.6,1198.4 243.4,1198.3 245.1,1197.9 246.8,1197.3 248.5,1196.5 250.3,1195.6 252.0,1194.6 253.7,1193.6 255.5,1192.5 257.2,1191.4 258.9,1190.0 260.7,1188.5 262.4,1186.9 264.1,1185.1 265.9,1183.2 267.6,1181.3 269.3,1179.2 271.1,1177.0 272.8,1174.6 274.5,1171.8 276.3,1168.7 278.0,1165.0 279.7,1160.2 281.5,1154.3 283.2,1147.8 284.9,1141.1 286.7,1134.3 288.4,1126.9 290.1,1119.1 291.9,1111.1 293.6,1103.3 295.3,1095.8 297.1,1088.5 298.8,1081.2 300.5,1073.9 302.3,1066.5 304.0,1058.7 305.7,1050.7 307.5,1043.0 309.2,1036.2 310.9,1030.5 312.7,1025.7 314.4,1021.2 316.1,1016.8 317.9,1012.0 319.6,1006.6 321.3,1000.9 323.1,994.7 324.8,988.0 326.5,980.5 328.3,970.9 330.0,959.9 331.7,950.3 333.5,943.2 335.2,937.1 336.9,931.6 338.7,926.6 340.4,921.8 342.1,917.1 343.9,912.4 345.6,907.9 347.3,903.7 349.1,899.9 350.8,896.5 352.5,893.4 354.3,890.4 356.0,887.6 357.7,885.2 359.5,883.2 361.2,881.7 362.9,880.2 364.7,879.0 366.4,878.0 368.1,877.4 369.9,877.4 371.6,878.1 373.3,879.3 375.1,880.8 376.8,882.5 378.5,884.4 380.3,887.1 382.0,890.3 383.7,893.9 385.5,897.6 387.2,901.4 388.9,905.4 390.7,909.8 392.4,914.6 394.1,919.9 395.9,926.0 397.6,932.8 399.3,940.1 401.1,947.9 402.8,956.6 404.5,966.2 406.3,975.5 408.0,983.5 409.7,991.0 411.5,997.9 413.2,1004.4 414.9,1010.2 416.7,1015.2 418.4,1019.6 420.1,1023.9 421.9,1028.6 423.6,1034.3 425.3,1041.9 427.1,1051.3 428.8,1061.3 430.5,1070.8 432.3,1080.4 434.0,1089.9 435.7,1098.6 437.5,1106.9 439.2,1114.9 440.9,1122.4 442.7,1129.4 444.4,1136.1 446.1,1142.4 447.9,1148.4 449.6,1153.8 451.3,1158.8 453.1,1163.6 454.8,1167.9 456.5,1171.9 458.3,1175.4 460.0,1178.6 461.7,1181.5 463.5,1184.3 465.2,1186.8 466.9,1189.2 468.7,1191.9 470.4,1194.6 472.1,1196.8 473.9,1198.0 475.6,1198.0 477.3,1197.6 479.1,1197.1 480.8,1196.3 482.5,1195.5 484.3,1194.5 486.0,1193.5 487.7,1192.6 489.5,1191.6 491.2,1190.4 492.9,1189.2 494.6,1187.8 496.4,1186.3 498.1,1184.9 499.8,1183.4 501.6,1181.9 503.3,1180.5 505.0,1179.2 506.8,1177.8 508.5,1176.5 510.2,1175.2 512.0,1173.8 513.7,1172.5 515.4,1171.2 517.2,1170.0 518.9,1168.9 520.6,1167.8 522.4,1166.8 524.1,1165.8 525.8,1164.8 527.6,1163.9 529.3,1163.1 531.0,1162.3 532.8,1161.6 534.5,1161.1 536.2,1160.7 538.0,1160.3 539.7,1159.9 541.4,1159.6 543.2,1159.4 544.9,1159.2 546.6,1159.1 548.4,1159.2 550.1,1159.4 551.8,1159.8 553.6,1160.2 555.3,1160.8 557.0,1161.4 558.8,1162.0 560.5,1162.5 562.2,1163.2 564.0,1164.0 565.7,1164.9 567.4,1165.9 569.2,1166.9 570.9,1167.9 572.6,1169.0 574.4,1170.0 576.1,1171.1 577.8,1172.1 579.6,1173.1 581.3,1174.1 583.0,1175.1 584.8,1176.1 586.5,1177.2 588.2,1178.2 590.0,1179.2 591.7,1180.2 593.4,1181.2 595.2,1182.1 596.9,1183.1 598.6,1184.0 600.4,1185.0 602.1,1185.9 603.8,1186.8 605.6,1187.7 607.3,1188.5 609.0,1189.3 610.8,1190.0 612.5,1190.7 614.2,1191.4 616.0,1192.0 617.7,1192.6 619.4,1193.2 621.2,1193.8 622.9,1194.3 624.6,1194.8 626.4,1195.3 628.1,1195.8" fill="none" stroke="#14ec14" stroke-width="2.5" stroke-dasharray="6 3"/>
<ellipse cx="107.5" cy="1200.1" rx="4.1" ry="3.3" fill="#f50f0f"/>
<ellipse cx="118.0" cy="1196.8" rx="4.1" ry="3.3" fill="#f50f0f"/>
<ellipse cx="128.5" cy="1193.3" rx="4.1" ry="3.3" fill="#f50f0f"/>
<ellipse cx="139.0" cy="1189.1" rx="4.1" ry="3.3" fill="#f50f0f"/>
<ellipse cx="149.5" cy="1183.8" rx="4.1" ry="3.3" fill="#f50f0f"/>
<ellipse cx="160.0" cy="1179.2" rx="4.1" ry="3.3" fill="#f50f0f"/>
<ellipse cx="170.5" cy="1176.8" rx="4.1" ry="3.3" fill="#f50f0f"/>
<ellipse cx="181.0" cy="1175.7" rx="4.1" ry="3.3" fill="#f50f0f"/>
<ellipse cx="191.5" cy="1176.9" rx="4.1" ry="3.3" fill="#f50f0f"/>
<ellipse cx="202.0" cy="1179.5" rx="4.1" ry="3.3" fill="#f50f0f"/>
<ellipse cx="212.5" cy="1183.2" rx="4.1" ry="3.3" fill="#f50f0f"/>
<ellipse cx="223.0" cy="1188.5" rx="4.1" ry="3.3" fill="#f50f0f"/>
<ellipse cx="233.6" cy="1194.9" rx="4.1" ry="3.3" fill="#f50f0f"/>
<ellipse cx="244.1" cy="1201.7" rx="4.1" ry="3.3" fill="#f50f0f"/>
<ellipse cx="254.6" cy="1204.9" rx="4.1" ry="3.3" fill="#f50f0f"/>
<ellipse cx="265.1" cy="1200.9" rx="4.1" ry="3.3" fill="#f50f0f"/>
<ellipse cx="275.6" cy="1187.3" rx="4.1" ry="3.3" fill="#f50f0f"/>
<ellipse cx="286.1" cy="1163.3" rx="4.1" ry="3.3" fill="#f50f0f"/>
<ellipse cx="296.6" cy="1130.3" rx="4.1" ry="3.3" fill="#f50f0f"/>
<ellipse cx="307.1" cy="1087.2" rx="4.1" ry="3.3" fill="#f50f0f"/>
<ellipse cx="317.6" cy="1050.1" rx="4.1" ry="3.3" fill="#f50f0f"/>
<ellipse cx="328.1" cy="996.1" rx="4.1" ry="3.3" fill="#f50f0f"/>
<ellipse cx="338.6" cy="945.7" rx="4.1" ry="3.3" fill="#f50f0f"/>
<ellipse cx="349.1" cy="911.2" rx="4.1" ry="3.3" fill="#f50f0f"/>
<ellipse cx="359.7" cy="887.8" rx="4.1" ry="3.3" fill="#f50f0f"/>
<ellipse cx="378.3" cy="887.8" rx="4.1" ry="3.3" fill="#f50f0f"/>
<ellipse cx="388.9" cy="911.2" rx="4.1" ry="3.3" fill="#f50f0f"/>
<ellipse cx="399.4" cy="945.7" rx="4.1" ry="3.3" fill="#f50f0f"/>
<ellipse cx="409.9" cy="996.1" rx="4.1" ry="3.3" fill="#f50f0f"/>
<ellipse cx="420.4" cy="1050.1" rx="4.1" ry="3.3" fill="#f50f0f"/>
<ellipse cx="430.9" cy="1087.2" rx="4.1" ry="3.3" fill="#f50f0f"/>
<ellipse cx="441.4" cy="1130.3" rx="4.1" ry="3.3" fill="#f50f0f"/>
<ellipse cx="451.9" cy="1163.3" rx="4.1" ry="3.3" fill="#f50f0f"/>
<ellipse cx="462.4" cy="1187.3" rx="4.1" ry="3.3" fill="#f50f0f"/>
<ellipse cx="472.9" cy="1200.9" rx="4.1" ry="3.3" fill="#f50f0f"/>
<ellipse cx="483.4" cy="1204.9" rx="4.1" ry="3.3" fill="#f50f0f"/>
<ellipse cx="493.9" cy="1201.7" rx="4.1" ry="3.3" fill="#f50f0f"/>
<ellipse cx="504.4" cy="1194.9" rx="4.1" ry="3.3" fill="#f50f0f"/>
<ellipse cx="515.0" cy="1188.5" rx="4.1" ry="3.3" fill="#f50f0f"/>
<ellipse cx="525.5" cy="1183.2" rx="4.1" ry="3.3" fill="#f50f0f"/>
<ellipse cx="536.0" cy="1179.5" rx="4.1" ry="3.3" fill="#f50f0f"/>
<ellipse cx="546.5" cy="1176.9" rx="4.1" ry="3.3" fill="#f50f0f"/>
<ellipse cx="557.0" cy="1175.7" rx="4.1" ry="3.3" fill="#f50f0f"/>
<ellipse cx="567.5" cy="1176.8" rx="4.1" ry="3.3" fill="#f50f0f"/>
<ellipse cx="578.0" cy="1179.2" rx="4.1" ry="3.3" fill="#f50f0f"/>
<ellipse cx="588.5" cy="1183.8" rx="4.1" ry="3.3" fill="#f50f0f"/>
<ellipse cx="599.0" cy="1189.1" rx="4.1" ry="3.3" fill="#f50f0f"/>
<ellipse cx="609.5" cy="1193.3" rx="4.1" ry="3.3" fill="#f50f0f"/>
<ellipse cx="620.0" cy="1196.8" rx="4.1" ry="3.3" fill="#f50f0f"/>
<ellipse cx="630.5" cy="1200.1" rx="4.1" ry="3.3" fill="#f50f0f"/>
<ellipse cx="369.0" cy="877.3" rx="4.3" ry="3.5" fill="#14ec14"/>
<ellipse cx="379.0" cy="885.1" rx="4.3" ry="3.5" fill="#14ec14"/>
<ellipse cx="388.7" cy="904.9" rx="4.3" ry="3.5" fill="#14ec14"/>
<ellipse cx="397.9" cy="934.2" rx="4.3" ry="3.5" fill="#14ec14"/>
<ellipse cx="406.4" cy="976.3" rx="4.3" ry="3.5" fill="#14ec14"/>
<ellipse cx="415.4" cy="1011.7" rx="4.3" ry="3.5" fill="#14ec14"/>
<ellipse cx="424.8" cy="1039.4" rx="4.3" ry="3.5" fill="#14ec14"/>
<ellipse cx="433.0" cy="1084.7" rx="4.3" ry="3.5" fill="#14ec14"/>
<ellipse cx="441.7" cy="1125.4" rx="4.3" ry="3.5" fill="#14ec14"/>
<ellipse cx="450.7" cy="1157.1" rx="4.3" ry="3.5" fill="#14ec14"/>
<ellipse cx="460.4" cy="1179.3" rx="4.3" ry="3.5" fill="#14ec14"/>
<ellipse cx="470.2" cy="1194.2" rx="4.3" ry="3.5" fill="#14ec14"/>
<ellipse cx="480.2" cy="1196.6" rx="4.3" ry="3.5" fill="#14ec14"/>
<ellipse cx="490.1" cy="1191.1" rx="4.3" ry="3.5" fill="#14ec14"/>
<ellipse cx="500.1" cy="1183.2" rx="4.3" ry="3.5" fill="#14ec14"/>
<ellipse cx="510.0" cy="1175.4" rx="4.3" ry="3.5" fill="#14ec14"/>
<ellipse cx="520.0" cy="1168.2" rx="4.3" ry="3.5" fill="#14ec14"/>
<ellipse cx="530.0" cy="1162.8" rx="4.3" ry="3.5" fill="#14ec14"/>
<ellipse cx="540.0" cy="1159.9" rx="4.3" ry="3.5" fill="#14ec14"/>
<ellipse cx="550.0" cy="1159.4" rx="4.3" ry="3.5" fill="#14ec14"/>
<ellipse cx="559.9" cy="1162.4" rx="4.3" ry="3.5" fill="#14ec14"/>
<ellipse cx="570.0" cy="1167.3" rx="4.3" ry="3.5" fill="#14ec14"/>
<ellipse cx="579.9" cy="1173.2" rx="4.3" ry="3.5" fill="#14ec14"/>
<ellipse cx="589.9" cy="1179.2" rx="4.3" ry="3.5" fill="#14ec14"/>
<ellipse cx="599.8" cy="1184.7" rx="4.3" ry="3.5" fill="#14ec14"/>
<ellipse cx="609.9" cy="1189.6" rx="4.3" ry="3.5" fill="#14ec14"/>
<ellipse cx="619.8" cy="1193.3" rx="4.3" ry="3.5" fill="#14ec14"/>
<ellipse cx="359.0" cy="883.7" rx="4.3" ry="3.5" fill="#14ec14"/>
<ellipse cx="349.2" cy="899.6" rx="4.3" ry="3.5" fill="#14ec14"/>
<ellipse cx="339.6" cy="923.9" rx="4.3" ry="3.5" fill="#14ec14"/>
<ellipse cx="330.6" cy="956.6" rx="4.3" ry="3.5" fill="#14ec14"/>
<ellipse cx="322.1" cy="998.3" rx="4.3" ry="3.5" fill="#14ec14"/>
<ellipse cx="312.7" cy="1025.7" rx="4.3" ry="3.5" fill="#14ec14"/>
<ellipse cx="303.7" cy="1060.2" rx="4.3" ry="3.5" fill="#14ec14"/>
<ellipse cx="294.9" cy="1097.8" rx="4.3" ry="3.5" fill="#14ec14"/>
<ellipse cx="286.1" cy="1136.4" rx="4.3" ry="3.5" fill="#14ec14"/>
<ellipse cx="276.9" cy="1167.5" rx="4.3" ry="3.5" fill="#14ec14"/>
<ellipse cx="267.1" cy="1181.8" rx="4.3" ry="3.5" fill="#14ec14"/>
<ellipse cx="257.2" cy="1191.4" rx="4.3" ry="3.5" fill="#14ec14"/>
<ellipse cx="247.2" cy="1197.1" rx="4.3" ry="3.5" fill="#14ec14"/>
<ellipse cx="237.2" cy="1197.2" rx="4.3" ry="3.5" fill="#14ec14"/>
<ellipse cx="227.2" cy="1192.0" rx="4.3" ry="3.5" fill="#14ec14"/>
<ellipse cx="217.3" cy="1187.1" rx="4.3" ry="3.5" fill="#14ec14"/>
<ellipse cx="207.3" cy="1182.2" rx="4.3" ry="3.5" fill="#14ec14"/>
<ellipse cx="197.2" cy="1178.6" rx="4.3" ry="3.5" fill="#14ec14"/>
<ellipse cx="187.3" cy="1175.7" rx="4.3" ry="3.5" fill="#14ec14"/>
<ellipse cx="177.3" cy="1176.7" rx="4.3" ry="3.5" fill="#14ec14"/>
<ellipse cx="167.3" cy="1178.8" rx="4.3" ry="3.5" fill="#14ec14"/>
<ellipse cx="157.3" cy="1182.4" rx="4.3" ry="3.5" fill="#14ec14"/>
<ellipse cx="147.3" cy="1187.2" rx="4.3" ry="3.5" fill="#14ec14"/>
<ellipse cx="137.4" cy="1192.1" rx="4.3" ry="3.5" fill="#14ec14"/>
<ellipse cx="127.4" cy="1197.5" rx="4.3" ry="3.5" fill="#14ec14"/>
<ellipse cx="117.4" cy="1203.0" rx="4.3" ry="3.5" fill="#14ec14"/>
</g>
<text x="194.5" y="941.5" font-family="Liberation Sans, sans-serif" font-size="17.6" font-weight="bold" font-style="normal" text-anchor="middle" fill="#1daa4f" >FWHM<tspan font-size="12" dy="3">FZP</tspan></text>
<text x="195.8" y="965" font-family="Liberation Sans, sans-serif" font-size="17.6" font-weight="bold" font-style="normal" text-anchor="middle" fill="#1daa4f" >(0.91λ = 1.37 mm)</text>
<path d="M119,970.6 H253.5 L306,1040" fill="none" stroke="#14ec14" stroke-width="2" stroke-dasharray="5 3"/>
<text x="532.5" y="938.7" font-family="Liberation Sans, sans-serif" font-size="17.6" font-weight="bold" font-style="normal" text-anchor="middle" fill="#111" >FWHM<tspan font-size="12" dy="3">SOAL</tspan></text>
<text x="533.8" y="963.9" font-family="Liberation Sans, sans-serif" font-size="17.6" font-weight="bold" font-style="normal" text-anchor="middle" fill="#111" >(0.57λ = 0.84 mm)</text>
<path d="M610.7,970.8 H471.8 L426,1041.6" fill="none" stroke="#111" stroke-width="1.6"/>
<line x1="261.4" y1="1042.5" x2="326" y2="1042.5" stroke="#111" stroke-width="2"/>
<line x1="261.4" y1="1042.5" x2="300" y2="1042.5" stroke="#14ec14" stroke-width="2" stroke-dasharray="5 3"/>
<path d="M334.5,1042.5 l-10,-5 v10 z" fill="#111"/>
<path d="M310,1042.5 l-10,-5 v10 z" fill="#14ec14"/>
<line x1="412" y1="1042.5" x2="475" y2="1042.5" stroke="#111" stroke-width="2"/>
<line x1="432" y1="1042.5" x2="475" y2="1042.5" stroke="#14ec14" stroke-width="2" stroke-dasharray="5 3"/>
<path d="M403,1042.5 l10,-5 v10 z" fill="#111"/>
<path d="M425,1042.5 l10,-5 v10 z" fill="#14ec14"/>
</svg></body></html>
